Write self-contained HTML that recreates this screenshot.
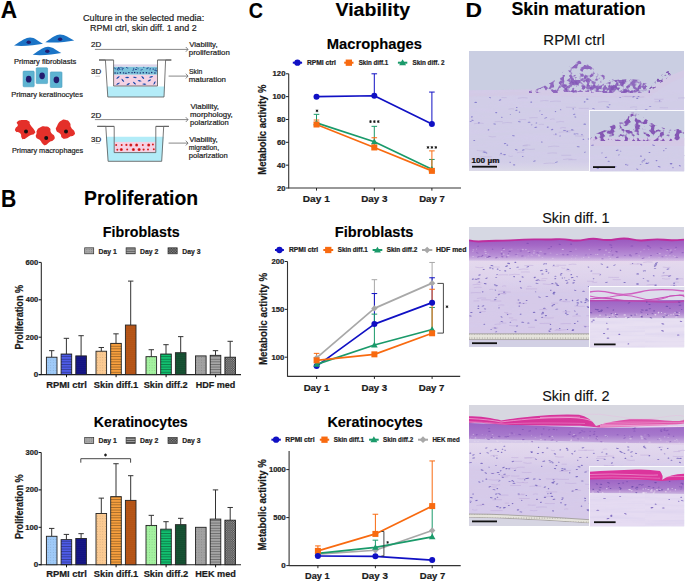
<!DOCTYPE html>
<html><head><meta charset="utf-8"><style>
html,body{margin:0;padding:0;background:#fff;}
svg{display:block;font-family:"Liberation Sans",sans-serif;}
</style></head><body>
<svg width="685" height="582" viewBox="0 0 685 582">
<defs>
<pattern id="pt1" width="2.6" height="2.6" patternUnits="userSpaceOnUse"><circle cx="1.3" cy="1.3" r="0.45" fill="#000" fill-opacity="0.18"/></pattern>
<pattern id="pt2" width="3" height="2.6" patternUnits="userSpaceOnUse"><rect x="0" y="0" width="3" height="0.9" fill="#000" fill-opacity="0.35"/></pattern>
<pattern id="pt3" width="2" height="2" patternUnits="userSpaceOnUse"><rect x="0" y="0" width="2" height="2" fill="#000" fill-opacity="0.22"/><circle cx="1" cy="1" r="0.6" fill="#fff" fill-opacity="0.22"/></pattern><pattern id="pt3g" width="1.8" height="1.8" patternUnits="userSpaceOnUse"><rect x="0" y="0" width="0.9" height="0.9" fill="#000" fill-opacity="0.5"/><rect x="0.9" y="0.9" width="0.9" height="0.9" fill="#000" fill-opacity="0.5"/><rect x="0.9" y="0" width="0.9" height="0.9" fill="#fff" fill-opacity="0.2"/></pattern>
<pattern id="pd1g" width="2.2" height="2.2" patternUnits="userSpaceOnUse"><rect width="2.2" height="2.2" fill="#a8a8a8"/><circle cx="1.1" cy="1.1" r="0.4" fill="#555"/></pattern>
<pattern id="pd2g" width="3" height="2.2" patternUnits="userSpaceOnUse"><rect width="3" height="2.2" fill="#a0a0a0"/><rect width="3" height="0.8" fill="#444"/></pattern>
<pattern id="pd3g" width="1.6" height="1.6" patternUnits="userSpaceOnUse"><rect width="1.6" height="1.6" fill="#909090"/><rect width="0.8" height="0.8" fill="#333"/><rect x="0.8" y="0.8" width="0.8" height="0.8" fill="#333"/></pattern>
<linearGradient id="gfade1" x1="0" y1="0" x2="0" y2="1"><stop offset="0" stop-color="#d8d4e8" stop-opacity="0"/><stop offset="1" stop-color="#dcdae8" stop-opacity="1"/></linearGradient>
<linearGradient id="gepi" x1="0" y1="0" x2="0" y2="1"><stop offset="0" stop-color="#9a58be"/><stop offset="0.3" stop-color="#a468c6"/><stop offset="0.75" stop-color="#b890d6"/><stop offset="1" stop-color="#d8c4e6"/></linearGradient>
<linearGradient id="gepi2" x1="0" y1="0" x2="0" y2="1"><stop offset="0" stop-color="#9e62c4"/><stop offset="0.65" stop-color="#aa7ccc"/><stop offset="1" stop-color="#ccb6e0"/></linearGradient>
<linearGradient id="gepi3" x1="0" y1="0" x2="0" y2="1"><stop offset="0" stop-color="#9c64c4"/><stop offset="0.55" stop-color="#a678cc"/><stop offset="1" stop-color="#cfbae2"/></linearGradient>
<linearGradient id="gtrans" x1="0" y1="0" x2="0" y2="1"><stop offset="0" stop-color="#dcc4e4" stop-opacity="0"/><stop offset="1" stop-color="#dcc8e8" stop-opacity="0.6"/></linearGradient>
<filter id="fstreak" x="0" y="0" width="1" height="1"><feTurbulence type="fractalNoise" baseFrequency="0.015 0.3" numOctaves="2" seed="4"/><feColorMatrix type="matrix" values="0 0 0 0 0.66  0 0 0 0 0.60  0 0 0 0 0.84  0 0 0 -1.3 0.8"/></filter>
<pattern id="streak" width="215" height="130" patternUnits="userSpaceOnUse"><rect width="215" height="130" filter="url(#fstreak)"/></pattern>
<pattern id="memb" width="2.6" height="4" patternUnits="userSpaceOnUse"><rect width="2.6" height="4" fill="#e6e4dc"/><circle cx="1.3" cy="2" r="0.6" fill="#9a968e"/></pattern>
<filter id="blotch" x="0" y="0" width="1" height="1"><feTurbulence type="fractalNoise" baseFrequency="0.2" numOctaves="2" seed="5" result="n"/><feColorMatrix in="n" type="matrix" values="0 0 0 0 0  0 0 0 0 0  0 0 0 0 0  7 0 0 0 -3.5" result="m"/><feComposite in="SourceGraphic" in2="m" operator="in" result="c"/><feGaussianBlur in="c" stdDeviation="0.35"/></filter>
<filter id="blotch2" x="0" y="0" width="1" height="1"><feTurbulence type="fractalNoise" baseFrequency="0.3" numOctaves="2" seed="8" result="n"/><feColorMatrix in="n" type="matrix" values="0 0 0 0 0  0 0 0 0 0  0 0 0 0 0  7 0 0 0 -3.5" result="m"/><feComposite in="SourceGraphic" in2="m" operator="in" result="c"/><feGaussianBlur in="c" stdDeviation="0.35"/></filter>
<filter id="blotch3" x="0" y="0" width="1" height="1"><feTurbulence type="fractalNoise" baseFrequency="0.2" numOctaves="2" seed="11" result="n"/><feColorMatrix in="n" type="matrix" values="0 0 0 0 0  0 0 0 0 0  0 0 0 0 0  7 0 0 0 -3.4" result="m"/><feComposite in="SourceGraphic" in2="m" operator="in" result="c"/><feGaussianBlur in="c" stdDeviation="0.35"/></filter>
<filter id="blotchd" x="0" y="0" width="1" height="1"><feTurbulence type="fractalNoise" baseFrequency="0.22" numOctaves="2" seed="17" result="n"/><feColorMatrix in="n" type="matrix" values="0 0 0 0 0  0 0 0 0 0  0 0 0 0 0  7 0 0 0 -3.2" result="m"/><feComposite in="SourceGraphic" in2="m" operator="in" result="c"/><feGaussianBlur in="c" stdDeviation="0.35"/></filter>
<linearGradient id="gpale" x1="0" y1="0" x2="0" y2="1"><stop offset="0" stop-color="#f2e8f2" stop-opacity="0.5"/><stop offset="0.5" stop-color="#f2e8f2" stop-opacity="0.3"/><stop offset="1" stop-color="#f2e8f2" stop-opacity="0"/></linearGradient>
<linearGradient id="gmag" x1="0" y1="0" x2="1" y2="0"><stop offset="0" stop-color="#d6329a"/><stop offset="0.55" stop-color="#d8389c"/><stop offset="0.65" stop-color="#de4aa6"/><stop offset="1" stop-color="#e058aa"/></linearGradient>
<clipPath id="cl1"><rect x="469" y="51" width="215" height="120"/></clipPath>
<clipPath id="cli1"><rect x="589.5" y="110.5" width="95" height="61"/></clipPath>
<clipPath id="cl2"><rect x="469" y="227" width="215" height="120"/></clipPath>
<clipPath id="cli2"><rect x="589.5" y="286.5" width="95" height="61"/></clipPath>
<clipPath id="cl3"><rect x="469" y="405" width="215" height="121"/></clipPath>
<clipPath id="cli3"><rect x="589.5" y="466.5" width="95" height="60"/></clipPath>
</defs>
<rect width="685" height="582" fill="#fff"/>
<text x="0.64" y="18.00" font-size="24.13" font-weight="bold" fill="#000" stroke="#000" stroke-width="0.13" textLength="16.36" lengthAdjust="spacingAndGlyphs" >A</text>
<text x="82.93" y="20.90" font-size="9.30" font-weight="normal" fill="#222" stroke="#222" stroke-width="0.20" textLength="121.30" lengthAdjust="spacingAndGlyphs" >Culture in the selected media:</text>
<text x="90.07" y="30.80" font-size="9.30" font-weight="normal" fill="#222" stroke="#222" stroke-width="0.20" textLength="106.58" lengthAdjust="spacingAndGlyphs" >RPMI ctrl, skin diff. 1 and 2</text>
<path d="M14,45.6 C22.0,40.4 26,37.6 30,37.6 C35,37.6 38,41.3 43,43.8 C35,45.0 24,46.800000000000004 14,45.6 Z" fill="#1b74c6" stroke="none" stroke-width="1" />
<path d="M45.3,42.2 C52.65,37.13 56,34.4 60,34.4 C65,34.4 69.2,38.0 74.2,40.5 C66.2,41.7 55.3,43.400000000000006 45.3,42.2 Z" fill="#1b74c6" stroke="none" stroke-width="1" />
<path d="M32.7,54.8 C40.35,49.535000000000004 44,46.7 48,46.7 C53,46.7 56.3,50.5 61.3,53.0 C53.3,54.2 42.7,56.0 32.7,54.8 Z" fill="#1b74c6" stroke="none" stroke-width="1" />
<ellipse cx="28.70" cy="42.20" rx="2.20" ry="1.70" fill="#221c6e" />
<ellipse cx="60.10" cy="39.20" rx="2.20" ry="1.70" fill="#221c6e" />
<ellipse cx="47.30" cy="51.30" rx="2.20" ry="1.70" fill="#221c6e" />
<text x="13.98" y="64.00" font-size="7.27" font-weight="normal" fill="#222" stroke="#222" stroke-width="0.20" textLength="62.29" lengthAdjust="spacingAndGlyphs" >Primary fibroblasts</text>
<rect x="23.10" y="71.10" width="11.10" height="15.70" fill="#5eb4d2" rx="0.8" stroke="#4a9ec0" stroke-width="0.6"/>
<ellipse cx="28.70" cy="79.20" rx="2.80" ry="3.40" fill="#221c6e" />
<rect x="36.20" y="67.80" width="11.40" height="15.80" fill="#5eb4d2" rx="0.8" stroke="#4a9ec0" stroke-width="0.6"/>
<ellipse cx="42.10" cy="75.80" rx="2.80" ry="3.40" fill="#221c6e" />
<rect x="50.30" y="71.90" width="11.70" height="15.60" fill="#5eb4d2" rx="0.8" stroke="#4a9ec0" stroke-width="0.6"/>
<ellipse cx="56.40" cy="79.80" rx="2.80" ry="3.40" fill="#221c6e" />
<text x="11.19" y="96.50" font-size="7.27" font-weight="normal" fill="#222" stroke="#222" stroke-width="0.20" textLength="71.78" lengthAdjust="spacingAndGlyphs" >Primary keratinocytes</text>
<path d="M17.30,121.80 C19.04,120.12 20.12,120.15 23.60,120.00 C27.08,119.85 26.89,119.89 28.90,121.30 C30.91,122.71 28.59,121.94 30.30,124.70 C32.01,127.46 33.43,127.77 34.60,130.50 C35.77,133.23 35.49,132.36 34.20,133.80 C32.91,135.24 32.61,134.13 30.30,135.30 C27.99,136.47 28.51,136.56 26.50,137.70 C24.49,138.84 25.07,139.10 23.60,139.10 C22.13,139.10 22.62,139.44 21.60,137.70 C20.58,135.96 21.91,135.19 20.20,133.30 C18.49,131.41 17.34,132.84 15.90,131.40 C14.46,129.96 14.83,130.24 15.40,128.50 C15.97,126.76 17.23,127.61 17.80,125.60 C18.37,123.59 15.56,123.48 17.30,121.80 Z" fill="#e4302a" stroke="none" stroke-width="1" />
<path d="M37.00,130.50 C37.99,128.79 37.56,128.83 39.90,127.60 C42.24,126.37 41.89,126.28 44.80,126.40 C47.71,126.52 47.74,126.20 49.60,128.00 C51.46,129.80 49.56,129.94 51.00,132.40 C52.44,134.86 53.68,133.89 54.40,136.20 C55.12,138.51 54.84,138.36 53.40,140.10 C51.96,141.84 51.91,140.56 49.60,142.00 C47.29,143.44 47.74,144.33 45.70,144.90 C43.66,145.47 44.54,145.34 42.80,143.90 C41.06,142.46 41.91,142.11 39.90,140.10 C37.89,138.09 37.09,139.24 36.10,137.20 C35.11,135.16 36.33,135.31 36.60,133.30 C36.87,131.29 36.01,132.21 37.00,130.50 Z" fill="#e4302a" stroke="none" stroke-width="1" />
<path d="M57.30,125.60 C58.74,122.69 58.49,122.48 61.10,120.80 C63.71,119.12 63.39,119.43 66.00,120.00 C68.61,120.57 68.24,120.42 69.80,122.70 C71.36,124.98 69.76,124.84 71.20,127.60 C72.64,130.36 73.85,129.59 74.60,131.90 C75.35,134.21 75.14,133.86 73.70,135.30 C72.26,136.74 72.11,135.71 69.80,136.70 C67.49,137.69 68.31,138.30 66.00,138.60 C63.69,138.90 63.84,139.14 62.10,137.70 C60.36,136.26 61.94,135.96 60.20,133.80 C58.46,131.64 57.17,132.96 56.30,130.50 C55.43,128.04 55.86,128.51 57.30,125.60 Z" fill="#e4302a" stroke="none" stroke-width="1" />
<circle cx="26.00" cy="131.40" r="2.00" fill="#111" />
<circle cx="46.20" cy="138.00" r="2.00" fill="#111" />
<circle cx="66.00" cy="131.40" r="2.00" fill="#111" />
<text x="12.00" y="152.90" font-size="7.27" font-weight="normal" fill="#222" stroke="#222" stroke-width="0.20" textLength="71.26" lengthAdjust="spacingAndGlyphs" >Primary macrophages</text>
<text x="91.00" y="47.30" font-size="6.98" font-weight="normal" fill="#222" stroke="#222" stroke-width="0.20" textLength="10.18" lengthAdjust="spacingAndGlyphs" >2D</text>
<line x1="94.90" y1="49.40" x2="188.00" y2="49.40" stroke="#555" stroke-width="0.7" />
<path d="M185.8,47.0 L188,49.4 L185.8,51.8" fill="none" stroke="#555" stroke-width="0.7" />
<text x="91.10" y="74.00" font-size="6.98" font-weight="normal" fill="#222" stroke="#222" stroke-width="0.20" textLength="10.08" lengthAdjust="spacingAndGlyphs" >3D</text>
<line x1="95.30" y1="76.20" x2="100.00" y2="76.20" stroke="#aaa" stroke-width="0.6" />
<path d="M105.4,60 L107.8,97 L164,97 L165.6,60 Z" fill="none" stroke="none" stroke-width="1" />
<path d="M106.9,86.5 L107.8,97 L164,97 L164.7,86.5 Z" fill="#b4ecf8" stroke="none" stroke-width="1" />
<rect x="113.60" y="74.60" width="43.80" height="11.40" fill="#f4d2e4" />
<rect x="113.60" y="66.60" width="43.80" height="8.00" fill="#7cc2da" />
<rect x="113.60" y="64.40" width="43.80" height="2.20" fill="#ddd4ea" />
<ellipse cx="133.53" cy="69.22" rx="0.65" ry="0.50" fill="#2a4e96" />
<ellipse cx="153.58" cy="68.88" rx="0.65" ry="0.50" fill="#2a4e96" />
<ellipse cx="135.88" cy="69.31" rx="0.65" ry="0.50" fill="#2a4e96" />
<ellipse cx="122.15" cy="69.04" rx="0.65" ry="0.50" fill="#2a4e96" />
<ellipse cx="141.07" cy="70.05" rx="0.65" ry="0.50" fill="#2a4e96" />
<ellipse cx="118.30" cy="68.29" rx="0.65" ry="0.50" fill="#2a4e96" />
<ellipse cx="118.15" cy="70.11" rx="0.65" ry="0.50" fill="#2a4e96" />
<ellipse cx="143.77" cy="67.35" rx="0.65" ry="0.50" fill="#2a4e96" />
<ellipse cx="156.04" cy="70.67" rx="0.65" ry="0.50" fill="#2a4e96" />
<ellipse cx="142.09" cy="69.42" rx="0.65" ry="0.50" fill="#2a4e96" />
<ellipse cx="120.99" cy="67.25" rx="0.65" ry="0.50" fill="#2a4e96" />
<ellipse cx="136.76" cy="67.41" rx="0.65" ry="0.50" fill="#2a4e96" />
<ellipse cx="122.38" cy="68.07" rx="0.65" ry="0.50" fill="#2a4e96" />
<ellipse cx="115.58" cy="68.87" rx="0.65" ry="0.50" fill="#2a4e96" />
<ellipse cx="133.02" cy="70.23" rx="0.65" ry="0.50" fill="#2a4e96" />
<ellipse cx="136.36" cy="69.51" rx="0.65" ry="0.50" fill="#2a4e96" />
<ellipse cx="135.54" cy="69.58" rx="0.65" ry="0.50" fill="#2a4e96" />
<ellipse cx="133.74" cy="68.20" rx="0.65" ry="0.50" fill="#2a4e96" />
<ellipse cx="156.70" cy="70.78" rx="0.65" ry="0.50" fill="#2a4e96" />
<ellipse cx="150.01" cy="69.75" rx="0.65" ry="0.50" fill="#2a4e96" />
<ellipse cx="127.70" cy="68.03" rx="0.65" ry="0.50" fill="#2a4e96" />
<ellipse cx="126.58" cy="67.45" rx="0.65" ry="0.50" fill="#2a4e96" />
<ellipse cx="146.87" cy="68.64" rx="0.65" ry="0.50" fill="#2a4e96" />
<ellipse cx="150.28" cy="68.59" rx="0.65" ry="0.50" fill="#2a4e96" />
<ellipse cx="155.02" cy="70.25" rx="0.65" ry="0.50" fill="#2a4e96" />
<ellipse cx="114.32" cy="67.95" rx="0.65" ry="0.50" fill="#2a4e96" />
<ellipse cx="152.99" cy="68.89" rx="0.65" ry="0.50" fill="#2a4e96" />
<ellipse cx="155.97" cy="68.63" rx="0.65" ry="0.50" fill="#2a4e96" />
<ellipse cx="117.40" cy="69.47" rx="0.65" ry="0.50" fill="#2a4e96" />
<ellipse cx="147.39" cy="68.17" rx="0.65" ry="0.50" fill="#2a4e96" />
<ellipse cx="118.00" cy="68.40" rx="0.65" ry="0.50" fill="#2a4e96" />
<ellipse cx="155.27" cy="69.93" rx="0.65" ry="0.50" fill="#2a4e96" />
<ellipse cx="119.31" cy="68.09" rx="0.65" ry="0.50" fill="#2a4e96" />
<ellipse cx="118.59" cy="67.42" rx="0.65" ry="0.50" fill="#2a4e96" />
<ellipse cx="148.17" cy="67.84" rx="0.65" ry="0.50" fill="#2a4e96" />
<ellipse cx="138.07" cy="68.81" rx="0.65" ry="0.50" fill="#2a4e96" />
<ellipse cx="122.40" cy="69.83" rx="0.65" ry="0.50" fill="#2a4e96" />
<ellipse cx="119.87" cy="69.52" rx="0.65" ry="0.50" fill="#2a4e96" />
<ellipse cx="119.25" cy="68.71" rx="0.65" ry="0.50" fill="#2a4e96" />
<ellipse cx="123.35" cy="68.17" rx="0.65" ry="0.50" fill="#2a4e96" />
<ellipse cx="115.08" cy="73.04" rx="0.75" ry="0.70" fill="#16246a" />
<ellipse cx="117.53" cy="73.11" rx="0.75" ry="0.70" fill="#16246a" />
<ellipse cx="120.33" cy="72.72" rx="0.75" ry="0.70" fill="#16246a" />
<ellipse cx="123.56" cy="72.91" rx="0.75" ry="0.70" fill="#16246a" />
<ellipse cx="125.96" cy="73.19" rx="0.75" ry="0.70" fill="#16246a" />
<ellipse cx="128.88" cy="72.61" rx="0.75" ry="0.70" fill="#16246a" />
<ellipse cx="132.06" cy="72.66" rx="0.75" ry="0.70" fill="#16246a" />
<ellipse cx="134.63" cy="72.46" rx="0.75" ry="0.70" fill="#16246a" />
<ellipse cx="137.35" cy="72.87" rx="0.75" ry="0.70" fill="#16246a" />
<ellipse cx="140.30" cy="72.88" rx="0.75" ry="0.70" fill="#16246a" />
<ellipse cx="143.22" cy="72.76" rx="0.75" ry="0.70" fill="#16246a" />
<ellipse cx="146.43" cy="72.79" rx="0.75" ry="0.70" fill="#16246a" />
<ellipse cx="149.04" cy="73.09" rx="0.75" ry="0.70" fill="#16246a" />
<ellipse cx="151.66" cy="72.52" rx="0.75" ry="0.70" fill="#16246a" />
<ellipse cx="154.95" cy="73.05" rx="0.75" ry="0.70" fill="#16246a" />
<ellipse cx="118.00" cy="77.50" rx="2.00" ry="0.65" fill="#2a62c0" transform="rotate(-40 118 77.5)"/>
<ellipse cx="118.00" cy="77.50" rx="0.70" ry="0.40" fill="#1a2a80" transform="rotate(-40 118 77.5)"/>
<ellipse cx="127.20" cy="77.50" rx="2.00" ry="0.65" fill="#2a62c0" transform="rotate(0 127.2 77.5)"/>
<ellipse cx="127.20" cy="77.50" rx="0.70" ry="0.40" fill="#1a2a80" transform="rotate(0 127.2 77.5)"/>
<ellipse cx="134.80" cy="77.40" rx="2.00" ry="0.65" fill="#2a62c0" transform="rotate(10 134.8 77.4)"/>
<ellipse cx="134.80" cy="77.40" rx="0.70" ry="0.40" fill="#1a2a80" transform="rotate(10 134.8 77.4)"/>
<ellipse cx="142.80" cy="77.50" rx="2.00" ry="0.65" fill="#2a62c0" transform="rotate(50 142.8 77.5)"/>
<ellipse cx="142.80" cy="77.50" rx="0.70" ry="0.40" fill="#1a2a80" transform="rotate(50 142.8 77.5)"/>
<ellipse cx="151.20" cy="76.90" rx="2.00" ry="0.65" fill="#2a62c0" transform="rotate(-15 151.2 76.9)"/>
<ellipse cx="151.20" cy="76.90" rx="0.70" ry="0.40" fill="#1a2a80" transform="rotate(-15 151.2 76.9)"/>
<ellipse cx="122.80" cy="80.40" rx="2.00" ry="0.65" fill="#2a62c0" transform="rotate(50 122.8 80.4)"/>
<ellipse cx="122.80" cy="80.40" rx="0.70" ry="0.40" fill="#1a2a80" transform="rotate(50 122.8 80.4)"/>
<ellipse cx="139.60" cy="80.80" rx="2.00" ry="0.65" fill="#2a62c0" transform="rotate(10 139.6 80.8)"/>
<ellipse cx="139.60" cy="80.80" rx="0.70" ry="0.40" fill="#1a2a80" transform="rotate(10 139.6 80.8)"/>
<ellipse cx="149.40" cy="80.40" rx="2.00" ry="0.65" fill="#2a62c0" transform="rotate(-30 149.4 80.4)"/>
<ellipse cx="149.40" cy="80.40" rx="0.70" ry="0.40" fill="#1a2a80" transform="rotate(-30 149.4 80.4)"/>
<ellipse cx="118.00" cy="83.70" rx="2.00" ry="0.65" fill="#2a62c0" transform="rotate(-30 118 83.7)"/>
<ellipse cx="118.00" cy="83.70" rx="0.70" ry="0.40" fill="#1a2a80" transform="rotate(-30 118 83.7)"/>
<ellipse cx="128.20" cy="84.10" rx="2.00" ry="0.65" fill="#2a62c0" transform="rotate(-30 128.2 84.1)"/>
<ellipse cx="128.20" cy="84.10" rx="0.70" ry="0.40" fill="#1a2a80" transform="rotate(-30 128.2 84.1)"/>
<ellipse cx="134.50" cy="83.20" rx="2.00" ry="0.65" fill="#2a62c0" transform="rotate(40 134.5 83.2)"/>
<ellipse cx="134.50" cy="83.20" rx="0.70" ry="0.40" fill="#1a2a80" transform="rotate(40 134.5 83.2)"/>
<ellipse cx="144.30" cy="84.10" rx="2.00" ry="0.65" fill="#2a62c0" transform="rotate(5 144.3 84.1)"/>
<ellipse cx="144.30" cy="84.10" rx="0.70" ry="0.40" fill="#1a2a80" transform="rotate(5 144.3 84.1)"/>
<ellipse cx="154.50" cy="83.00" rx="2.00" ry="0.65" fill="#2a62c0" transform="rotate(-60 154.5 83)"/>
<ellipse cx="154.50" cy="83.00" rx="0.70" ry="0.40" fill="#1a2a80" transform="rotate(-60 154.5 83)"/>
<path d="M99,60 L105.4,60 L107.8,97 L164,97 L165.6,60 L171.3,60" fill="none" stroke="#555" stroke-width="0.8" />
<path d="M113.6,60 L113.6,86 L157.5,86 L157.5,60" fill="none" stroke="#555" stroke-width="0.8" />
<line x1="99.00" y1="60.00" x2="113.60" y2="60.00" stroke="#666" stroke-width="1.2" />
<line x1="157.50" y1="60.00" x2="171.30" y2="60.00" stroke="#666" stroke-width="1.2" />
<line x1="168.60" y1="76.10" x2="188.00" y2="76.10" stroke="#555" stroke-width="0.7" />
<path d="M185.8,73.69999999999999 L188,76.1 L185.8,78.5" fill="none" stroke="#555" stroke-width="0.7" />
<text x="189.27" y="47.20" font-size="7.27" font-weight="normal" fill="#222" stroke="#222" stroke-width="0.20" textLength="28.32" lengthAdjust="spacingAndGlyphs" >Viability,</text>
<text x="188.79" y="54.80" font-size="7.27" font-weight="normal" fill="#222" stroke="#222" stroke-width="0.20" textLength="41.02" lengthAdjust="spacingAndGlyphs" >proliferation</text>
<text x="188.99" y="73.70" font-size="7.27" font-weight="normal" fill="#222" stroke="#222" stroke-width="0.20" textLength="13.25" lengthAdjust="spacingAndGlyphs" >Skin</text>
<text x="188.78" y="81.80" font-size="7.27" font-weight="normal" fill="#222" stroke="#222" stroke-width="0.20" textLength="37.13" lengthAdjust="spacingAndGlyphs" >maturation</text>
<text x="91.00" y="117.80" font-size="6.98" font-weight="normal" fill="#222" stroke="#222" stroke-width="0.20" textLength="10.18" lengthAdjust="spacingAndGlyphs" >2D</text>
<line x1="94.90" y1="119.60" x2="188.00" y2="119.60" stroke="#555" stroke-width="0.7" />
<path d="M185.8,117.19999999999999 L188,119.6 L185.8,122.0" fill="none" stroke="#555" stroke-width="0.7" />
<text x="91.10" y="141.50" font-size="6.98" font-weight="normal" fill="#222" stroke="#222" stroke-width="0.20" textLength="10.08" lengthAdjust="spacingAndGlyphs" >3D</text>
<line x1="95.30" y1="143.50" x2="100.00" y2="143.50" stroke="#aaa" stroke-width="0.6" />
<path d="M105.8,136.8 L108.1,161.3 L161.7,161.3 L163.7,136.8 Z" fill="#b2ecf8" stroke="none" stroke-width="1" />
<rect x="114.20" y="141.90" width="41.50" height="10.70" fill="#f4d2e4" />
<circle cx="116.20" cy="144.90" r="1.00" fill="#e42a2a" />
<circle cx="116.20" cy="144.90" r="0.40" fill="#a00a10" />
<circle cx="121.70" cy="144.90" r="1.00" fill="#e42a2a" />
<circle cx="121.70" cy="144.90" r="0.40" fill="#a00a10" />
<circle cx="126.40" cy="144.90" r="1.12" fill="#e42a2a" />
<circle cx="126.40" cy="144.90" r="0.45" fill="#a00a10" />
<circle cx="130.80" cy="144.90" r="1.50" fill="#e42a2a" />
<circle cx="130.80" cy="144.90" r="0.60" fill="#a00a10" />
<circle cx="136.60" cy="144.90" r="1.50" fill="#e42a2a" />
<circle cx="136.60" cy="144.90" r="0.60" fill="#a00a10" />
<circle cx="142.80" cy="144.90" r="1.00" fill="#e42a2a" />
<circle cx="142.80" cy="144.90" r="0.40" fill="#a00a10" />
<circle cx="148.70" cy="144.90" r="1.50" fill="#e42a2a" />
<circle cx="148.70" cy="144.90" r="0.60" fill="#a00a10" />
<circle cx="152.90" cy="144.50" r="1.00" fill="#e42a2a" />
<circle cx="152.90" cy="144.50" r="0.40" fill="#a00a10" />
<circle cx="117.30" cy="149.80" r="1.00" fill="#e42a2a" />
<circle cx="117.30" cy="149.80" r="0.40" fill="#a00a10" />
<circle cx="121.30" cy="149.60" r="1.50" fill="#e42a2a" />
<circle cx="121.30" cy="149.60" r="0.60" fill="#a00a10" />
<circle cx="127.20" cy="149.60" r="1.00" fill="#e42a2a" />
<circle cx="127.20" cy="149.60" r="0.40" fill="#a00a10" />
<circle cx="133.40" cy="149.60" r="1.50" fill="#e42a2a" />
<circle cx="133.40" cy="149.60" r="0.60" fill="#a00a10" />
<circle cx="139.10" cy="149.60" r="1.50" fill="#e42a2a" />
<circle cx="139.10" cy="149.60" r="0.60" fill="#a00a10" />
<circle cx="143.60" cy="149.60" r="1.12" fill="#e42a2a" />
<circle cx="143.60" cy="149.60" r="0.45" fill="#a00a10" />
<circle cx="148.00" cy="149.60" r="1.00" fill="#e42a2a" />
<circle cx="148.00" cy="149.60" r="0.40" fill="#a00a10" />
<circle cx="153.80" cy="149.30" r="1.00" fill="#e42a2a" />
<circle cx="153.80" cy="149.30" r="0.40" fill="#a00a10" />
<path d="M97.3,126.4 L105.8,126.4 L108.1,161.3 L161.7,161.3 L163.7,126.4 L168.9,126.4" fill="none" stroke="#555" stroke-width="0.8" />
<path d="M114.2,126.4 L114.2,152.6 L155.8,152.6 L155.8,126.4" fill="none" stroke="#555" stroke-width="0.8" />
<line x1="97.30" y1="126.40" x2="114.20" y2="126.40" stroke="#666" stroke-width="1.2" />
<line x1="155.80" y1="126.40" x2="168.90" y2="126.40" stroke="#666" stroke-width="1.2" />
<line x1="168.60" y1="143.10" x2="188.00" y2="143.10" stroke="#555" stroke-width="0.7" />
<path d="M185.8,140.7 L188,143.1 L185.8,145.5" fill="none" stroke="#555" stroke-width="0.7" />
<text x="190.57" y="108.90" font-size="7.27" font-weight="normal" fill="#222" stroke="#222" stroke-width="0.20" textLength="28.32" lengthAdjust="spacingAndGlyphs" >Viability,</text>
<text x="190.09" y="117.10" font-size="7.27" font-weight="normal" fill="#222" stroke="#222" stroke-width="0.20" textLength="42.61" lengthAdjust="spacingAndGlyphs" >morphology,</text>
<text x="190.11" y="125.00" font-size="7.27" font-weight="normal" fill="#222" stroke="#222" stroke-width="0.20" textLength="38.68" lengthAdjust="spacingAndGlyphs" >polarization</text>
<text x="189.27" y="142.30" font-size="7.27" font-weight="normal" fill="#222" stroke="#222" stroke-width="0.20" textLength="28.42" lengthAdjust="spacingAndGlyphs" >Viability,</text>
<text x="188.84" y="150.30" font-size="7.27" font-weight="normal" fill="#222" stroke="#222" stroke-width="0.20" textLength="30.28" lengthAdjust="spacingAndGlyphs" >migration,</text>
<text x="188.81" y="157.80" font-size="7.27" font-weight="normal" fill="#222" stroke="#222" stroke-width="0.20" textLength="39.09" lengthAdjust="spacingAndGlyphs" >polarization</text>
<text x="0.89" y="206.50" font-size="23.84" font-weight="bold" fill="#000" stroke="#000" stroke-width="0.13" textLength="15.28" lengthAdjust="spacingAndGlyphs" >B</text>
<text x="84.00" y="204.60" font-size="19.62" font-weight="bold" fill="#000" stroke="#000" stroke-width="0.13" textLength="114.20" lengthAdjust="spacingAndGlyphs" >Proliferation</text>
<text x="102.75" y="236.80" font-size="14.53" font-weight="bold" fill="#000" stroke="#000" stroke-width="0.13" textLength="76.94" lengthAdjust="spacingAndGlyphs" >Fibroblasts</text>
<rect x="84.70" y="247.80" width="9.00" height="6.00" fill="url(#pd1g)" stroke="#333" stroke-width="0.7"/>
<text x="98.54" y="253.60" font-size="7.85" font-weight="bold" fill="#222" stroke="#222" stroke-width="0.22" textLength="18.25" lengthAdjust="spacingAndGlyphs" >Day 1</text>
<rect x="126.10" y="247.80" width="9.10" height="6.00" fill="url(#pd2g)" stroke="#333" stroke-width="0.7"/>
<text x="140.04" y="253.60" font-size="7.85" font-weight="bold" fill="#222" stroke="#222" stroke-width="0.22" textLength="18.23" lengthAdjust="spacingAndGlyphs" >Day 2</text>
<rect x="168.00" y="247.80" width="9.20" height="6.00" fill="url(#pd3g)" stroke="#333" stroke-width="0.7"/>
<text x="182.24" y="253.60" font-size="7.85" font-weight="bold" fill="#222" stroke="#222" stroke-width="0.22" textLength="18.20" lengthAdjust="spacingAndGlyphs" >Day 3</text>
<line x1="41.30" y1="262.40" x2="41.30" y2="375.10" stroke="#222" stroke-width="1.05" />
<line x1="38.70" y1="374.60" x2="241.00" y2="374.60" stroke="#222" stroke-width="1.15" />
<line x1="38.70" y1="374.60" x2="41.30" y2="374.60" stroke="#111" stroke-width="1.0" />
<text x="33.78" y="377.10" font-size="7.27" font-weight="bold" fill="#222" stroke="#222" stroke-width="0.22" textLength="4.44" lengthAdjust="spacingAndGlyphs" >0</text>
<line x1="38.70" y1="337.20" x2="41.30" y2="337.20" stroke="#111" stroke-width="1.0" />
<text x="25.64" y="339.70" font-size="7.27" font-weight="bold" fill="#222" stroke="#222" stroke-width="0.22" textLength="12.57" lengthAdjust="spacingAndGlyphs" >200</text>
<line x1="38.70" y1="299.80" x2="41.30" y2="299.80" stroke="#111" stroke-width="1.0" />
<text x="25.79" y="302.30" font-size="7.27" font-weight="bold" fill="#222" stroke="#222" stroke-width="0.22" textLength="12.42" lengthAdjust="spacingAndGlyphs" >400</text>
<line x1="38.70" y1="262.40" x2="41.30" y2="262.40" stroke="#111" stroke-width="1.0" />
<text x="25.62" y="264.90" font-size="7.27" font-weight="bold" fill="#222" stroke="#222" stroke-width="0.22" textLength="12.59" lengthAdjust="spacingAndGlyphs" >600</text>
<line x1="66.50" y1="374.60" x2="66.50" y2="377.20" stroke="#111" stroke-width="1.0" />
<line x1="51.70" y1="350.66" x2="51.70" y2="357.21" stroke="#333" stroke-width="1.0" />
<line x1="49.00" y1="350.66" x2="54.40" y2="350.66" stroke="#333" stroke-width="1.0" />
<rect x="46.40" y="357.21" width="10.60" height="17.39" fill="#9fcaf8" stroke="#222" stroke-width="0.9"/>
<rect x="46.40" y="357.21" width="10.60" height="17.39" fill="url(#pt1)" />
<line x1="66.40" y1="338.32" x2="66.40" y2="354.03" stroke="#333" stroke-width="1.0" />
<line x1="63.70" y1="338.32" x2="69.10" y2="338.32" stroke="#333" stroke-width="1.0" />
<rect x="61.10" y="354.03" width="10.60" height="20.57" fill="#4e5ce8" stroke="#222" stroke-width="0.9"/>
<rect x="61.10" y="354.03" width="10.60" height="20.57" fill="url(#pt2)" />
<line x1="81.10" y1="335.70" x2="81.10" y2="355.90" stroke="#333" stroke-width="1.0" />
<line x1="78.40" y1="335.70" x2="83.80" y2="335.70" stroke="#333" stroke-width="1.0" />
<rect x="75.80" y="355.90" width="10.60" height="18.70" fill="#0c0ca0" stroke="#222" stroke-width="0.9"/>
<rect x="75.80" y="355.90" width="10.60" height="18.70" fill="url(#pt3)" />
<line x1="116.10" y1="374.60" x2="116.10" y2="377.20" stroke="#111" stroke-width="1.0" />
<line x1="101.30" y1="347.49" x2="101.30" y2="351.23" stroke="#333" stroke-width="1.0" />
<line x1="98.60" y1="347.49" x2="104.00" y2="347.49" stroke="#333" stroke-width="1.0" />
<rect x="96.00" y="351.23" width="10.60" height="23.38" fill="#fbca92" stroke="#222" stroke-width="0.9"/>
<rect x="96.00" y="351.23" width="10.60" height="23.38" fill="url(#pt1)" />
<line x1="116.00" y1="333.83" x2="116.00" y2="343.37" stroke="#333" stroke-width="1.0" />
<line x1="113.30" y1="333.83" x2="118.70" y2="333.83" stroke="#333" stroke-width="1.0" />
<rect x="110.70" y="343.37" width="10.60" height="31.23" fill="#f8a03e" stroke="#222" stroke-width="0.9"/>
<rect x="110.70" y="343.37" width="10.60" height="31.23" fill="url(#pt2)" />
<line x1="130.70" y1="281.10" x2="130.70" y2="325.05" stroke="#333" stroke-width="1.0" />
<line x1="128.00" y1="281.10" x2="133.40" y2="281.10" stroke="#333" stroke-width="1.0" />
<rect x="125.40" y="325.05" width="10.60" height="49.56" fill="#e2600e" stroke="#222" stroke-width="0.9"/>
<rect x="125.40" y="325.05" width="10.60" height="49.56" fill="url(#pt3)" />
<line x1="166.10" y1="374.60" x2="166.10" y2="377.20" stroke="#111" stroke-width="1.0" />
<line x1="151.30" y1="349.73" x2="151.30" y2="356.65" stroke="#333" stroke-width="1.0" />
<line x1="148.60" y1="349.73" x2="154.00" y2="349.73" stroke="#333" stroke-width="1.0" />
<rect x="146.00" y="356.65" width="10.60" height="17.95" fill="#a4f2a0" stroke="#222" stroke-width="0.9"/>
<rect x="146.00" y="356.65" width="10.60" height="17.95" fill="url(#pt1)" />
<line x1="166.00" y1="344.68" x2="166.00" y2="354.03" stroke="#333" stroke-width="1.0" />
<line x1="163.30" y1="344.68" x2="168.70" y2="344.68" stroke="#333" stroke-width="1.0" />
<rect x="160.70" y="354.03" width="10.60" height="20.57" fill="#12c070" stroke="#222" stroke-width="0.9"/>
<rect x="160.70" y="354.03" width="10.60" height="20.57" fill="url(#pt2)" />
<line x1="180.70" y1="336.64" x2="180.70" y2="352.72" stroke="#333" stroke-width="1.0" />
<line x1="178.00" y1="336.64" x2="183.40" y2="336.64" stroke="#333" stroke-width="1.0" />
<rect x="175.40" y="352.72" width="10.60" height="21.88" fill="#0c5a32" stroke="#222" stroke-width="0.9"/>
<rect x="175.40" y="352.72" width="10.60" height="21.88" fill="url(#pt3)" />
<line x1="215.60" y1="374.60" x2="215.60" y2="377.20" stroke="#111" stroke-width="1.0" />
<rect x="195.50" y="355.90" width="10.60" height="18.70" fill="#a2a2a2" stroke="#222" stroke-width="0.9"/>
<rect x="195.50" y="355.90" width="10.60" height="18.70" fill="url(#pt1)" />
<line x1="215.50" y1="350.66" x2="215.50" y2="355.34" stroke="#333" stroke-width="1.0" />
<line x1="212.80" y1="350.66" x2="218.20" y2="350.66" stroke="#333" stroke-width="1.0" />
<rect x="210.20" y="355.34" width="10.60" height="19.26" fill="#a6a6a6" stroke="#222" stroke-width="0.9"/>
<rect x="210.20" y="355.34" width="10.60" height="19.26" fill="url(#pt2)" />
<line x1="230.20" y1="341.31" x2="230.20" y2="357.21" stroke="#333" stroke-width="1.0" />
<line x1="227.50" y1="341.31" x2="232.90" y2="341.31" stroke="#333" stroke-width="1.0" />
<rect x="224.90" y="357.21" width="10.60" height="17.39" fill="#8c8c8c" stroke="#222" stroke-width="0.9"/>
<rect x="224.90" y="357.21" width="10.60" height="17.39" fill="url(#pt3g)" />
<text x="46.17" y="387.80" font-size="9.45" font-weight="bold" fill="#1a1a1a" stroke="#1a1a1a" stroke-width="0.22" textLength="40.69" lengthAdjust="spacingAndGlyphs" >RPMI ctrl</text>
<text x="93.83" y="387.80" font-size="9.45" font-weight="bold" fill="#1a1a1a" stroke="#1a1a1a" stroke-width="0.22" textLength="44.43" lengthAdjust="spacingAndGlyphs" >Skin diff.1</text>
<text x="143.63" y="387.80" font-size="9.45" font-weight="bold" fill="#1a1a1a" stroke="#1a1a1a" stroke-width="0.22" textLength="44.03" lengthAdjust="spacingAndGlyphs" >Skin diff.2</text>
<text x="195.80" y="387.80" font-size="9.45" font-weight="bold" fill="#1a1a1a" stroke="#1a1a1a" stroke-width="0.22" textLength="39.60" lengthAdjust="spacingAndGlyphs" >HDF med</text>
<text transform="translate(23.00,349.41) rotate(-90)" x="0" y="0" font-size="10.17" font-weight="bold" fill="#1a1a1a" stroke="#1a1a1a" stroke-width="0.22" textLength="64.65" lengthAdjust="spacingAndGlyphs">Proliferation %</text>
<text x="93.85" y="427.10" font-size="13.95" font-weight="bold" fill="#000" stroke="#000" stroke-width="0.13" textLength="93.93" lengthAdjust="spacingAndGlyphs" >Keratinocytes</text>
<rect x="84.70" y="437.50" width="9.00" height="6.10" fill="url(#pd1g)" stroke="#333" stroke-width="0.7"/>
<text x="98.54" y="443.20" font-size="7.85" font-weight="bold" fill="#222" stroke="#222" stroke-width="0.22" textLength="18.25" lengthAdjust="spacingAndGlyphs" >Day 1</text>
<rect x="126.10" y="437.50" width="9.10" height="6.10" fill="url(#pd2g)" stroke="#333" stroke-width="0.7"/>
<text x="140.04" y="443.20" font-size="7.85" font-weight="bold" fill="#222" stroke="#222" stroke-width="0.22" textLength="18.23" lengthAdjust="spacingAndGlyphs" >Day 2</text>
<rect x="168.00" y="437.50" width="9.20" height="6.10" fill="url(#pd3g)" stroke="#333" stroke-width="0.7"/>
<text x="182.24" y="443.20" font-size="7.85" font-weight="bold" fill="#222" stroke="#222" stroke-width="0.22" textLength="18.20" lengthAdjust="spacingAndGlyphs" >Day 3</text>
<line x1="41.20" y1="452.50" x2="41.20" y2="565.20" stroke="#222" stroke-width="1.05" />
<line x1="38.60" y1="564.70" x2="241.00" y2="564.70" stroke="#222" stroke-width="1.15" />
<line x1="38.60" y1="564.70" x2="41.20" y2="564.70" stroke="#111" stroke-width="1.0" />
<text x="33.68" y="567.20" font-size="7.27" font-weight="bold" fill="#222" stroke="#222" stroke-width="0.22" textLength="4.44" lengthAdjust="spacingAndGlyphs" >0</text>
<line x1="38.60" y1="527.30" x2="41.20" y2="527.30" stroke="#111" stroke-width="1.0" />
<text x="25.32" y="529.80" font-size="7.27" font-weight="bold" fill="#222" stroke="#222" stroke-width="0.22" textLength="12.80" lengthAdjust="spacingAndGlyphs" >100</text>
<line x1="38.60" y1="489.90" x2="41.20" y2="489.90" stroke="#111" stroke-width="1.0" />
<text x="25.54" y="492.40" font-size="7.27" font-weight="bold" fill="#222" stroke="#222" stroke-width="0.22" textLength="12.57" lengthAdjust="spacingAndGlyphs" >200</text>
<line x1="38.60" y1="452.50" x2="41.20" y2="452.50" stroke="#111" stroke-width="1.0" />
<text x="25.63" y="455.00" font-size="7.27" font-weight="bold" fill="#222" stroke="#222" stroke-width="0.22" textLength="12.48" lengthAdjust="spacingAndGlyphs" >300</text>
<line x1="66.50" y1="564.70" x2="66.50" y2="567.30" stroke="#111" stroke-width="1.0" />
<line x1="51.70" y1="528.42" x2="51.70" y2="536.28" stroke="#333" stroke-width="1.0" />
<line x1="49.00" y1="528.42" x2="54.40" y2="528.42" stroke="#333" stroke-width="1.0" />
<rect x="46.40" y="536.28" width="10.60" height="28.42" fill="#9fcaf8" stroke="#222" stroke-width="0.9"/>
<rect x="46.40" y="536.28" width="10.60" height="28.42" fill="url(#pt1)" />
<line x1="66.40" y1="534.41" x2="66.40" y2="539.64" stroke="#333" stroke-width="1.0" />
<line x1="63.70" y1="534.41" x2="69.10" y2="534.41" stroke="#333" stroke-width="1.0" />
<rect x="61.10" y="539.64" width="10.60" height="25.06" fill="#4e5ce8" stroke="#222" stroke-width="0.9"/>
<rect x="61.10" y="539.64" width="10.60" height="25.06" fill="url(#pt2)" />
<line x1="81.10" y1="533.66" x2="81.10" y2="538.52" stroke="#333" stroke-width="1.0" />
<line x1="78.40" y1="533.66" x2="83.80" y2="533.66" stroke="#333" stroke-width="1.0" />
<rect x="75.80" y="538.52" width="10.60" height="26.18" fill="#0c0ca0" stroke="#222" stroke-width="0.9"/>
<rect x="75.80" y="538.52" width="10.60" height="26.18" fill="url(#pt3)" />
<line x1="116.10" y1="564.70" x2="116.10" y2="567.30" stroke="#111" stroke-width="1.0" />
<line x1="101.30" y1="498.13" x2="101.30" y2="513.46" stroke="#333" stroke-width="1.0" />
<line x1="98.60" y1="498.13" x2="104.00" y2="498.13" stroke="#333" stroke-width="1.0" />
<rect x="96.00" y="513.46" width="10.60" height="51.24" fill="#fbca92" stroke="#222" stroke-width="0.9"/>
<rect x="96.00" y="513.46" width="10.60" height="51.24" fill="url(#pt1)" />
<line x1="116.00" y1="463.72" x2="116.00" y2="496.63" stroke="#333" stroke-width="1.0" />
<line x1="113.30" y1="463.72" x2="118.70" y2="463.72" stroke="#333" stroke-width="1.0" />
<rect x="110.70" y="496.63" width="10.60" height="68.07" fill="#f8a03e" stroke="#222" stroke-width="0.9"/>
<rect x="110.70" y="496.63" width="10.60" height="68.07" fill="url(#pt2)" />
<line x1="130.70" y1="475.69" x2="130.70" y2="500.37" stroke="#333" stroke-width="1.0" />
<line x1="128.00" y1="475.69" x2="133.40" y2="475.69" stroke="#333" stroke-width="1.0" />
<rect x="125.40" y="500.37" width="10.60" height="64.33" fill="#e2600e" stroke="#222" stroke-width="0.9"/>
<rect x="125.40" y="500.37" width="10.60" height="64.33" fill="url(#pt3)" />
<line x1="166.10" y1="564.70" x2="166.10" y2="567.30" stroke="#111" stroke-width="1.0" />
<line x1="151.30" y1="515.33" x2="151.30" y2="525.43" stroke="#333" stroke-width="1.0" />
<line x1="148.60" y1="515.33" x2="154.00" y2="515.33" stroke="#333" stroke-width="1.0" />
<rect x="146.00" y="525.43" width="10.60" height="39.27" fill="#a4f2a0" stroke="#222" stroke-width="0.9"/>
<rect x="146.00" y="525.43" width="10.60" height="39.27" fill="url(#pt1)" />
<line x1="166.00" y1="521.69" x2="166.00" y2="529.17" stroke="#333" stroke-width="1.0" />
<line x1="163.30" y1="521.69" x2="168.70" y2="521.69" stroke="#333" stroke-width="1.0" />
<rect x="160.70" y="529.17" width="10.60" height="35.53" fill="#12c070" stroke="#222" stroke-width="0.9"/>
<rect x="160.70" y="529.17" width="10.60" height="35.53" fill="url(#pt2)" />
<line x1="180.70" y1="518.32" x2="180.70" y2="524.68" stroke="#333" stroke-width="1.0" />
<line x1="178.00" y1="518.32" x2="183.40" y2="518.32" stroke="#333" stroke-width="1.0" />
<rect x="175.40" y="524.68" width="10.60" height="40.02" fill="#0c5a32" stroke="#222" stroke-width="0.9"/>
<rect x="175.40" y="524.68" width="10.60" height="40.02" fill="url(#pt3)" />
<line x1="215.60" y1="564.70" x2="215.60" y2="567.30" stroke="#111" stroke-width="1.0" />
<rect x="195.50" y="527.30" width="10.60" height="37.40" fill="#a2a2a2" stroke="#222" stroke-width="0.9"/>
<rect x="195.50" y="527.30" width="10.60" height="37.40" fill="url(#pt1)" />
<line x1="215.50" y1="489.90" x2="215.50" y2="519.07" stroke="#333" stroke-width="1.0" />
<line x1="212.80" y1="489.90" x2="218.20" y2="489.90" stroke="#333" stroke-width="1.0" />
<rect x="210.20" y="519.07" width="10.60" height="45.63" fill="#a6a6a6" stroke="#222" stroke-width="0.9"/>
<rect x="210.20" y="519.07" width="10.60" height="45.63" fill="url(#pt2)" />
<line x1="230.20" y1="507.48" x2="230.20" y2="520.19" stroke="#333" stroke-width="1.0" />
<line x1="227.50" y1="507.48" x2="232.90" y2="507.48" stroke="#333" stroke-width="1.0" />
<rect x="224.90" y="520.19" width="10.60" height="44.51" fill="#8c8c8c" stroke="#222" stroke-width="0.9"/>
<rect x="224.90" y="520.19" width="10.60" height="44.51" fill="url(#pt3g)" />
<text x="46.17" y="577.30" font-size="9.45" font-weight="bold" fill="#1a1a1a" stroke="#1a1a1a" stroke-width="0.22" textLength="40.69" lengthAdjust="spacingAndGlyphs" >RPMI ctrl</text>
<text x="93.83" y="577.30" font-size="9.45" font-weight="bold" fill="#1a1a1a" stroke="#1a1a1a" stroke-width="0.22" textLength="44.43" lengthAdjust="spacingAndGlyphs" >Skin diff.1</text>
<text x="143.63" y="577.30" font-size="9.45" font-weight="bold" fill="#1a1a1a" stroke="#1a1a1a" stroke-width="0.22" textLength="44.54" lengthAdjust="spacingAndGlyphs" >Skin diff.2</text>
<text x="195.19" y="577.30" font-size="9.45" font-weight="bold" fill="#1a1a1a" stroke="#1a1a1a" stroke-width="0.22" textLength="40.72" lengthAdjust="spacingAndGlyphs" >HEK med</text>
<text transform="translate(23.00,539.11) rotate(-90)" x="0" y="0" font-size="10.17" font-weight="bold" fill="#1a1a1a" stroke="#1a1a1a" stroke-width="0.22" textLength="64.86" lengthAdjust="spacingAndGlyphs">Proliferation %</text>
<path d="M80.8,462.7 L80.8,458.7 L130.6,458.7 L130.6,462.7" fill="none" stroke="#333" stroke-width="0.9" />
<path d="M105.50,453.50 L105.50,456.50 M106.80,454.25 L104.20,455.75 M106.80,455.75 L104.20,454.25 " fill="none" stroke="#1a1a1a" stroke-width="0.85" />
<circle cx="105.50" cy="455.00" r="0.75" fill="#1a1a1a" />
<text x="248.69" y="17.90" font-size="22.38" font-weight="bold" fill="#000" stroke="#000" stroke-width="0.13" textLength="14.25" lengthAdjust="spacingAndGlyphs" >C</text>
<text x="335.47" y="16.10" font-size="18.90" font-weight="bold" fill="#000" stroke="#000" stroke-width="0.13" textLength="74.64" lengthAdjust="spacingAndGlyphs" >Viability</text>
<text x="326.81" y="49.20" font-size="14.53" font-weight="bold" fill="#000" stroke="#000" stroke-width="0.13" textLength="95.09" lengthAdjust="spacingAndGlyphs" >Macrophages</text>
<line x1="292.80" y1="62.70" x2="302.10" y2="62.70" stroke="#1010c4" stroke-width="2.0" />
<circle cx="297.45" cy="62.70" r="3.15" fill="#1010c4" />
<text x="307.05" y="64.80" font-size="6.69" font-weight="bold" fill="#222" stroke="#222" stroke-width="0.22" textLength="28.92" lengthAdjust="spacingAndGlyphs" >RPMI ctrl</text>
<line x1="344.20" y1="62.70" x2="353.50" y2="62.70" stroke="#f86a10" stroke-width="2.0" />
<rect x="345.70" y="59.55" width="6.30" height="6.30" fill="#f86a10" />
<text x="358.72" y="64.80" font-size="6.69" font-weight="bold" fill="#222" stroke="#222" stroke-width="0.22" textLength="29.55" lengthAdjust="spacingAndGlyphs" >Skin diff.1</text>
<line x1="397.90" y1="62.70" x2="407.30" y2="62.70" stroke="#1a9a6a" stroke-width="2.0" />
<path d="M402.60,59.34 L406.06,65.22 L399.14,65.22 Z" fill="#1a9a6a" stroke="none" stroke-width="1" />
<text x="412.42" y="64.80" font-size="6.69" font-weight="bold" fill="#222" stroke="#222" stroke-width="0.22" textLength="32.04" lengthAdjust="spacingAndGlyphs" >Skin diff. 2</text>
<line x1="288.70" y1="73.80" x2="288.70" y2="188.50" stroke="#333" stroke-width="1.1" />
<line x1="288.70" y1="188.00" x2="461.00" y2="188.00" stroke="#333" stroke-width="1.15" />
<line x1="285.90" y1="188.00" x2="288.70" y2="188.00" stroke="#222" stroke-width="1.0" />
<text x="276.94" y="190.50" font-size="7.27" font-weight="bold" fill="#222" stroke="#222" stroke-width="0.22" textLength="8.48" lengthAdjust="spacingAndGlyphs" >20</text>
<line x1="285.90" y1="165.16" x2="288.70" y2="165.16" stroke="#222" stroke-width="1.0" />
<text x="277.09" y="167.66" font-size="7.27" font-weight="bold" fill="#222" stroke="#222" stroke-width="0.22" textLength="8.32" lengthAdjust="spacingAndGlyphs" >40</text>
<line x1="285.90" y1="142.32" x2="288.70" y2="142.32" stroke="#222" stroke-width="1.0" />
<text x="276.92" y="144.82" font-size="7.27" font-weight="bold" fill="#222" stroke="#222" stroke-width="0.22" textLength="8.49" lengthAdjust="spacingAndGlyphs" >60</text>
<line x1="285.90" y1="119.48" x2="288.70" y2="119.48" stroke="#222" stroke-width="1.0" />
<text x="276.96" y="121.98" font-size="7.27" font-weight="bold" fill="#222" stroke="#222" stroke-width="0.22" textLength="8.45" lengthAdjust="spacingAndGlyphs" >80</text>
<line x1="285.90" y1="96.64" x2="288.70" y2="96.64" stroke="#222" stroke-width="1.0" />
<text x="272.62" y="99.14" font-size="7.27" font-weight="bold" fill="#222" stroke="#222" stroke-width="0.22" textLength="12.80" lengthAdjust="spacingAndGlyphs" >100</text>
<line x1="285.90" y1="73.80" x2="288.70" y2="73.80" stroke="#222" stroke-width="1.0" />
<text x="272.62" y="76.30" font-size="7.27" font-weight="bold" fill="#222" stroke="#222" stroke-width="0.22" textLength="12.80" lengthAdjust="spacingAndGlyphs" >120</text>
<line x1="316.50" y1="188.00" x2="316.50" y2="190.60" stroke="#222" stroke-width="1.0" />
<line x1="374.30" y1="188.00" x2="374.30" y2="190.60" stroke="#222" stroke-width="1.0" />
<line x1="431.90" y1="188.00" x2="431.90" y2="190.60" stroke="#222" stroke-width="1.0" />
<text x="302.82" y="202.00" font-size="9.88" font-weight="bold" fill="#1a1a1a" stroke="#1a1a1a" stroke-width="0.22" textLength="26.96" lengthAdjust="spacingAndGlyphs" >Day 1</text>
<text x="361.24" y="202.00" font-size="9.88" font-weight="bold" fill="#1a1a1a" stroke="#1a1a1a" stroke-width="0.22" textLength="26.21" lengthAdjust="spacingAndGlyphs" >Day 3</text>
<text x="419.16" y="202.00" font-size="9.88" font-weight="bold" fill="#1a1a1a" stroke="#1a1a1a" stroke-width="0.22" textLength="25.56" lengthAdjust="spacingAndGlyphs" >Day 7</text>
<line x1="374.30" y1="73.80" x2="374.30" y2="95.73" stroke="#1010c4" stroke-width="1.0" />
<line x1="371.50" y1="73.80" x2="377.10" y2="73.80" stroke="#1010c4" stroke-width="1.0" />
<line x1="431.90" y1="92.07" x2="431.90" y2="124.05" stroke="#1010c4" stroke-width="1.0" />
<line x1="429.10" y1="92.07" x2="434.70" y2="92.07" stroke="#1010c4" stroke-width="1.0" />
<line x1="316.50" y1="114.34" x2="316.50" y2="122.91" stroke="#1a9a6a" stroke-width="1.0" />
<line x1="313.70" y1="114.34" x2="319.30" y2="114.34" stroke="#1a9a6a" stroke-width="1.0" />
<line x1="374.30" y1="126.33" x2="374.30" y2="141.75" stroke="#1a9a6a" stroke-width="1.0" />
<line x1="371.50" y1="126.33" x2="377.10" y2="126.33" stroke="#1a9a6a" stroke-width="1.0" />
<line x1="431.90" y1="159.45" x2="431.90" y2="169.16" stroke="#1a9a6a" stroke-width="1.0" />
<line x1="429.10" y1="159.45" x2="434.70" y2="159.45" stroke="#1a9a6a" stroke-width="1.0" />
<line x1="316.50" y1="120.05" x2="316.50" y2="124.50" stroke="#f86a10" stroke-width="1.0" />
<line x1="313.70" y1="120.05" x2="319.30" y2="120.05" stroke="#f86a10" stroke-width="1.0" />
<line x1="374.30" y1="137.75" x2="374.30" y2="147.46" stroke="#f86a10" stroke-width="1.0" />
<line x1="371.50" y1="137.75" x2="377.10" y2="137.75" stroke="#f86a10" stroke-width="1.0" />
<line x1="431.90" y1="150.88" x2="431.90" y2="170.87" stroke="#f86a10" stroke-width="1.0" />
<line x1="429.10" y1="150.88" x2="434.70" y2="150.88" stroke="#f86a10" stroke-width="1.0" />
<polyline points="316.50,96.64 374.30,95.73 431.90,124.05" fill="none" stroke="#1010c4" stroke-width="1.7" stroke-linejoin="round"/>
<circle cx="316.50" cy="96.64" r="3.00" fill="#1010c4" />
<circle cx="374.30" cy="95.73" r="3.00" fill="#1010c4" />
<circle cx="431.90" cy="124.05" r="3.00" fill="#1010c4" />
<polyline points="316.50,122.91 374.30,141.75 431.90,169.16" fill="none" stroke="#1a9a6a" stroke-width="1.7" stroke-linejoin="round"/>
<path d="M316.50,119.71 L319.80,125.31 L313.20,125.31 Z" fill="#1a9a6a" stroke="none" stroke-width="1" />
<path d="M374.30,138.55 L377.60,144.15 L371.00,144.15 Z" fill="#1a9a6a" stroke="none" stroke-width="1" />
<path d="M431.90,165.96 L435.20,171.56 L428.60,171.56 Z" fill="#1a9a6a" stroke="none" stroke-width="1" />
<polyline points="316.50,124.50 374.30,147.46 431.90,170.87" fill="none" stroke="#f86a10" stroke-width="1.7" stroke-linejoin="round"/>
<rect x="313.50" y="121.50" width="6.00" height="6.00" fill="#f86a10" />
<rect x="371.30" y="144.46" width="6.00" height="6.00" fill="#f86a10" />
<rect x="428.90" y="167.87" width="6.00" height="6.00" fill="#f86a10" />
<text transform="translate(266.10,174.74) rotate(-90)" x="0" y="0" font-size="10.47" font-weight="bold" fill="#1a1a1a" stroke="#1a1a1a" stroke-width="0.22" textLength="90.29" lengthAdjust="spacingAndGlyphs">Metabolic activity %</text>
<path d="M317.00,109.40 L317.00,112.20 M318.21,110.10 L315.79,111.50 M318.21,111.50 L315.79,110.10 " fill="none" stroke="#1a1a1a" stroke-width="0.85" />
<circle cx="317.00" cy="110.80" r="0.75" fill="#1a1a1a" />
<path d="M370.50,120.20 L370.50,123.00 M371.71,120.90 L369.29,122.30 M371.71,122.30 L369.29,120.90 " fill="none" stroke="#1a1a1a" stroke-width="0.85" />
<circle cx="370.50" cy="121.60" r="0.75" fill="#1a1a1a" />
<path d="M374.40,120.20 L374.40,123.00 M375.61,120.90 L373.19,122.30 M375.61,122.30 L373.19,120.90 " fill="none" stroke="#1a1a1a" stroke-width="0.85" />
<circle cx="374.40" cy="121.60" r="0.75" fill="#1a1a1a" />
<path d="M378.30,120.20 L378.30,123.00 M379.51,120.90 L377.09,122.30 M379.51,122.30 L377.09,120.90 " fill="none" stroke="#1a1a1a" stroke-width="0.85" />
<circle cx="378.30" cy="121.60" r="0.75" fill="#1a1a1a" />
<path d="M428.00,146.00 L428.00,148.80 M429.21,146.70 L426.79,148.10 M429.21,148.10 L426.79,146.70 " fill="none" stroke="#1a1a1a" stroke-width="0.85" />
<circle cx="428.00" cy="147.40" r="0.75" fill="#1a1a1a" />
<path d="M431.90,146.00 L431.90,148.80 M433.11,146.70 L430.69,148.10 M433.11,148.10 L430.69,146.70 " fill="none" stroke="#1a1a1a" stroke-width="0.85" />
<circle cx="431.90" cy="147.40" r="0.75" fill="#1a1a1a" />
<path d="M435.80,146.00 L435.80,148.80 M437.01,146.70 L434.59,148.10 M437.01,148.10 L434.59,146.70 " fill="none" stroke="#1a1a1a" stroke-width="0.85" />
<circle cx="435.80" cy="147.40" r="0.75" fill="#1a1a1a" />
<text x="334.72" y="237.20" font-size="14.53" font-weight="bold" fill="#000" stroke="#000" stroke-width="0.13" textLength="78.78" lengthAdjust="spacingAndGlyphs" >Fibroblasts</text>
<line x1="275.00" y1="250.00" x2="283.90" y2="250.00" stroke="#1010c4" stroke-width="2.0" />
<circle cx="279.45" cy="250.00" r="3.15" fill="#1010c4" />
<text x="288.95" y="252.10" font-size="6.40" font-weight="bold" fill="#222" stroke="#222" stroke-width="0.22" textLength="29.23" lengthAdjust="spacingAndGlyphs" >RPMI ctrl</text>
<line x1="323.30" y1="250.00" x2="333.20" y2="250.00" stroke="#f86a10" stroke-width="2.0" />
<rect x="325.10" y="246.85" width="6.30" height="6.30" fill="#f86a10" />
<text x="337.82" y="252.10" font-size="6.40" font-weight="bold" fill="#222" stroke="#222" stroke-width="0.22" textLength="29.96" lengthAdjust="spacingAndGlyphs" >Skin diff.1</text>
<line x1="372.60" y1="250.00" x2="382.30" y2="250.00" stroke="#1a9a6a" stroke-width="2.0" />
<path d="M377.45,246.64 L380.92,252.52 L373.99,252.52 Z" fill="#1a9a6a" stroke="none" stroke-width="1" />
<text x="386.82" y="252.10" font-size="6.40" font-weight="bold" fill="#222" stroke="#222" stroke-width="0.22" textLength="30.44" lengthAdjust="spacingAndGlyphs" >Skin diff.2</text>
<line x1="422.00" y1="250.00" x2="432.30" y2="250.00" stroke="#a8a8a8" stroke-width="2.0" />
<path d="M427.15,246.64 L430.51,250.00 L427.15,253.36 L423.79,250.00 Z" fill="#a8a8a8" stroke="none" stroke-width="1" />
<text x="435.93" y="252.10" font-size="6.40" font-weight="bold" fill="#222" stroke="#222" stroke-width="0.22" textLength="30.52" lengthAdjust="spacingAndGlyphs" >HDF med</text>
<line x1="287.50" y1="261.50" x2="287.50" y2="376.80" stroke="#333" stroke-width="1.1" />
<line x1="287.50" y1="376.30" x2="460.20" y2="376.30" stroke="#333" stroke-width="1.15" />
<line x1="284.70" y1="357.20" x2="287.50" y2="357.20" stroke="#222" stroke-width="1.0" />
<text x="271.42" y="359.70" font-size="7.27" font-weight="bold" fill="#222" stroke="#222" stroke-width="0.22" textLength="12.80" lengthAdjust="spacingAndGlyphs" >100</text>
<line x1="284.70" y1="309.35" x2="287.50" y2="309.35" stroke="#222" stroke-width="1.0" />
<text x="271.42" y="311.85" font-size="7.27" font-weight="bold" fill="#222" stroke="#222" stroke-width="0.22" textLength="12.80" lengthAdjust="spacingAndGlyphs" >150</text>
<line x1="284.70" y1="261.50" x2="287.50" y2="261.50" stroke="#222" stroke-width="1.0" />
<text x="271.64" y="264.00" font-size="7.27" font-weight="bold" fill="#222" stroke="#222" stroke-width="0.22" textLength="12.57" lengthAdjust="spacingAndGlyphs" >200</text>
<line x1="316.60" y1="376.30" x2="316.60" y2="378.90" stroke="#222" stroke-width="1.0" />
<line x1="374.40" y1="376.30" x2="374.40" y2="378.90" stroke="#222" stroke-width="1.0" />
<line x1="432.10" y1="376.30" x2="432.10" y2="378.90" stroke="#222" stroke-width="1.0" />
<text x="303.66" y="390.80" font-size="9.88" font-weight="bold" fill="#1a1a1a" stroke="#1a1a1a" stroke-width="0.22" textLength="25.71" lengthAdjust="spacingAndGlyphs" >Day 1</text>
<text x="361.45" y="390.80" font-size="9.88" font-weight="bold" fill="#1a1a1a" stroke="#1a1a1a" stroke-width="0.22" textLength="25.80" lengthAdjust="spacingAndGlyphs" >Day 3</text>
<text x="418.65" y="390.80" font-size="9.88" font-weight="bold" fill="#1a1a1a" stroke="#1a1a1a" stroke-width="0.22" textLength="25.87" lengthAdjust="spacingAndGlyphs" >Day 7</text>
<line x1="374.40" y1="279.68" x2="374.40" y2="308.39" stroke="#a8a8a8" stroke-width="1.0" />
<line x1="371.60" y1="279.68" x2="377.20" y2="279.68" stroke="#a8a8a8" stroke-width="1.0" />
<line x1="432.10" y1="262.46" x2="432.10" y2="283.13" stroke="#a8a8a8" stroke-width="1.0" />
<line x1="429.30" y1="262.46" x2="434.90" y2="262.46" stroke="#a8a8a8" stroke-width="1.0" />
<line x1="374.40" y1="293.56" x2="374.40" y2="324.09" stroke="#1010c4" stroke-width="1.0" />
<line x1="371.60" y1="293.56" x2="377.20" y2="293.56" stroke="#1010c4" stroke-width="1.0" />
<line x1="432.10" y1="277.77" x2="432.10" y2="302.65" stroke="#1010c4" stroke-width="1.0" />
<line x1="429.30" y1="277.77" x2="434.90" y2="277.77" stroke="#1010c4" stroke-width="1.0" />
<line x1="374.40" y1="314.13" x2="374.40" y2="345.05" stroke="#1a9a6a" stroke-width="1.0" />
<line x1="371.60" y1="314.13" x2="377.20" y2="314.13" stroke="#1a9a6a" stroke-width="1.0" />
<line x1="432.10" y1="307.44" x2="432.10" y2="329.45" stroke="#1a9a6a" stroke-width="1.0" />
<line x1="429.30" y1="307.44" x2="434.90" y2="307.44" stroke="#1a9a6a" stroke-width="1.0" />
<line x1="316.60" y1="353.37" x2="316.60" y2="360.36" stroke="#f86a10" stroke-width="1.0" />
<line x1="313.80" y1="353.37" x2="319.40" y2="353.37" stroke="#f86a10" stroke-width="1.0" />
<line x1="432.10" y1="289.25" x2="432.10" y2="333.27" stroke="#f86a10" stroke-width="1.0" />
<line x1="429.30" y1="289.25" x2="434.90" y2="289.25" stroke="#f86a10" stroke-width="1.0" />
<polyline points="316.60,357.87 374.40,308.39 432.10,283.13" fill="none" stroke="#a8a8a8" stroke-width="1.7" stroke-linejoin="round"/>
<path d="M316.60,354.67 L319.80,357.87 L316.60,361.07 L313.40,357.87 Z" fill="#a8a8a8" stroke="none" stroke-width="1" />
<path d="M374.40,305.19 L377.60,308.39 L374.40,311.59 L371.20,308.39 Z" fill="#a8a8a8" stroke="none" stroke-width="1" />
<path d="M432.10,279.93 L435.30,283.13 L432.10,286.33 L428.90,283.13 Z" fill="#a8a8a8" stroke="none" stroke-width="1" />
<polyline points="316.60,366.10 374.40,324.09 432.10,302.65" fill="none" stroke="#1010c4" stroke-width="1.7" stroke-linejoin="round"/>
<circle cx="316.60" cy="366.10" r="3.00" fill="#1010c4" />
<circle cx="374.40" cy="324.09" r="3.00" fill="#1010c4" />
<circle cx="432.10" cy="302.65" r="3.00" fill="#1010c4" />
<polyline points="316.60,364.38 374.40,345.05 432.10,329.45" fill="none" stroke="#1a9a6a" stroke-width="1.7" stroke-linejoin="round"/>
<path d="M316.60,361.18 L319.90,366.78 L313.30,366.78 Z" fill="#1a9a6a" stroke="none" stroke-width="1" />
<path d="M374.40,341.85 L377.70,347.45 L371.10,347.45 Z" fill="#1a9a6a" stroke="none" stroke-width="1" />
<path d="M432.10,326.25 L435.40,331.85 L428.80,331.85 Z" fill="#1a9a6a" stroke="none" stroke-width="1" />
<polyline points="316.60,360.36 374.40,354.33 432.10,333.27" fill="none" stroke="#f86a10" stroke-width="1.7" stroke-linejoin="round"/>
<rect x="313.60" y="357.36" width="6.00" height="6.00" fill="#f86a10" />
<rect x="371.40" y="351.33" width="6.00" height="6.00" fill="#f86a10" />
<rect x="429.10" y="330.27" width="6.00" height="6.00" fill="#f86a10" />
<text transform="translate(266.70,365.05) rotate(-90)" x="0" y="0" font-size="10.47" font-weight="bold" fill="#1a1a1a" stroke="#1a1a1a" stroke-width="0.22" textLength="92.31" lengthAdjust="spacingAndGlyphs">Metabolic activity %</text>
<path d="M437.4,283.4 L443.4,283.4 L443.4,333.1 L437.4,333.1" fill="none" stroke="#333" stroke-width="0.9" />
<path d="M447.00,305.30 L447.00,308.10 M448.21,306.00 L445.79,307.40 M448.21,307.40 L445.79,306.00 " fill="none" stroke="#1a1a1a" stroke-width="0.85" />
<circle cx="447.00" cy="306.70" r="0.75" fill="#1a1a1a" />
<text x="327.43" y="427.20" font-size="14.53" font-weight="bold" fill="#000" stroke="#000" stroke-width="0.13" textLength="95.46" lengthAdjust="spacingAndGlyphs" >Keratinocytes</text>
<line x1="271.40" y1="439.70" x2="280.80" y2="439.70" stroke="#1010c4" stroke-width="2.0" />
<circle cx="276.10" cy="439.70" r="3.15" fill="#1010c4" />
<text x="285.25" y="441.80" font-size="6.69" font-weight="bold" fill="#222" stroke="#222" stroke-width="0.22" textLength="29.33" lengthAdjust="spacingAndGlyphs" >RPMI ctrl</text>
<line x1="319.80" y1="439.70" x2="329.20" y2="439.70" stroke="#f86a10" stroke-width="2.0" />
<rect x="321.35" y="436.55" width="6.30" height="6.30" fill="#f86a10" />
<text x="333.82" y="441.80" font-size="6.69" font-weight="bold" fill="#222" stroke="#222" stroke-width="0.22" textLength="30.26" lengthAdjust="spacingAndGlyphs" >Skin diff.1</text>
<line x1="369.10" y1="439.70" x2="378.70" y2="439.70" stroke="#1a9a6a" stroke-width="2.0" />
<path d="M373.90,436.34 L377.36,442.22 L370.44,442.22 Z" fill="#1a9a6a" stroke="none" stroke-width="1" />
<text x="383.12" y="441.80" font-size="6.69" font-weight="bold" fill="#222" stroke="#222" stroke-width="0.22" textLength="30.03" lengthAdjust="spacingAndGlyphs" >Skin diff.2</text>
<line x1="418.00" y1="439.70" x2="428.00" y2="439.70" stroke="#a8a8a8" stroke-width="2.0" />
<path d="M423.00,436.34 L426.36,439.70 L423.00,443.06 L419.64,439.70 Z" fill="#a8a8a8" stroke="none" stroke-width="1" />
<text x="432.39" y="441.80" font-size="6.69" font-weight="bold" fill="#222" stroke="#222" stroke-width="0.22" textLength="27.32" lengthAdjust="spacingAndGlyphs" >HEK med</text>
<line x1="289.10" y1="451.00" x2="289.10" y2="566.10" stroke="#333" stroke-width="1.1" />
<line x1="289.10" y1="565.60" x2="460.70" y2="565.60" stroke="#333" stroke-width="1.15" />
<line x1="286.30" y1="565.60" x2="289.10" y2="565.60" stroke="#222" stroke-width="1.0" />
<text x="281.38" y="568.10" font-size="7.27" font-weight="bold" fill="#222" stroke="#222" stroke-width="0.22" textLength="4.44" lengthAdjust="spacingAndGlyphs" >0</text>
<line x1="286.30" y1="517.60" x2="289.10" y2="517.60" stroke="#222" stroke-width="1.0" />
<text x="273.27" y="520.10" font-size="7.27" font-weight="bold" fill="#222" stroke="#222" stroke-width="0.22" textLength="12.54" lengthAdjust="spacingAndGlyphs" >500</text>
<line x1="286.30" y1="469.60" x2="289.10" y2="469.60" stroke="#222" stroke-width="1.0" />
<text x="268.92" y="472.10" font-size="7.27" font-weight="bold" fill="#222" stroke="#222" stroke-width="0.22" textLength="16.89" lengthAdjust="spacingAndGlyphs" >1000</text>
<line x1="317.90" y1="565.60" x2="317.90" y2="568.20" stroke="#222" stroke-width="1.0" />
<line x1="375.40" y1="565.60" x2="375.40" y2="568.20" stroke="#222" stroke-width="1.0" />
<line x1="432.20" y1="565.60" x2="432.20" y2="568.20" stroke="#222" stroke-width="1.0" />
<text x="305.08" y="578.50" font-size="9.88" font-weight="bold" fill="#1a1a1a" stroke="#1a1a1a" stroke-width="0.22" textLength="24.57" lengthAdjust="spacingAndGlyphs" >Day 1</text>
<text x="361.74" y="578.50" font-size="9.88" font-weight="bold" fill="#1a1a1a" stroke="#1a1a1a" stroke-width="0.22" textLength="26.21" lengthAdjust="spacingAndGlyphs" >Day 3</text>
<text x="419.86" y="578.50" font-size="9.88" font-weight="bold" fill="#1a1a1a" stroke="#1a1a1a" stroke-width="0.22" textLength="25.46" lengthAdjust="spacingAndGlyphs" >Day 7</text>
<line x1="375.40" y1="540.16" x2="375.40" y2="547.36" stroke="#1a9a6a" stroke-width="1.0" />
<line x1="372.60" y1="540.16" x2="378.20" y2="540.16" stroke="#1a9a6a" stroke-width="1.0" />
<line x1="432.20" y1="506.08" x2="432.20" y2="536.80" stroke="#1a9a6a" stroke-width="1.0" />
<line x1="429.40" y1="506.08" x2="435.00" y2="506.08" stroke="#1a9a6a" stroke-width="1.0" />
<line x1="317.90" y1="545.92" x2="317.90" y2="550.91" stroke="#f86a10" stroke-width="1.0" />
<line x1="315.10" y1="545.92" x2="320.70" y2="545.92" stroke="#f86a10" stroke-width="1.0" />
<line x1="375.40" y1="514.24" x2="375.40" y2="533.92" stroke="#f86a10" stroke-width="1.0" />
<line x1="372.60" y1="514.24" x2="378.20" y2="514.24" stroke="#f86a10" stroke-width="1.0" />
<line x1="432.20" y1="460.96" x2="432.20" y2="506.08" stroke="#f86a10" stroke-width="1.0" />
<line x1="429.40" y1="460.96" x2="435.00" y2="460.96" stroke="#f86a10" stroke-width="1.0" />
<polyline points="317.90,554.08 375.40,550.24 432.20,530.56" fill="none" stroke="#a8a8a8" stroke-width="1.7" stroke-linejoin="round"/>
<path d="M317.90,550.88 L321.10,554.08 L317.90,557.28 L314.70,554.08 Z" fill="#a8a8a8" stroke="none" stroke-width="1" />
<path d="M375.40,547.04 L378.60,550.24 L375.40,553.44 L372.20,550.24 Z" fill="#a8a8a8" stroke="none" stroke-width="1" />
<path d="M432.20,527.36 L435.40,530.56 L432.20,533.76 L429.00,530.56 Z" fill="#a8a8a8" stroke="none" stroke-width="1" />
<polyline points="317.90,553.31 375.40,547.36 432.20,536.80" fill="none" stroke="#1a9a6a" stroke-width="1.7" stroke-linejoin="round"/>
<path d="M317.90,550.11 L321.20,555.71 L314.60,555.71 Z" fill="#1a9a6a" stroke="none" stroke-width="1" />
<path d="M375.40,544.16 L378.70,549.76 L372.10,549.76 Z" fill="#1a9a6a" stroke="none" stroke-width="1" />
<path d="M432.20,533.60 L435.50,539.20 L428.90,539.20 Z" fill="#1a9a6a" stroke="none" stroke-width="1" />
<polyline points="317.90,550.91 375.40,533.92 432.20,506.08" fill="none" stroke="#f86a10" stroke-width="1.7" stroke-linejoin="round"/>
<rect x="314.90" y="547.91" width="6.00" height="6.00" fill="#f86a10" />
<rect x="372.40" y="530.92" width="6.00" height="6.00" fill="#f86a10" />
<rect x="429.20" y="503.08" width="6.00" height="6.00" fill="#f86a10" />
<polyline points="317.90,556.00 375.40,556.29 432.20,560.03" fill="none" stroke="#1010c4" stroke-width="1.7" stroke-linejoin="round"/>
<circle cx="317.90" cy="556.00" r="3.00" fill="#1010c4" />
<circle cx="375.40" cy="556.29" r="3.00" fill="#1010c4" />
<circle cx="432.20" cy="560.03" r="3.00" fill="#1010c4" />
<text transform="translate(266.30,550.44) rotate(-90)" x="0" y="0" font-size="10.47" font-weight="bold" fill="#1a1a1a" stroke="#1a1a1a" stroke-width="0.22" textLength="91.19" lengthAdjust="spacingAndGlyphs">Metabolic activity %</text>
<path d="M381.5,531.5 L383.9,531.5 L383.9,555.9 L381.5,555.9" fill="none" stroke="#333" stroke-width="0.9" />
<path d="M387.60,541.20 L387.60,543.60 M388.64,541.80 L386.56,543.00 M388.64,543.00 L386.56,541.80 " fill="none" stroke="#1a1a1a" stroke-width="0.85" />
<circle cx="387.60" cy="542.40" r="0.75" fill="#1a1a1a" />
<text x="465.47" y="17.20" font-size="20.35" font-weight="bold" fill="#000" stroke="#000" stroke-width="0.13" textLength="16.49" lengthAdjust="spacingAndGlyphs" >D</text>
<text x="511.49" y="15.30" font-size="18.17" font-weight="bold" fill="#000" stroke="#000" stroke-width="0.13" textLength="134.11" lengthAdjust="spacingAndGlyphs" >Skin maturation</text>
<text x="543.38" y="45.20" font-size="14.10" font-weight="normal" fill="#111" stroke="#111" stroke-width="0.12" textLength="61.32" lengthAdjust="spacingAndGlyphs" >RPMI ctrl</text>
<text x="542.14" y="223.10" font-size="14.53" font-weight="normal" fill="#111" stroke="#111" stroke-width="0.12" textLength="67.36" lengthAdjust="spacingAndGlyphs" >Skin diff. 1</text>
<text x="542.14" y="401.10" font-size="14.53" font-weight="normal" fill="#111" stroke="#111" stroke-width="0.12" textLength="67.38" lengthAdjust="spacingAndGlyphs" >Skin diff. 2</text>
<g clip-path="url(#cl1)">
<rect x="469.00" y="51.00" width="215.00" height="120.00" fill="#cacee2" />
<path d="M469,90.5 L500,90 L529,89.5 L560,90 L600,91 L646,92.5 L651,88.5 L656,84 L664,79 L672,75 L684,70 L684,171 L469,171 Z" fill="#d1cde7" stroke="none" stroke-width="1" />
<path d="M469,90.5 L500,90 L529,89.5 L560,90 L600,91 L646,92.5 L651,88.5 L656,84 L664,79 L672,75 L684,70 L684,77 L672,82 L660,89 L648,98 L600,97 L560,96 L529,95.5 L500,96 L469,96.5 Z" fill="#d4c8e4" stroke="none" stroke-width="1" opacity="0.6"/>
<rect x="469.00" y="90.00" width="215.00" height="81.00" fill="url(#streak)" />
<rect x="469.00" y="160.00" width="215.00" height="11.00" fill="url(#gfade1)" />
</g>
<path d="M529,91 L540,88 L552,82 L563,72 L572,64 L579,60.5 L586,63 L594,69 L604,75 L618,79 L632,80 L642,82 L650,89 L650,93 L529,93 Z" fill="#8456b8" stroke="none" stroke-width="1" filter="url(#blotch)" opacity="0.85"/>
<path d="M600,92 L604,84 L615,80 L630,79 L640,80 L646,83 L650,90 L650,93 Z" fill="#8052b4" stroke="none" stroke-width="1" filter="url(#blotchd)" opacity="0.8"/>
<path d="M556,92 L560,84 L570,78 L585,76 L595,80 L600,92 Z" fill="#8254b6" stroke="none" stroke-width="1" filter="url(#blotchd)" opacity="0.75"/>
<path d="M649,89 L654,82 L661,75 L668,71 L673,73 L666,79 L657,86 L652,91 Z" fill="#7a4cae" stroke="none" stroke-width="1" filter="url(#blotch2)" opacity="0.9"/>
<g><ellipse cx="505.1" cy="143.6" rx="1.27" ry="0.52" fill="#6258c0" opacity="0.65" transform="rotate(-11 505.1 143.6)"/><ellipse cx="638.8" cy="151.7" rx="1.16" ry="0.53" fill="#6258c0" opacity="0.65" transform="rotate(-11 638.8 151.7)"/><ellipse cx="470.7" cy="121.6" rx="1.23" ry="0.42" fill="#6258c0" opacity="0.65" transform="rotate(12 470.7 121.6)"/><ellipse cx="519.5" cy="112.1" rx="0.74" ry="0.65" fill="#6258c0" opacity="0.65" transform="rotate(10 519.5 112.1)"/><ellipse cx="656.4" cy="138.5" rx="0.73" ry="0.48" fill="#6258c0" opacity="0.65" transform="rotate(-0 656.4 138.5)"/><ellipse cx="494.7" cy="161.7" rx="1.03" ry="0.44" fill="#6258c0" opacity="0.65" transform="rotate(13 494.7 161.7)"/><ellipse cx="496.6" cy="160.0" rx="1.11" ry="0.54" fill="#6258c0" opacity="0.65" transform="rotate(-6 496.6 160.0)"/><ellipse cx="573.2" cy="108.9" rx="0.73" ry="0.62" fill="#6258c0" opacity="0.65" transform="rotate(-11 573.2 108.9)"/><ellipse cx="636.2" cy="110.4" rx="1.57" ry="0.62" fill="#6258c0" opacity="0.65" transform="rotate(10 636.2 110.4)"/><ellipse cx="632.5" cy="136.1" rx="1.36" ry="0.43" fill="#6258c0" opacity="0.65" transform="rotate(-1 632.5 136.1)"/><ellipse cx="646.2" cy="109.9" rx="1.53" ry="0.62" fill="#6258c0" opacity="0.65" transform="rotate(-4 646.2 109.9)"/><ellipse cx="547.8" cy="127.1" rx="1.05" ry="0.65" fill="#6258c0" opacity="0.65" transform="rotate(-5 547.8 127.1)"/><ellipse cx="475.7" cy="102.4" rx="1.35" ry="0.65" fill="#6258c0" opacity="0.65" transform="rotate(-0 475.7 102.4)"/><ellipse cx="574.7" cy="134.0" rx="1.37" ry="0.46" fill="#6258c0" opacity="0.65" transform="rotate(4 574.7 134.0)"/><ellipse cx="588.5" cy="139.0" rx="0.86" ry="0.44" fill="#6258c0" opacity="0.65" transform="rotate(-6 588.5 139.0)"/><ellipse cx="667.5" cy="119.9" rx="1.24" ry="0.48" fill="#6258c0" opacity="0.65" transform="rotate(-16 667.5 119.9)"/><ellipse cx="484.0" cy="152.1" rx="1.40" ry="0.49" fill="#6258c0" opacity="0.65" transform="rotate(7 484.0 152.1)"/><ellipse cx="614.0" cy="158.0" rx="1.56" ry="0.50" fill="#6258c0" opacity="0.65" transform="rotate(20 614.0 158.0)"/><ellipse cx="674.8" cy="136.7" rx="1.49" ry="0.52" fill="#6258c0" opacity="0.65" transform="rotate(-5 674.8 136.7)"/><ellipse cx="522.7" cy="156.5" rx="0.85" ry="0.42" fill="#6258c0" opacity="0.65" transform="rotate(12 522.7 156.5)"/><ellipse cx="634.8" cy="129.3" rx="1.45" ry="0.41" fill="#6258c0" opacity="0.65" transform="rotate(-10 634.8 129.3)"/><ellipse cx="531.7" cy="124.9" rx="0.85" ry="0.42" fill="#6258c0" opacity="0.65" transform="rotate(-6 531.7 124.9)"/><ellipse cx="661.5" cy="163.9" rx="1.37" ry="0.52" fill="#6258c0" opacity="0.65" transform="rotate(-10 661.5 163.9)"/><ellipse cx="674.2" cy="132.3" rx="1.36" ry="0.41" fill="#6258c0" opacity="0.65" transform="rotate(-12 674.2 132.3)"/><ellipse cx="648.6" cy="150.9" rx="1.49" ry="0.55" fill="#6258c0" opacity="0.65" transform="rotate(-3 648.6 150.9)"/><ellipse cx="593.8" cy="154.6" rx="0.98" ry="0.53" fill="#6258c0" opacity="0.65" transform="rotate(-9 593.8 154.6)"/><ellipse cx="633.6" cy="96.7" rx="1.32" ry="0.64" fill="#6258c0" opacity="0.65" transform="rotate(-19 633.6 96.7)"/><ellipse cx="596.5" cy="140.4" rx="1.47" ry="0.55" fill="#6258c0" opacity="0.65" transform="rotate(-10 596.5 140.4)"/><ellipse cx="556.4" cy="162.2" rx="1.52" ry="0.43" fill="#6258c0" opacity="0.65" transform="rotate(-16 556.4 162.2)"/><ellipse cx="490.0" cy="97.7" rx="1.10" ry="0.44" fill="#6258c0" opacity="0.65" transform="rotate(15 490.0 97.7)"/><ellipse cx="609.6" cy="104.7" rx="1.18" ry="0.48" fill="#6258c0" opacity="0.65" transform="rotate(-0 609.6 104.7)"/><ellipse cx="516.8" cy="107.5" rx="0.87" ry="0.49" fill="#6258c0" opacity="0.65" transform="rotate(8 516.8 107.5)"/><ellipse cx="587.2" cy="99.2" rx="1.34" ry="0.62" fill="#6258c0" opacity="0.65" transform="rotate(11 587.2 99.2)"/><ellipse cx="638.4" cy="96.5" rx="1.12" ry="0.42" fill="#6258c0" opacity="0.65" transform="rotate(11 638.4 96.5)"/><ellipse cx="507.3" cy="145.1" rx="0.93" ry="0.57" fill="#6258c0" opacity="0.65" transform="rotate(-7 507.3 145.1)"/><ellipse cx="478.9" cy="122.8" rx="0.98" ry="0.63" fill="#6258c0" opacity="0.65" transform="rotate(-8 478.9 122.8)"/><ellipse cx="577.2" cy="133.9" rx="1.55" ry="0.42" fill="#6258c0" opacity="0.65" transform="rotate(4 577.2 133.9)"/><ellipse cx="578.2" cy="146.7" rx="1.57" ry="0.48" fill="#6258c0" opacity="0.65" transform="rotate(8 578.2 146.7)"/><ellipse cx="582.0" cy="134.7" rx="0.76" ry="0.60" fill="#6258c0" opacity="0.65" transform="rotate(19 582.0 134.7)"/><ellipse cx="545.7" cy="117.9" rx="1.59" ry="0.43" fill="#6258c0" opacity="0.65" transform="rotate(-17 545.7 117.9)"/><ellipse cx="485.6" cy="152.2" rx="1.38" ry="0.51" fill="#6258c0" opacity="0.65" transform="rotate(5 485.6 152.2)"/><ellipse cx="474.2" cy="140.5" rx="1.10" ry="0.53" fill="#6258c0" opacity="0.65" transform="rotate(-4 474.2 140.5)"/><ellipse cx="555.5" cy="111.6" rx="0.74" ry="0.51" fill="#6258c0" opacity="0.65" transform="rotate(-10 555.5 111.6)"/><ellipse cx="620.0" cy="152.4" rx="1.35" ry="0.51" fill="#6258c0" opacity="0.65" transform="rotate(-11 620.0 152.4)"/><ellipse cx="552.1" cy="129.6" rx="1.27" ry="0.64" fill="#6258c0" opacity="0.65" transform="rotate(-17 552.1 129.6)"/><ellipse cx="572.2" cy="129.9" rx="1.35" ry="0.62" fill="#6258c0" opacity="0.65" transform="rotate(11 572.2 129.9)"/><ellipse cx="603.5" cy="148.3" rx="1.30" ry="0.61" fill="#6258c0" opacity="0.65" transform="rotate(8 603.5 148.3)"/><ellipse cx="615.5" cy="112.9" rx="1.53" ry="0.50" fill="#6258c0" opacity="0.65" transform="rotate(5 615.5 112.9)"/><ellipse cx="645.7" cy="162.5" rx="1.59" ry="0.40" fill="#6258c0" opacity="0.65" transform="rotate(-7 645.7 162.5)"/><ellipse cx="536.4" cy="123.0" rx="0.83" ry="0.54" fill="#6258c0" opacity="0.65" transform="rotate(-17 536.4 123.0)"/><ellipse cx="534.5" cy="161.1" rx="1.37" ry="0.52" fill="#6258c0" opacity="0.65" transform="rotate(-16 534.5 161.1)"/><ellipse cx="673.6" cy="144.6" rx="0.89" ry="0.48" fill="#6258c0" opacity="0.65" transform="rotate(6 673.6 144.6)"/><ellipse cx="615.2" cy="114.0" rx="1.56" ry="0.48" fill="#6258c0" opacity="0.65" transform="rotate(-10 615.2 114.0)"/><ellipse cx="650.1" cy="106.6" rx="1.31" ry="0.45" fill="#6258c0" opacity="0.65" transform="rotate(4 650.1 106.6)"/><ellipse cx="529.1" cy="122.2" rx="1.55" ry="0.52" fill="#6258c0" opacity="0.65" transform="rotate(-3 529.1 122.2)"/><ellipse cx="601.4" cy="115.4" rx="0.86" ry="0.50" fill="#6258c0" opacity="0.65" transform="rotate(-9 601.4 115.4)"/><ellipse cx="510.1" cy="162.3" rx="0.73" ry="0.60" fill="#6258c0" opacity="0.65" transform="rotate(17 510.1 162.3)"/><ellipse cx="620.1" cy="97.3" rx="1.15" ry="0.41" fill="#6258c0" opacity="0.65" transform="rotate(4 620.1 97.3)"/><ellipse cx="619.2" cy="112.6" rx="0.71" ry="0.54" fill="#6258c0" opacity="0.65" transform="rotate(-16 619.2 112.6)"/><ellipse cx="535.8" cy="127.3" rx="1.51" ry="0.49" fill="#6258c0" opacity="0.65" transform="rotate(-15 535.8 127.3)"/><ellipse cx="638.6" cy="152.7" rx="1.18" ry="0.41" fill="#6258c0" opacity="0.65" transform="rotate(-12 638.6 152.7)"/><ellipse cx="555.8" cy="134.1" rx="0.90" ry="0.60" fill="#6258c0" opacity="0.65" transform="rotate(14 555.8 134.1)"/><ellipse cx="667.1" cy="157.0" rx="0.72" ry="0.55" fill="#6258c0" opacity="0.65" transform="rotate(-17 667.1 157.0)"/><ellipse cx="661.6" cy="147.5" rx="1.38" ry="0.45" fill="#6258c0" opacity="0.65" transform="rotate(-18 661.6 147.5)"/><ellipse cx="643.6" cy="137.8" rx="1.26" ry="0.52" fill="#6258c0" opacity="0.65" transform="rotate(12 643.6 137.8)"/><ellipse cx="542.0" cy="114.6" rx="1.02" ry="0.47" fill="#6258c0" opacity="0.65" transform="rotate(5 542.0 114.6)"/><ellipse cx="659.6" cy="100.9" rx="0.76" ry="0.53" fill="#6258c0" opacity="0.65" transform="rotate(7 659.6 100.9)"/><ellipse cx="510.4" cy="114.6" rx="0.75" ry="0.41" fill="#6258c0" opacity="0.65" transform="rotate(-0 510.4 114.6)"/><ellipse cx="615.0" cy="141.1" rx="0.84" ry="0.43" fill="#6258c0" opacity="0.65" transform="rotate(17 615.0 141.1)"/><ellipse cx="584.7" cy="124.2" rx="1.32" ry="0.58" fill="#6258c0" opacity="0.65" transform="rotate(1 584.7 124.2)"/><ellipse cx="486.7" cy="153.1" rx="0.89" ry="0.41" fill="#6258c0" opacity="0.65" transform="rotate(-6 486.7 153.1)"/><ellipse cx="583.4" cy="139.3" rx="0.86" ry="0.58" fill="#6258c0" opacity="0.65" transform="rotate(-0 583.4 139.3)"/><ellipse cx="504.5" cy="154.7" rx="1.43" ry="0.63" fill="#6258c0" opacity="0.65" transform="rotate(7 504.5 154.7)"/><ellipse cx="516.3" cy="149.7" rx="1.51" ry="0.53" fill="#6258c0" opacity="0.65" transform="rotate(16 516.3 149.7)"/><ellipse cx="676.6" cy="122.9" rx="1.55" ry="0.63" fill="#6258c0" opacity="0.65" transform="rotate(12 676.6 122.9)"/><ellipse cx="472.4" cy="120.3" rx="1.25" ry="0.55" fill="#6258c0" opacity="0.65" transform="rotate(10 472.4 120.3)"/><ellipse cx="607.8" cy="107.1" rx="1.54" ry="0.53" fill="#6258c0" opacity="0.65" transform="rotate(15 607.8 107.1)"/><ellipse cx="514.1" cy="164.9" rx="1.20" ry="0.59" fill="#6258c0" opacity="0.65" transform="rotate(10 514.1 164.9)"/><ellipse cx="658.0" cy="121.0" rx="0.77" ry="0.50" fill="#6258c0" opacity="0.65" transform="rotate(-13 658.0 121.0)"/><ellipse cx="585.0" cy="152.2" rx="1.03" ry="0.43" fill="#6258c0" opacity="0.65" transform="rotate(-19 585.0 152.2)"/><ellipse cx="560.1" cy="136.0" rx="0.72" ry="0.57" fill="#6258c0" opacity="0.65" transform="rotate(-12 560.1 136.0)"/><ellipse cx="492.8" cy="160.0" rx="1.17" ry="0.62" fill="#6258c0" opacity="0.65" transform="rotate(1 492.8 160.0)"/><ellipse cx="496.2" cy="112.6" rx="1.08" ry="0.56" fill="#6258c0" opacity="0.65" transform="rotate(11 496.2 112.6)"/><ellipse cx="630.0" cy="140.9" rx="0.93" ry="0.51" fill="#6258c0" opacity="0.65" transform="rotate(-5 630.0 140.9)"/><ellipse cx="574.3" cy="114.3" rx="1.18" ry="0.51" fill="#6258c0" opacity="0.65" transform="rotate(-19 574.3 114.3)"/><ellipse cx="645.3" cy="136.5" rx="1.42" ry="0.58" fill="#6258c0" opacity="0.65" transform="rotate(9 645.3 136.5)"/><ellipse cx="681.6" cy="122.0" rx="1.05" ry="0.40" fill="#6258c0" opacity="0.65" transform="rotate(7 681.6 122.0)"/><ellipse cx="593.9" cy="135.8" rx="1.60" ry="0.45" fill="#6258c0" opacity="0.65" transform="rotate(-11 593.9 135.8)"/><ellipse cx="626.4" cy="152.1" rx="1.13" ry="0.41" fill="#6258c0" opacity="0.65" transform="rotate(-5 626.4 152.1)"/><ellipse cx="646.0" cy="130.5" rx="1.12" ry="0.50" fill="#6258c0" opacity="0.65" transform="rotate(5 646.0 130.5)"/><ellipse cx="597.5" cy="143.8" rx="1.48" ry="0.59" fill="#6258c0" opacity="0.65" transform="rotate(-5 597.5 143.8)"/><ellipse cx="523.3" cy="150.0" rx="1.41" ry="0.63" fill="#6258c0" opacity="0.65" transform="rotate(-12 523.3 150.0)"/><ellipse cx="650.6" cy="157.5" rx="0.77" ry="0.48" fill="#6258c0" opacity="0.65" transform="rotate(5 650.6 157.5)"/><ellipse cx="501.1" cy="153.4" rx="0.94" ry="0.57" fill="#6258c0" opacity="0.65" transform="rotate(-8 501.1 153.4)"/><ellipse cx="516.5" cy="110.3" rx="1.15" ry="0.58" fill="#6258c0" opacity="0.65" transform="rotate(-11 516.5 110.3)"/><ellipse cx="616.2" cy="119.1" rx="1.28" ry="0.49" fill="#6258c0" opacity="0.65" transform="rotate(-12 616.2 119.1)"/><ellipse cx="500.0" cy="100.0" rx="1.33" ry="0.50" fill="#6258c0" opacity="0.65" transform="rotate(-15 500.0 100.0)"/><ellipse cx="657.6" cy="141.2" rx="0.72" ry="0.58" fill="#6258c0" opacity="0.65" transform="rotate(4 657.6 141.2)"/><ellipse cx="564.5" cy="130.5" rx="1.57" ry="0.49" fill="#6258c0" opacity="0.65" transform="rotate(5 564.5 130.5)"/><ellipse cx="605.4" cy="121.2" rx="1.01" ry="0.59" fill="#6258c0" opacity="0.65" transform="rotate(5 605.4 121.2)"/><ellipse cx="567.3" cy="131.5" rx="0.90" ry="0.60" fill="#6258c0" opacity="0.65" transform="rotate(-19 567.3 131.5)"/><ellipse cx="607.0" cy="127.4" rx="0.90" ry="0.55" fill="#6258c0" opacity="0.65" transform="rotate(3 607.0 127.4)"/><ellipse cx="488.5" cy="129.8" rx="0.85" ry="0.60" fill="#6258c0" opacity="0.65" transform="rotate(-7 488.5 129.8)"/><ellipse cx="539.9" cy="110.9" rx="0.74" ry="0.45" fill="#6258c0" opacity="0.65" transform="rotate(-14 539.9 110.9)"/><ellipse cx="602.9" cy="154.5" rx="0.90" ry="0.43" fill="#6258c0" opacity="0.65" transform="rotate(1 602.9 154.5)"/><ellipse cx="494.6" cy="124.0" rx="1.38" ry="0.45" fill="#6258c0" opacity="0.65" transform="rotate(8 494.6 124.0)"/><ellipse cx="584.7" cy="101.9" rx="0.92" ry="0.55" fill="#6258c0" opacity="0.65" transform="rotate(-16 584.7 101.9)"/><ellipse cx="513.4" cy="135.8" rx="1.44" ry="0.53" fill="#6258c0" opacity="0.65" transform="rotate(7 513.4 135.8)"/><ellipse cx="471.9" cy="116.9" rx="0.99" ry="0.63" fill="#6258c0" opacity="0.65" transform="rotate(-6 471.9 116.9)"/><ellipse cx="637.2" cy="98.4" rx="1.15" ry="0.62" fill="#6258c0" opacity="0.65" transform="rotate(11 637.2 98.4)"/><ellipse cx="593.5" cy="108.6" rx="1.53" ry="0.42" fill="#6258c0" opacity="0.65" transform="rotate(19 593.5 108.6)"/><ellipse cx="635.3" cy="145.7" rx="1.18" ry="0.44" fill="#6258c0" opacity="0.65" transform="rotate(-6 635.3 145.7)"/><ellipse cx="611.4" cy="141.3" rx="1.05" ry="0.60" fill="#6258c0" opacity="0.65" transform="rotate(-18 611.4 141.3)"/><ellipse cx="531.2" cy="102.2" rx="0.99" ry="0.60" fill="#6258c0" opacity="0.65" transform="rotate(10 531.2 102.2)"/><ellipse cx="501.8" cy="117.3" rx="0.80" ry="0.57" fill="#6258c0" opacity="0.65" transform="rotate(-2 501.8 117.3)"/><ellipse cx="519.3" cy="121.8" rx="1.48" ry="0.51" fill="#6258c0" opacity="0.65" transform="rotate(8 519.3 121.8)"/><ellipse cx="603.7" cy="128.7" rx="1.20" ry="0.49" fill="#6258c0" opacity="0.65" transform="rotate(-12 603.7 128.7)"/><ellipse cx="575.3" cy="117.0" rx="1.00" ry="0.45" fill="#6258c0" opacity="0.65" transform="rotate(17 575.3 117.0)"/><ellipse cx="560.6" cy="109.8" rx="0.73" ry="0.45" fill="#6258c0" opacity="0.65" transform="rotate(15 560.6 109.8)"/><ellipse cx="541.8" cy="142.0" rx="0.91" ry="0.56" fill="#6258c0" opacity="0.65" transform="rotate(-2 541.8 142.0)"/></g>
<g><path d="M488.6,136.3 q3.6,1.0 7.2,0.3" fill="none" stroke="#b0a0d4" stroke-width="0.6" opacity="0.6"/><path d="M600.9,132.1 q5.8,-0.5 11.5,-0.2" fill="none" stroke="#b0a0d4" stroke-width="0.6" opacity="0.6"/><path d="M650.8,125.1 q4.7,1.1 9.4,0.3" fill="none" stroke="#b0a0d4" stroke-width="0.6" opacity="0.6"/><path d="M641.8,137.7 q5.2,-1.1 10.4,-0.3" fill="none" stroke="#b0a0d4" stroke-width="0.6" opacity="0.6"/><path d="M561.3,155.3 q5.0,-0.1 10.0,-0.0" fill="none" stroke="#b0a0d4" stroke-width="0.6" opacity="0.6"/><path d="M518.8,120.0 q3.7,-0.9 7.4,-0.3" fill="none" stroke="#b0a0d4" stroke-width="0.6" opacity="0.6"/><path d="M669.6,140.7 q4.1,-0.8 8.2,-0.2" fill="none" stroke="#b0a0d4" stroke-width="0.6" opacity="0.6"/><path d="M538.7,124.5 q2.6,-0.4 5.2,-0.1" fill="none" stroke="#b0a0d4" stroke-width="0.6" opacity="0.6"/><path d="M548.0,146.8 q5.6,-1.2 11.3,-0.4" fill="none" stroke="#b0a0d4" stroke-width="0.6" opacity="0.6"/><path d="M499.1,155.0 q2.0,-0.6 4.1,-0.2" fill="none" stroke="#b0a0d4" stroke-width="0.6" opacity="0.6"/><path d="M590.0,132.7 q2.9,0.6 5.7,0.2" fill="none" stroke="#b0a0d4" stroke-width="0.6" opacity="0.6"/><path d="M621.8,96.4 q4.8,-0.3 9.7,-0.1" fill="none" stroke="#b0a0d4" stroke-width="0.6" opacity="0.6"/><path d="M574.9,135.8 q4.6,0.7 9.2,0.2" fill="none" stroke="#b0a0d4" stroke-width="0.6" opacity="0.6"/><path d="M508.5,109.2 q2.8,-0.8 5.6,-0.2" fill="none" stroke="#b0a0d4" stroke-width="0.6" opacity="0.6"/><path d="M638.1,155.3 q3.5,0.4 6.9,0.1" fill="none" stroke="#b0a0d4" stroke-width="0.6" opacity="0.6"/><path d="M638.6,155.5 q5.1,0.2 10.2,0.1" fill="none" stroke="#b0a0d4" stroke-width="0.6" opacity="0.6"/><path d="M640.2,118.4 q4.4,-0.5 8.8,-0.2" fill="none" stroke="#b0a0d4" stroke-width="0.6" opacity="0.6"/><path d="M556.2,122.2 q4.0,-1.2 8.0,-0.4" fill="none" stroke="#b0a0d4" stroke-width="0.6" opacity="0.6"/><path d="M563.1,130.3 q5.6,0.5 11.3,0.2" fill="none" stroke="#b0a0d4" stroke-width="0.6" opacity="0.6"/><path d="M502.1,123.1 q5.0,-1.0 10.0,-0.3" fill="none" stroke="#b0a0d4" stroke-width="0.6" opacity="0.6"/><path d="M654.1,99.2 q4.7,0.2 9.4,0.0" fill="none" stroke="#b0a0d4" stroke-width="0.6" opacity="0.6"/><path d="M674.1,121.5 q3.2,-0.8 6.5,-0.2" fill="none" stroke="#b0a0d4" stroke-width="0.6" opacity="0.6"/><path d="M529.1,117.9 q4.3,-0.5 8.6,-0.2" fill="none" stroke="#b0a0d4" stroke-width="0.6" opacity="0.6"/><path d="M508.3,155.8 q2.3,1.1 4.5,0.3" fill="none" stroke="#b0a0d4" stroke-width="0.6" opacity="0.6"/><path d="M525.0,148.8 q4.9,1.1 9.9,0.3" fill="none" stroke="#b0a0d4" stroke-width="0.6" opacity="0.6"/><path d="M634.1,96.6 q5.0,1.1 10.1,0.3" fill="none" stroke="#b0a0d4" stroke-width="0.6" opacity="0.6"/><path d="M637.9,131.8 q2.2,-1.1 4.4,-0.3" fill="none" stroke="#b0a0d4" stroke-width="0.6" opacity="0.6"/><path d="M522.4,145.8 q2.6,0.1 5.2,0.0" fill="none" stroke="#b0a0d4" stroke-width="0.6" opacity="0.6"/><path d="M630.1,135.1 q4.9,0.7 9.8,0.2" fill="none" stroke="#b0a0d4" stroke-width="0.6" opacity="0.6"/><path d="M624.2,96.5 q4.6,0.2 9.3,0.1" fill="none" stroke="#b0a0d4" stroke-width="0.6" opacity="0.6"/><path d="M644.8,113.8 q2.6,-1.1 5.1,-0.3" fill="none" stroke="#b0a0d4" stroke-width="0.6" opacity="0.6"/><path d="M565.9,107.2 q5.1,0.2 10.2,0.1" fill="none" stroke="#b0a0d4" stroke-width="0.6" opacity="0.6"/><path d="M550.1,119.5 q2.4,-0.9 4.7,-0.3" fill="none" stroke="#b0a0d4" stroke-width="0.6" opacity="0.6"/><path d="M659.7,107.7 q4.1,0.2 8.3,0.1" fill="none" stroke="#b0a0d4" stroke-width="0.6" opacity="0.6"/><path d="M630.0,107.4 q3.6,-0.9 7.2,-0.3" fill="none" stroke="#b0a0d4" stroke-width="0.6" opacity="0.6"/><path d="M494.6,121.8 q4.1,-0.4 8.2,-0.1" fill="none" stroke="#b0a0d4" stroke-width="0.6" opacity="0.6"/><path d="M553.0,134.5 q2.1,0.8 4.2,0.3" fill="none" stroke="#b0a0d4" stroke-width="0.6" opacity="0.6"/><path d="M473.9,123.8 q4.9,-1.2 9.7,-0.4" fill="none" stroke="#b0a0d4" stroke-width="0.6" opacity="0.6"/><path d="M501.5,97.5 q2.6,0.2 5.1,0.1" fill="none" stroke="#b0a0d4" stroke-width="0.6" opacity="0.6"/><path d="M628.5,162.7 q4.1,0.9 8.3,0.3" fill="none" stroke="#b0a0d4" stroke-width="0.6" opacity="0.6"/><path d="M558.7,132.4 q5.8,-1.1 11.7,-0.3" fill="none" stroke="#b0a0d4" stroke-width="0.6" opacity="0.6"/><path d="M664.0,116.8 q3.8,1.0 7.5,0.3" fill="none" stroke="#b0a0d4" stroke-width="0.6" opacity="0.6"/><path d="M563.1,159.5 q4.7,-0.8 9.4,-0.3" fill="none" stroke="#b0a0d4" stroke-width="0.6" opacity="0.6"/><path d="M678.0,98.1 q4.8,-0.4 9.5,-0.1" fill="none" stroke="#b0a0d4" stroke-width="0.6" opacity="0.6"/><path d="M675.2,112.8 q2.7,-0.6 5.5,-0.2" fill="none" stroke="#b0a0d4" stroke-width="0.6" opacity="0.6"/><path d="M621.7,123.5 q4.4,1.0 8.9,0.3" fill="none" stroke="#b0a0d4" stroke-width="0.6" opacity="0.6"/><path d="M622.1,152.9 q3.1,-1.0 6.2,-0.3" fill="none" stroke="#b0a0d4" stroke-width="0.6" opacity="0.6"/><path d="M578.7,108.3 q5.0,0.1 10.1,0.0" fill="none" stroke="#b0a0d4" stroke-width="0.6" opacity="0.6"/><path d="M597.1,110.7 q3.6,0.8 7.2,0.2" fill="none" stroke="#b0a0d4" stroke-width="0.6" opacity="0.6"/><path d="M605.7,118.7 q4.2,0.0 8.4,0.0" fill="none" stroke="#b0a0d4" stroke-width="0.6" opacity="0.6"/><path d="M651.0,140.1 q2.4,-1.0 4.8,-0.3" fill="none" stroke="#b0a0d4" stroke-width="0.6" opacity="0.6"/><path d="M516.9,152.8 q3.5,-1.2 7.0,-0.4" fill="none" stroke="#b0a0d4" stroke-width="0.6" opacity="0.6"/><path d="M607.2,126.7 q2.9,-1.0 5.8,-0.3" fill="none" stroke="#b0a0d4" stroke-width="0.6" opacity="0.6"/><path d="M620.5,132.5 q5.7,-0.7 11.4,-0.2" fill="none" stroke="#b0a0d4" stroke-width="0.6" opacity="0.6"/><path d="M547.4,153.3 q4.9,-0.7 9.8,-0.2" fill="none" stroke="#b0a0d4" stroke-width="0.6" opacity="0.6"/><path d="M523.1,145.6 q3.7,-1.2 7.3,-0.4" fill="none" stroke="#b0a0d4" stroke-width="0.6" opacity="0.6"/><path d="M568.5,159.8 q4.0,-0.2 8.0,-0.1" fill="none" stroke="#b0a0d4" stroke-width="0.6" opacity="0.6"/><path d="M550.0,101.6 q5.5,-0.9 11.0,-0.3" fill="none" stroke="#b0a0d4" stroke-width="0.6" opacity="0.6"/><path d="M559.9,128.2 q3.1,-1.1 6.2,-0.3" fill="none" stroke="#b0a0d4" stroke-width="0.6" opacity="0.6"/><path d="M480.2,156.8 q5.8,0.1 11.5,0.0" fill="none" stroke="#b0a0d4" stroke-width="0.6" opacity="0.6"/><path d="M679.4,156.0 q4.7,-0.7 9.5,-0.2" fill="none" stroke="#b0a0d4" stroke-width="0.6" opacity="0.6"/><path d="M517.8,98.3 q4.9,-1.2 9.9,-0.3" fill="none" stroke="#b0a0d4" stroke-width="0.6" opacity="0.6"/><path d="M666.5,141.9 q5.4,-0.1 10.8,-0.0" fill="none" stroke="#b0a0d4" stroke-width="0.6" opacity="0.6"/><path d="M651.9,127.0 q3.3,0.9 6.5,0.3" fill="none" stroke="#b0a0d4" stroke-width="0.6" opacity="0.6"/><path d="M476.8,150.4 q4.2,0.9 8.4,0.3" fill="none" stroke="#b0a0d4" stroke-width="0.6" opacity="0.6"/><path d="M654.7,101.7 q3.5,-0.0 7.1,-0.0" fill="none" stroke="#b0a0d4" stroke-width="0.6" opacity="0.6"/><path d="M598.0,102.2 q5.5,-1.1 10.9,-0.3" fill="none" stroke="#b0a0d4" stroke-width="0.6" opacity="0.6"/><path d="M476.1,158.4 q4.1,1.0 8.2,0.3" fill="none" stroke="#b0a0d4" stroke-width="0.6" opacity="0.6"/><path d="M543.5,163.6 q5.7,-0.9 11.5,-0.3" fill="none" stroke="#b0a0d4" stroke-width="0.6" opacity="0.6"/><path d="M540.2,101.1 q4.2,-1.0 8.4,-0.3" fill="none" stroke="#b0a0d4" stroke-width="0.6" opacity="0.6"/></g>
<g clip-path="url(#cli1)">
<rect x="589.50" y="110.50" width="95.00" height="61.00" fill="#cacee2" />
<path d="M589.5,138 L610,137.5 L640,138 L684,137.5 L684,171.5 L589.5,171.5 Z" fill="#d1cde7" stroke="none" stroke-width="1" />
<rect x="589.50" y="138.00" width="95.00" height="8.00" fill="#d6c6e4" opacity="0.6"/>
<rect x="589.50" y="138.00" width="95.00" height="34.00" fill="url(#streak)" />
<path d="M590,139 L595,134 L605,130 L615,123 L625,116 L632,112 L640,115 L650,122 L660,127 L672,130 L684,128 L684,141 L590,141 Z" fill="#7e4cb0" stroke="none" stroke-width="1" filter="url(#blotch3)" opacity="0.9"/>
</g>
<g><ellipse cx="643.5" cy="160.8" rx="1.44" ry="0.47" fill="#6a5cc0" opacity="0.7" transform="rotate(6 643.5 160.8)"/><ellipse cx="673.0" cy="167.7" rx="0.87" ry="0.56" fill="#6a5cc0" opacity="0.7" transform="rotate(5 673.0 167.7)"/><ellipse cx="637.3" cy="169.2" rx="1.18" ry="0.51" fill="#6a5cc0" opacity="0.7" transform="rotate(18 637.3 169.2)"/><ellipse cx="649.5" cy="152.5" rx="0.98" ry="0.52" fill="#6a5cc0" opacity="0.7" transform="rotate(-18 649.5 152.5)"/><ellipse cx="646.9" cy="163.4" rx="1.08" ry="0.61" fill="#6a5cc0" opacity="0.7" transform="rotate(17 646.9 163.4)"/><ellipse cx="642.1" cy="162.0" rx="0.81" ry="0.41" fill="#6a5cc0" opacity="0.7" transform="rotate(19 642.1 162.0)"/><ellipse cx="617.2" cy="150.3" rx="1.51" ry="0.59" fill="#6a5cc0" opacity="0.7" transform="rotate(-15 617.2 150.3)"/><ellipse cx="620.6" cy="151.1" rx="0.95" ry="0.40" fill="#6a5cc0" opacity="0.7" transform="rotate(1 620.6 151.1)"/><ellipse cx="619.0" cy="154.9" rx="0.87" ry="0.43" fill="#6a5cc0" opacity="0.7" transform="rotate(-19 619.0 154.9)"/><ellipse cx="671.3" cy="163.7" rx="1.20" ry="0.43" fill="#6a5cc0" opacity="0.7" transform="rotate(-14 671.3 163.7)"/><ellipse cx="602.0" cy="152.9" rx="0.75" ry="0.47" fill="#6a5cc0" opacity="0.7" transform="rotate(-12 602.0 152.9)"/><ellipse cx="608.7" cy="161.3" rx="1.11" ry="0.52" fill="#6a5cc0" opacity="0.7" transform="rotate(-6 608.7 161.3)"/><ellipse cx="640.6" cy="164.6" rx="0.98" ry="0.42" fill="#6a5cc0" opacity="0.7" transform="rotate(-1 640.6 164.6)"/><ellipse cx="625.9" cy="164.5" rx="0.80" ry="0.62" fill="#6a5cc0" opacity="0.7" transform="rotate(-19 625.9 164.5)"/><ellipse cx="640.9" cy="156.1" rx="0.98" ry="0.62" fill="#6a5cc0" opacity="0.7" transform="rotate(8 640.9 156.1)"/><ellipse cx="606.0" cy="157.4" rx="1.25" ry="0.41" fill="#6a5cc0" opacity="0.7" transform="rotate(-17 606.0 157.4)"/><ellipse cx="646.4" cy="163.2" rx="1.12" ry="0.51" fill="#6a5cc0" opacity="0.7" transform="rotate(0 646.4 163.2)"/><ellipse cx="615.0" cy="166.9" rx="1.57" ry="0.52" fill="#6a5cc0" opacity="0.7" transform="rotate(-19 615.0 166.9)"/><ellipse cx="627.5" cy="165.1" rx="0.99" ry="0.43" fill="#6a5cc0" opacity="0.7" transform="rotate(-13 627.5 165.1)"/><ellipse cx="656.5" cy="160.6" rx="0.96" ry="0.56" fill="#6a5cc0" opacity="0.7" transform="rotate(10 656.5 160.6)"/><ellipse cx="679.9" cy="165.8" rx="1.09" ry="0.60" fill="#6a5cc0" opacity="0.7" transform="rotate(17 679.9 165.8)"/><ellipse cx="670.9" cy="163.8" rx="1.23" ry="0.53" fill="#6a5cc0" opacity="0.7" transform="rotate(14 670.9 163.8)"/><ellipse cx="648.5" cy="163.0" rx="0.91" ry="0.42" fill="#6a5cc0" opacity="0.7" transform="rotate(-9 648.5 163.0)"/><ellipse cx="644.7" cy="159.3" rx="0.88" ry="0.45" fill="#6a5cc0" opacity="0.7" transform="rotate(18 644.7 159.3)"/><ellipse cx="597.6" cy="168.2" rx="1.39" ry="0.54" fill="#6a5cc0" opacity="0.7" transform="rotate(20 597.6 168.2)"/><ellipse cx="653.5" cy="145.2" rx="1.55" ry="0.50" fill="#6a5cc0" opacity="0.7" transform="rotate(17 653.5 145.2)"/><ellipse cx="665.9" cy="148.5" rx="0.74" ry="0.41" fill="#6a5cc0" opacity="0.7" transform="rotate(11 665.9 148.5)"/><ellipse cx="663.8" cy="150.7" rx="0.80" ry="0.49" fill="#6a5cc0" opacity="0.7" transform="rotate(12 663.8 150.7)"/><ellipse cx="659.2" cy="166.7" rx="1.57" ry="0.59" fill="#6a5cc0" opacity="0.7" transform="rotate(13 659.2 166.7)"/><ellipse cx="592.5" cy="145.2" rx="1.48" ry="0.55" fill="#6a5cc0" opacity="0.7" transform="rotate(-7 592.5 145.2)"/></g>
<rect x="589.00" y="110.00" width="95.50" height="0.90" fill="#fff" />
<rect x="589.00" y="110.00" width="0.90" height="61.00" fill="#fff" />
<text x="471.48" y="162.50" font-size="7.85" font-weight="bold" fill="#111" stroke="#111" stroke-width="0.22" textLength="28.03" lengthAdjust="spacingAndGlyphs" >100 µm</text>
<rect x="472.00" y="165.80" width="25.00" height="1.80" fill="#111" />
<rect x="593.00" y="166.20" width="22.00" height="1.80" fill="#111" />
<g clip-path="url(#cl2)">
<rect x="469.00" y="227.00" width="215.00" height="120.00" fill="#d6d8e3" />
<path d="M469,240.3 Q475,241.8 482,241.3 T496,240.8 T510,240.4 T524,239.6 T540,239.4 T556,239.2 T570,240.0 T585,239.6 T600,239.4 T616,239.2 T632,239.4 T648,240.0 T664,239.8 T684,239.6 L684,347 L469,347 Z" fill="#d6cae9" stroke="none" stroke-width="1" />
<path d="M469,240.3 Q475,241.8 482,241.3 T496,240.8 T510,240.4 T524,239.6 T540,239.4 T556,239.2 T570,240.0 T585,239.6 T600,239.4 T616,239.2 T632,239.4 T648,240.0 T664,239.8 T684,239.6 L684,261 Q600,262 469,260 Z" fill="url(#gepi)" stroke="none" stroke-width="1" />
<rect x="469.00" y="258.00" width="215.00" height="6.00" fill="url(#gtrans)" />
<path d="M469,240.3 Q475,241.8 482,241.3 T496,240.8 T510,240.4 T524,239.6 T540,239.4 T556,239.2 T570,240.0 T585,239.6 T600,239.4 T616,239.2 T632,239.4 T648,240.0 T664,239.8 T684,239.6" fill="none" stroke="#be2e9e" stroke-width="1.9" />
<rect x="469.00" y="262.00" width="215.00" height="72.00" fill="url(#streak)" />
<rect x="469.00" y="261.00" width="215.00" height="32.00" fill="url(#gpale)" />
<rect x="469.00" y="333.30" width="121.00" height="6.80" fill="#a9a6a4" />
<rect x="469.00" y="334.30" width="121.00" height="4.80" fill="url(#memb)" />
<rect x="469.00" y="340.50" width="121.00" height="6.50" fill="#d2d0e4" />
</g>
<g><ellipse cx="557.0" cy="254.4" rx="1.28" ry="0.37" fill="#e8dcf0" opacity="0.45"/><ellipse cx="518.0" cy="249.3" rx="0.60" ry="0.30" fill="#e8dcf0" opacity="0.45"/><ellipse cx="503.4" cy="254.1" rx="1.39" ry="0.58" fill="#e8dcf0" opacity="0.45"/><ellipse cx="550.6" cy="253.1" rx="1.12" ry="0.43" fill="#e8dcf0" opacity="0.45"/><ellipse cx="485.7" cy="257.4" rx="1.06" ry="0.34" fill="#e8dcf0" opacity="0.45"/><ellipse cx="484.9" cy="249.9" rx="1.36" ry="0.34" fill="#e8dcf0" opacity="0.45"/><ellipse cx="603.2" cy="258.7" rx="0.53" ry="0.45" fill="#e8dcf0" opacity="0.45"/><ellipse cx="571.7" cy="258.2" rx="0.67" ry="0.40" fill="#e8dcf0" opacity="0.45"/><ellipse cx="522.8" cy="249.5" rx="1.11" ry="0.63" fill="#e8dcf0" opacity="0.45"/><ellipse cx="562.9" cy="249.4" rx="1.14" ry="0.59" fill="#e8dcf0" opacity="0.45"/><ellipse cx="609.2" cy="252.3" rx="1.25" ry="0.55" fill="#e8dcf0" opacity="0.45"/><ellipse cx="595.7" cy="254.4" rx="0.71" ry="0.48" fill="#e8dcf0" opacity="0.45"/><ellipse cx="639.1" cy="255.8" rx="0.81" ry="0.63" fill="#e8dcf0" opacity="0.45"/><ellipse cx="648.8" cy="249.4" rx="0.64" ry="0.39" fill="#e8dcf0" opacity="0.45"/><ellipse cx="473.1" cy="256.5" rx="1.08" ry="0.52" fill="#e8dcf0" opacity="0.45"/><ellipse cx="681.9" cy="252.6" rx="0.68" ry="0.34" fill="#e8dcf0" opacity="0.45"/><ellipse cx="542.4" cy="257.4" rx="1.05" ry="0.32" fill="#e8dcf0" opacity="0.45"/><ellipse cx="562.3" cy="249.5" rx="1.06" ry="0.35" fill="#e8dcf0" opacity="0.45"/><ellipse cx="508.2" cy="255.4" rx="1.25" ry="0.55" fill="#e8dcf0" opacity="0.45"/><ellipse cx="532.6" cy="255.5" rx="0.74" ry="0.30" fill="#e8dcf0" opacity="0.45"/><ellipse cx="528.3" cy="255.9" rx="1.06" ry="0.38" fill="#e8dcf0" opacity="0.45"/><ellipse cx="649.1" cy="257.3" rx="0.75" ry="0.68" fill="#e8dcf0" opacity="0.45"/><ellipse cx="525.9" cy="249.6" rx="0.96" ry="0.65" fill="#e8dcf0" opacity="0.45"/><ellipse cx="597.7" cy="254.5" rx="0.94" ry="0.41" fill="#e8dcf0" opacity="0.45"/><ellipse cx="533.9" cy="253.0" rx="0.99" ry="0.68" fill="#e8dcf0" opacity="0.45"/><ellipse cx="485.5" cy="251.5" rx="1.35" ry="0.56" fill="#e8dcf0" opacity="0.45"/><ellipse cx="485.8" cy="253.4" rx="1.09" ry="0.66" fill="#e8dcf0" opacity="0.45"/><ellipse cx="487.9" cy="258.0" rx="1.19" ry="0.41" fill="#e8dcf0" opacity="0.45"/><ellipse cx="583.6" cy="257.3" rx="0.72" ry="0.58" fill="#e8dcf0" opacity="0.45"/><ellipse cx="589.3" cy="249.7" rx="0.74" ry="0.46" fill="#e8dcf0" opacity="0.45"/><ellipse cx="499.7" cy="258.4" rx="0.73" ry="0.39" fill="#e8dcf0" opacity="0.45"/><ellipse cx="597.2" cy="254.3" rx="0.79" ry="0.43" fill="#e8dcf0" opacity="0.45"/><ellipse cx="575.8" cy="258.1" rx="0.57" ry="0.66" fill="#e8dcf0" opacity="0.45"/><ellipse cx="669.8" cy="255.8" rx="1.22" ry="0.45" fill="#e8dcf0" opacity="0.45"/><ellipse cx="675.0" cy="256.4" rx="1.12" ry="0.48" fill="#e8dcf0" opacity="0.45"/><ellipse cx="517.0" cy="255.9" rx="1.16" ry="0.30" fill="#e8dcf0" opacity="0.45"/><ellipse cx="536.3" cy="254.4" rx="0.69" ry="0.35" fill="#e8dcf0" opacity="0.45"/><ellipse cx="510.0" cy="249.2" rx="0.61" ry="0.46" fill="#e8dcf0" opacity="0.45"/><ellipse cx="576.8" cy="255.4" rx="0.78" ry="0.35" fill="#e8dcf0" opacity="0.45"/><ellipse cx="666.0" cy="255.3" rx="1.11" ry="0.58" fill="#e8dcf0" opacity="0.45"/><ellipse cx="538.5" cy="254.9" rx="0.79" ry="0.56" fill="#e8dcf0" opacity="0.45"/><ellipse cx="644.2" cy="249.2" rx="1.22" ry="0.35" fill="#e8dcf0" opacity="0.45"/><ellipse cx="473.4" cy="249.8" rx="1.01" ry="0.64" fill="#e8dcf0" opacity="0.45"/><ellipse cx="667.1" cy="250.6" rx="0.89" ry="0.68" fill="#e8dcf0" opacity="0.45"/><ellipse cx="659.0" cy="257.3" rx="0.72" ry="0.41" fill="#e8dcf0" opacity="0.45"/><ellipse cx="501.7" cy="251.6" rx="0.86" ry="0.62" fill="#e8dcf0" opacity="0.45"/><ellipse cx="610.6" cy="250.7" rx="0.66" ry="0.48" fill="#e8dcf0" opacity="0.45"/><ellipse cx="659.7" cy="253.7" rx="1.21" ry="0.58" fill="#e8dcf0" opacity="0.45"/><ellipse cx="657.0" cy="254.0" rx="0.84" ry="0.48" fill="#e8dcf0" opacity="0.45"/><ellipse cx="640.8" cy="251.8" rx="0.67" ry="0.63" fill="#e8dcf0" opacity="0.45"/><ellipse cx="572.3" cy="255.4" rx="0.66" ry="0.32" fill="#e8dcf0" opacity="0.45"/><ellipse cx="517.9" cy="253.3" rx="0.53" ry="0.41" fill="#e8dcf0" opacity="0.45"/><ellipse cx="670.9" cy="253.4" rx="0.50" ry="0.62" fill="#e8dcf0" opacity="0.45"/><ellipse cx="534.3" cy="250.7" rx="1.07" ry="0.57" fill="#e8dcf0" opacity="0.45"/><ellipse cx="539.1" cy="256.1" rx="1.29" ry="0.44" fill="#e8dcf0" opacity="0.45"/><ellipse cx="575.9" cy="249.1" rx="1.03" ry="0.42" fill="#e8dcf0" opacity="0.45"/><ellipse cx="609.0" cy="256.6" rx="0.81" ry="0.57" fill="#e8dcf0" opacity="0.45"/><ellipse cx="670.8" cy="250.7" rx="1.22" ry="0.49" fill="#e8dcf0" opacity="0.45"/><ellipse cx="671.0" cy="249.7" rx="0.84" ry="0.36" fill="#e8dcf0" opacity="0.45"/><ellipse cx="525.2" cy="257.9" rx="0.98" ry="0.44" fill="#e8dcf0" opacity="0.45"/><ellipse cx="675.1" cy="249.5" rx="0.52" ry="0.61" fill="#e8dcf0" opacity="0.45"/><ellipse cx="588.8" cy="257.3" rx="0.95" ry="0.68" fill="#e8dcf0" opacity="0.45"/><ellipse cx="540.7" cy="251.3" rx="1.30" ry="0.51" fill="#e8dcf0" opacity="0.45"/><ellipse cx="476.4" cy="249.1" rx="0.51" ry="0.59" fill="#e8dcf0" opacity="0.45"/><ellipse cx="606.0" cy="250.1" rx="1.22" ry="0.61" fill="#e8dcf0" opacity="0.45"/><ellipse cx="604.4" cy="254.8" rx="0.89" ry="0.58" fill="#e8dcf0" opacity="0.45"/><ellipse cx="552.8" cy="258.3" rx="1.03" ry="0.57" fill="#e8dcf0" opacity="0.45"/><ellipse cx="667.2" cy="258.8" rx="0.98" ry="0.35" fill="#e8dcf0" opacity="0.45"/><ellipse cx="581.8" cy="258.2" rx="0.69" ry="0.40" fill="#e8dcf0" opacity="0.45"/><ellipse cx="528.6" cy="251.3" rx="1.23" ry="0.51" fill="#e8dcf0" opacity="0.45"/><ellipse cx="488.2" cy="254.1" rx="1.13" ry="0.31" fill="#e8dcf0" opacity="0.45"/><ellipse cx="511.8" cy="249.1" rx="1.13" ry="0.46" fill="#e8dcf0" opacity="0.45"/><ellipse cx="472.9" cy="251.5" rx="0.67" ry="0.53" fill="#e8dcf0" opacity="0.45"/><ellipse cx="560.9" cy="253.2" rx="0.80" ry="0.32" fill="#e8dcf0" opacity="0.45"/><ellipse cx="539.5" cy="255.3" rx="0.98" ry="0.54" fill="#e8dcf0" opacity="0.45"/><ellipse cx="503.9" cy="249.4" rx="1.19" ry="0.59" fill="#e8dcf0" opacity="0.45"/><ellipse cx="610.2" cy="258.6" rx="0.78" ry="0.59" fill="#e8dcf0" opacity="0.45"/><ellipse cx="531.4" cy="255.0" rx="1.32" ry="0.48" fill="#e8dcf0" opacity="0.45"/><ellipse cx="601.0" cy="258.9" rx="0.94" ry="0.40" fill="#e8dcf0" opacity="0.45"/><ellipse cx="673.3" cy="255.7" rx="0.79" ry="0.41" fill="#e8dcf0" opacity="0.45"/></g>
<g><ellipse cx="551.2" cy="246.7" rx="0.85" ry="0.63" fill="#6a3aa8" opacity="0.45" transform="rotate(3 551.2 246.7)"/><ellipse cx="617.0" cy="251.8" rx="1.05" ry="0.58" fill="#6a3aa8" opacity="0.45" transform="rotate(3 617.0 251.8)"/><ellipse cx="636.4" cy="253.6" rx="1.46" ry="0.51" fill="#6a3aa8" opacity="0.45" transform="rotate(-14 636.4 253.6)"/><ellipse cx="501.9" cy="254.6" rx="0.85" ry="0.56" fill="#6a3aa8" opacity="0.45" transform="rotate(5 501.9 254.6)"/><ellipse cx="482.7" cy="255.5" rx="0.73" ry="0.62" fill="#6a3aa8" opacity="0.45" transform="rotate(14 482.7 255.5)"/><ellipse cx="516.0" cy="254.6" rx="1.36" ry="0.43" fill="#6a3aa8" opacity="0.45" transform="rotate(7 516.0 254.6)"/><ellipse cx="496.4" cy="257.6" rx="1.32" ry="0.65" fill="#6a3aa8" opacity="0.45" transform="rotate(-18 496.4 257.6)"/><ellipse cx="537.7" cy="252.9" rx="1.25" ry="0.45" fill="#6a3aa8" opacity="0.45" transform="rotate(16 537.7 252.9)"/><ellipse cx="650.3" cy="247.8" rx="0.83" ry="0.57" fill="#6a3aa8" opacity="0.45" transform="rotate(-4 650.3 247.8)"/><ellipse cx="611.3" cy="250.9" rx="1.06" ry="0.41" fill="#6a3aa8" opacity="0.45" transform="rotate(-15 611.3 250.9)"/><ellipse cx="567.6" cy="254.7" rx="1.08" ry="0.59" fill="#6a3aa8" opacity="0.45" transform="rotate(2 567.6 254.7)"/><ellipse cx="657.5" cy="253.5" rx="0.99" ry="0.43" fill="#6a3aa8" opacity="0.45" transform="rotate(-17 657.5 253.5)"/><ellipse cx="478.4" cy="256.8" rx="1.49" ry="0.59" fill="#6a3aa8" opacity="0.45" transform="rotate(-16 478.4 256.8)"/><ellipse cx="610.7" cy="245.0" rx="1.50" ry="0.56" fill="#6a3aa8" opacity="0.45" transform="rotate(10 610.7 245.0)"/><ellipse cx="599.7" cy="249.7" rx="1.46" ry="0.64" fill="#6a3aa8" opacity="0.45" transform="rotate(-10 599.7 249.7)"/><ellipse cx="563.2" cy="254.7" rx="1.31" ry="0.50" fill="#6a3aa8" opacity="0.45" transform="rotate(-2 563.2 254.7)"/><ellipse cx="676.1" cy="247.4" rx="0.89" ry="0.57" fill="#6a3aa8" opacity="0.45" transform="rotate(-9 676.1 247.4)"/><ellipse cx="661.2" cy="248.2" rx="1.53" ry="0.49" fill="#6a3aa8" opacity="0.45" transform="rotate(15 661.2 248.2)"/><ellipse cx="630.0" cy="254.7" rx="0.89" ry="0.44" fill="#6a3aa8" opacity="0.45" transform="rotate(-19 630.0 254.7)"/><ellipse cx="508.5" cy="253.7" rx="0.76" ry="0.46" fill="#6a3aa8" opacity="0.45" transform="rotate(3 508.5 253.7)"/><ellipse cx="503.0" cy="248.3" rx="0.91" ry="0.57" fill="#6a3aa8" opacity="0.45" transform="rotate(-15 503.0 248.3)"/><ellipse cx="682.5" cy="252.6" rx="1.34" ry="0.54" fill="#6a3aa8" opacity="0.45" transform="rotate(-0 682.5 252.6)"/><ellipse cx="676.8" cy="257.3" rx="1.44" ry="0.41" fill="#6a3aa8" opacity="0.45" transform="rotate(4 676.8 257.3)"/><ellipse cx="670.6" cy="253.2" rx="1.16" ry="0.56" fill="#6a3aa8" opacity="0.45" transform="rotate(-13 670.6 253.2)"/><ellipse cx="625.0" cy="255.5" rx="0.76" ry="0.53" fill="#6a3aa8" opacity="0.45" transform="rotate(4 625.0 255.5)"/><ellipse cx="545.0" cy="253.9" rx="1.53" ry="0.63" fill="#6a3aa8" opacity="0.45" transform="rotate(-8 545.0 253.9)"/><ellipse cx="502.3" cy="256.7" rx="1.25" ry="0.61" fill="#6a3aa8" opacity="0.45" transform="rotate(15 502.3 256.7)"/><ellipse cx="529.5" cy="252.4" rx="0.97" ry="0.60" fill="#6a3aa8" opacity="0.45" transform="rotate(8 529.5 252.4)"/><ellipse cx="520.9" cy="251.0" rx="1.23" ry="0.46" fill="#6a3aa8" opacity="0.45" transform="rotate(-13 520.9 251.0)"/><ellipse cx="571.0" cy="244.2" rx="1.15" ry="0.63" fill="#6a3aa8" opacity="0.45" transform="rotate(13 571.0 244.2)"/><ellipse cx="481.6" cy="256.2" rx="1.34" ry="0.58" fill="#6a3aa8" opacity="0.45" transform="rotate(-19 481.6 256.2)"/><ellipse cx="631.9" cy="246.1" rx="1.42" ry="0.48" fill="#6a3aa8" opacity="0.45" transform="rotate(-5 631.9 246.1)"/><ellipse cx="506.7" cy="256.9" rx="0.90" ry="0.62" fill="#6a3aa8" opacity="0.45" transform="rotate(1 506.7 256.9)"/><ellipse cx="501.6" cy="253.5" rx="1.18" ry="0.41" fill="#6a3aa8" opacity="0.45" transform="rotate(13 501.6 253.5)"/><ellipse cx="527.7" cy="243.4" rx="1.39" ry="0.58" fill="#6a3aa8" opacity="0.45" transform="rotate(-5 527.7 243.4)"/><ellipse cx="509.7" cy="251.4" rx="1.23" ry="0.57" fill="#6a3aa8" opacity="0.45" transform="rotate(-0 509.7 251.4)"/><ellipse cx="590.9" cy="254.5" rx="0.87" ry="0.45" fill="#6a3aa8" opacity="0.45" transform="rotate(-1 590.9 254.5)"/><ellipse cx="630.6" cy="255.8" rx="1.47" ry="0.51" fill="#6a3aa8" opacity="0.45" transform="rotate(9 630.6 255.8)"/><ellipse cx="492.6" cy="249.2" rx="0.76" ry="0.61" fill="#6a3aa8" opacity="0.45" transform="rotate(20 492.6 249.2)"/><ellipse cx="612.6" cy="255.0" rx="1.04" ry="0.60" fill="#6a3aa8" opacity="0.45" transform="rotate(-17 612.6 255.0)"/><ellipse cx="548.9" cy="248.6" rx="1.48" ry="0.44" fill="#6a3aa8" opacity="0.45" transform="rotate(-14 548.9 248.6)"/><ellipse cx="489.0" cy="256.5" rx="0.98" ry="0.63" fill="#6a3aa8" opacity="0.45" transform="rotate(-7 489.0 256.5)"/><ellipse cx="648.2" cy="246.1" rx="1.51" ry="0.64" fill="#6a3aa8" opacity="0.45" transform="rotate(15 648.2 246.1)"/><ellipse cx="617.4" cy="257.3" rx="1.52" ry="0.64" fill="#6a3aa8" opacity="0.45" transform="rotate(-9 617.4 257.3)"/><ellipse cx="651.0" cy="255.5" rx="1.01" ry="0.44" fill="#6a3aa8" opacity="0.45" transform="rotate(16 651.0 255.5)"/><ellipse cx="570.6" cy="251.5" rx="1.50" ry="0.52" fill="#6a3aa8" opacity="0.45" transform="rotate(-10 570.6 251.5)"/><ellipse cx="616.1" cy="251.5" rx="0.95" ry="0.57" fill="#6a3aa8" opacity="0.45" transform="rotate(16 616.1 251.5)"/><ellipse cx="522.4" cy="256.0" rx="1.38" ry="0.53" fill="#6a3aa8" opacity="0.45" transform="rotate(-12 522.4 256.0)"/><ellipse cx="611.6" cy="247.5" rx="0.93" ry="0.61" fill="#6a3aa8" opacity="0.45" transform="rotate(-9 611.6 247.5)"/><ellipse cx="489.7" cy="256.5" rx="1.60" ry="0.48" fill="#6a3aa8" opacity="0.45" transform="rotate(-4 489.7 256.5)"/><ellipse cx="586.0" cy="255.0" rx="0.71" ry="0.56" fill="#6a3aa8" opacity="0.45" transform="rotate(-11 586.0 255.0)"/><ellipse cx="667.9" cy="249.6" rx="1.55" ry="0.51" fill="#6a3aa8" opacity="0.45" transform="rotate(6 667.9 249.6)"/><ellipse cx="478.1" cy="246.2" rx="0.97" ry="0.49" fill="#6a3aa8" opacity="0.45" transform="rotate(-13 478.1 246.2)"/><ellipse cx="559.7" cy="244.4" rx="1.21" ry="0.64" fill="#6a3aa8" opacity="0.45" transform="rotate(14 559.7 244.4)"/><ellipse cx="602.5" cy="258.7" rx="1.36" ry="0.56" fill="#6a3aa8" opacity="0.45" transform="rotate(-2 602.5 258.7)"/><ellipse cx="487.5" cy="257.3" rx="1.51" ry="0.60" fill="#6a3aa8" opacity="0.45" transform="rotate(8 487.5 257.3)"/><ellipse cx="643.1" cy="258.3" rx="1.57" ry="0.59" fill="#6a3aa8" opacity="0.45" transform="rotate(-19 643.1 258.3)"/><ellipse cx="671.8" cy="252.1" rx="1.11" ry="0.51" fill="#6a3aa8" opacity="0.45" transform="rotate(-9 671.8 252.1)"/><ellipse cx="477.3" cy="252.9" rx="1.26" ry="0.42" fill="#6a3aa8" opacity="0.45" transform="rotate(17 477.3 252.9)"/><ellipse cx="662.4" cy="256.8" rx="1.18" ry="0.50" fill="#6a3aa8" opacity="0.45" transform="rotate(-1 662.4 256.8)"/></g>
<g><ellipse cx="546.1" cy="263.8" rx="0.95" ry="0.46" fill="#5a48b0" opacity="0.7" transform="rotate(9 546.1 263.8)"/><ellipse cx="550.5" cy="324.5" rx="0.78" ry="0.51" fill="#5a48b0" opacity="0.7" transform="rotate(-19 550.5 324.5)"/><ellipse cx="496.0" cy="297.4" rx="0.72" ry="0.45" fill="#5a48b0" opacity="0.7" transform="rotate(6 496.0 297.4)"/><ellipse cx="534.8" cy="277.4" rx="1.23" ry="0.60" fill="#5a48b0" opacity="0.7" transform="rotate(-20 534.8 277.4)"/><ellipse cx="565.9" cy="310.9" rx="1.01" ry="0.44" fill="#5a48b0" opacity="0.7" transform="rotate(18 565.9 310.9)"/><ellipse cx="510.1" cy="268.5" rx="0.79" ry="0.61" fill="#5a48b0" opacity="0.7" transform="rotate(4 510.1 268.5)"/><ellipse cx="566.0" cy="313.1" rx="1.18" ry="0.64" fill="#5a48b0" opacity="0.7" transform="rotate(-5 566.0 313.1)"/><ellipse cx="535.7" cy="320.1" rx="1.26" ry="0.62" fill="#5a48b0" opacity="0.7" transform="rotate(3 535.7 320.1)"/><ellipse cx="553.8" cy="265.2" rx="0.91" ry="0.47" fill="#5a48b0" opacity="0.7" transform="rotate(-17 553.8 265.2)"/><ellipse cx="497.7" cy="269.1" rx="0.95" ry="0.56" fill="#5a48b0" opacity="0.7" transform="rotate(-5 497.7 269.1)"/><ellipse cx="514.1" cy="276.7" rx="0.94" ry="0.63" fill="#5a48b0" opacity="0.7" transform="rotate(6 514.1 276.7)"/><ellipse cx="542.5" cy="274.0" rx="1.36" ry="0.44" fill="#5a48b0" opacity="0.7" transform="rotate(-5 542.5 274.0)"/><ellipse cx="587.8" cy="306.8" rx="1.20" ry="0.57" fill="#5a48b0" opacity="0.7" transform="rotate(14 587.8 306.8)"/><ellipse cx="562.3" cy="278.0" rx="0.73" ry="0.48" fill="#5a48b0" opacity="0.7" transform="rotate(-9 562.3 278.0)"/><ellipse cx="495.1" cy="328.0" rx="1.49" ry="0.48" fill="#5a48b0" opacity="0.7" transform="rotate(6 495.1 328.0)"/><ellipse cx="517.1" cy="326.0" rx="1.11" ry="0.47" fill="#5a48b0" opacity="0.7" transform="rotate(-10 517.1 326.0)"/><ellipse cx="536.8" cy="280.4" rx="1.23" ry="0.62" fill="#5a48b0" opacity="0.7" transform="rotate(-4 536.8 280.4)"/><ellipse cx="496.1" cy="331.8" rx="1.16" ry="0.42" fill="#5a48b0" opacity="0.7" transform="rotate(-18 496.1 331.8)"/><ellipse cx="483.0" cy="305.9" rx="1.41" ry="0.51" fill="#5a48b0" opacity="0.7" transform="rotate(-17 483.0 305.9)"/><ellipse cx="515.4" cy="331.7" rx="1.18" ry="0.64" fill="#5a48b0" opacity="0.7" transform="rotate(14 515.4 331.7)"/><ellipse cx="471.4" cy="312.5" rx="1.31" ry="0.53" fill="#5a48b0" opacity="0.7" transform="rotate(-9 471.4 312.5)"/><ellipse cx="546.3" cy="269.8" rx="1.09" ry="0.51" fill="#5a48b0" opacity="0.7" transform="rotate(18 546.3 269.8)"/><ellipse cx="574.2" cy="280.4" rx="1.15" ry="0.44" fill="#5a48b0" opacity="0.7" transform="rotate(17 574.2 280.4)"/><ellipse cx="573.6" cy="282.9" rx="1.28" ry="0.55" fill="#5a48b0" opacity="0.7" transform="rotate(-14 573.6 282.9)"/><ellipse cx="560.7" cy="299.8" rx="1.40" ry="0.53" fill="#5a48b0" opacity="0.7" transform="rotate(-20 560.7 299.8)"/><ellipse cx="508.6" cy="263.4" rx="1.54" ry="0.62" fill="#5a48b0" opacity="0.7" transform="rotate(13 508.6 263.4)"/><ellipse cx="506.6" cy="266.1" rx="1.49" ry="0.64" fill="#5a48b0" opacity="0.7" transform="rotate(-17 506.6 266.1)"/><ellipse cx="527.8" cy="266.8" rx="1.38" ry="0.59" fill="#5a48b0" opacity="0.7" transform="rotate(-15 527.8 266.8)"/><ellipse cx="526.6" cy="300.5" rx="0.94" ry="0.62" fill="#5a48b0" opacity="0.7" transform="rotate(-3 526.6 300.5)"/><ellipse cx="495.2" cy="299.8" rx="1.36" ry="0.45" fill="#5a48b0" opacity="0.7" transform="rotate(-8 495.2 299.8)"/><ellipse cx="588.4" cy="307.5" rx="1.09" ry="0.53" fill="#5a48b0" opacity="0.7" transform="rotate(-15 588.4 307.5)"/><ellipse cx="496.7" cy="285.7" rx="1.23" ry="0.46" fill="#5a48b0" opacity="0.7" transform="rotate(-11 496.7 285.7)"/><ellipse cx="478.4" cy="306.2" rx="0.91" ry="0.63" fill="#5a48b0" opacity="0.7" transform="rotate(14 478.4 306.2)"/><ellipse cx="478.4" cy="278.7" rx="1.30" ry="0.45" fill="#5a48b0" opacity="0.7" transform="rotate(-15 478.4 278.7)"/><ellipse cx="581.3" cy="302.0" rx="1.13" ry="0.60" fill="#5a48b0" opacity="0.7" transform="rotate(12 581.3 302.0)"/><ellipse cx="492.7" cy="268.8" rx="1.09" ry="0.51" fill="#5a48b0" opacity="0.7" transform="rotate(-1 492.7 268.8)"/><ellipse cx="556.8" cy="309.1" rx="1.59" ry="0.42" fill="#5a48b0" opacity="0.7" transform="rotate(-4 556.8 309.1)"/><ellipse cx="510.4" cy="322.3" rx="0.92" ry="0.45" fill="#5a48b0" opacity="0.7" transform="rotate(-2 510.4 322.3)"/><ellipse cx="520.2" cy="281.5" rx="0.92" ry="0.63" fill="#5a48b0" opacity="0.7" transform="rotate(-2 520.2 281.5)"/><ellipse cx="572.5" cy="300.5" rx="0.75" ry="0.65" fill="#5a48b0" opacity="0.7" transform="rotate(13 572.5 300.5)"/><ellipse cx="585.3" cy="326.8" rx="1.46" ry="0.44" fill="#5a48b0" opacity="0.7" transform="rotate(-1 585.3 326.8)"/><ellipse cx="495.4" cy="290.1" rx="0.75" ry="0.49" fill="#5a48b0" opacity="0.7" transform="rotate(19 495.4 290.1)"/><ellipse cx="501.6" cy="316.9" rx="1.11" ry="0.51" fill="#5a48b0" opacity="0.7" transform="rotate(18 501.6 316.9)"/><ellipse cx="588.5" cy="300.9" rx="1.35" ry="0.44" fill="#5a48b0" opacity="0.7" transform="rotate(-8 588.5 300.9)"/><ellipse cx="585.3" cy="302.5" rx="1.19" ry="0.59" fill="#5a48b0" opacity="0.7" transform="rotate(-18 585.3 302.5)"/><ellipse cx="539.5" cy="297.2" rx="1.47" ry="0.44" fill="#5a48b0" opacity="0.7" transform="rotate(18 539.5 297.2)"/><ellipse cx="479.5" cy="275.0" rx="1.24" ry="0.57" fill="#5a48b0" opacity="0.7" transform="rotate(-11 479.5 275.0)"/><ellipse cx="484.3" cy="324.3" rx="0.92" ry="0.55" fill="#5a48b0" opacity="0.7" transform="rotate(5 484.3 324.3)"/><ellipse cx="519.9" cy="302.9" rx="1.17" ry="0.63" fill="#5a48b0" opacity="0.7" transform="rotate(-12 519.9 302.9)"/><ellipse cx="555.2" cy="278.7" rx="1.06" ry="0.57" fill="#5a48b0" opacity="0.7" transform="rotate(-8 555.2 278.7)"/><ellipse cx="507.6" cy="314.6" rx="0.77" ry="0.51" fill="#5a48b0" opacity="0.7" transform="rotate(20 507.6 314.6)"/><ellipse cx="588.5" cy="267.1" rx="0.89" ry="0.47" fill="#5a48b0" opacity="0.7" transform="rotate(17 588.5 267.1)"/><ellipse cx="574.8" cy="323.5" rx="1.03" ry="0.44" fill="#5a48b0" opacity="0.7" transform="rotate(13 574.8 323.5)"/><ellipse cx="553.7" cy="304.8" rx="1.59" ry="0.56" fill="#5a48b0" opacity="0.7" transform="rotate(-20 553.7 304.8)"/><ellipse cx="567.2" cy="283.0" rx="1.30" ry="0.63" fill="#5a48b0" opacity="0.7" transform="rotate(-15 567.2 283.0)"/><ellipse cx="483.7" cy="269.5" rx="1.20" ry="0.47" fill="#5a48b0" opacity="0.7" transform="rotate(4 483.7 269.5)"/><ellipse cx="555.4" cy="276.3" rx="1.27" ry="0.47" fill="#5a48b0" opacity="0.7" transform="rotate(-0 555.4 276.3)"/><ellipse cx="577.7" cy="321.2" rx="0.78" ry="0.51" fill="#5a48b0" opacity="0.7" transform="rotate(-9 577.7 321.2)"/><ellipse cx="470.4" cy="316.0" rx="1.27" ry="0.47" fill="#5a48b0" opacity="0.7" transform="rotate(10 470.4 316.0)"/><ellipse cx="535.6" cy="291.9" rx="0.71" ry="0.42" fill="#5a48b0" opacity="0.7" transform="rotate(15 535.6 291.9)"/><ellipse cx="577.6" cy="300.2" rx="1.45" ry="0.55" fill="#5a48b0" opacity="0.7" transform="rotate(-14 577.6 300.2)"/><ellipse cx="485.2" cy="283.6" rx="1.51" ry="0.60" fill="#5a48b0" opacity="0.7" transform="rotate(14 485.2 283.6)"/><ellipse cx="577.0" cy="276.7" rx="0.92" ry="0.43" fill="#5a48b0" opacity="0.7" transform="rotate(11 577.0 276.7)"/><ellipse cx="575.2" cy="290.4" rx="1.26" ry="0.44" fill="#5a48b0" opacity="0.7" transform="rotate(17 575.2 290.4)"/><ellipse cx="572.9" cy="330.3" rx="1.43" ry="0.62" fill="#5a48b0" opacity="0.7" transform="rotate(-19 572.9 330.3)"/><ellipse cx="557.7" cy="285.3" rx="1.54" ry="0.60" fill="#5a48b0" opacity="0.7" transform="rotate(15 557.7 285.3)"/><ellipse cx="566.5" cy="280.7" rx="1.41" ry="0.43" fill="#5a48b0" opacity="0.7" transform="rotate(15 566.5 280.7)"/><ellipse cx="572.2" cy="277.6" rx="1.43" ry="0.52" fill="#5a48b0" opacity="0.7" transform="rotate(-8 572.2 277.6)"/><ellipse cx="564.6" cy="277.9" rx="0.72" ry="0.45" fill="#5a48b0" opacity="0.7" transform="rotate(-7 564.6 277.9)"/><ellipse cx="572.9" cy="329.7" rx="0.95" ry="0.56" fill="#5a48b0" opacity="0.7" transform="rotate(-4 572.9 329.7)"/><ellipse cx="586.8" cy="299.5" rx="1.55" ry="0.43" fill="#5a48b0" opacity="0.7" transform="rotate(19 586.8 299.5)"/><ellipse cx="491.2" cy="329.4" rx="0.94" ry="0.43" fill="#5a48b0" opacity="0.7" transform="rotate(-3 491.2 329.4)"/><ellipse cx="556.7" cy="284.0" rx="1.25" ry="0.53" fill="#5a48b0" opacity="0.7" transform="rotate(-5 556.7 284.0)"/><ellipse cx="538.6" cy="279.8" rx="1.34" ry="0.40" fill="#5a48b0" opacity="0.7" transform="rotate(17 538.6 279.8)"/><ellipse cx="534.1" cy="312.4" rx="1.37" ry="0.57" fill="#5a48b0" opacity="0.7" transform="rotate(-5 534.1 312.4)"/><ellipse cx="478.3" cy="308.5" rx="1.00" ry="0.48" fill="#5a48b0" opacity="0.7" transform="rotate(14 478.3 308.5)"/><ellipse cx="555.7" cy="283.0" rx="0.98" ry="0.50" fill="#5a48b0" opacity="0.7" transform="rotate(-4 555.7 283.0)"/><ellipse cx="505.2" cy="270.9" rx="1.08" ry="0.64" fill="#5a48b0" opacity="0.7" transform="rotate(7 505.2 270.9)"/><ellipse cx="577.4" cy="305.1" rx="0.97" ry="0.54" fill="#5a48b0" opacity="0.7" transform="rotate(-20 577.4 305.1)"/><ellipse cx="504.1" cy="292.1" rx="1.22" ry="0.56" fill="#5a48b0" opacity="0.7" transform="rotate(-1 504.1 292.1)"/><ellipse cx="522.6" cy="277.0" rx="1.13" ry="0.63" fill="#5a48b0" opacity="0.7" transform="rotate(12 522.6 277.0)"/><ellipse cx="490.2" cy="267.9" rx="1.16" ry="0.56" fill="#5a48b0" opacity="0.7" transform="rotate(-7 490.2 267.9)"/><ellipse cx="567.4" cy="314.6" rx="1.31" ry="0.46" fill="#5a48b0" opacity="0.7" transform="rotate(-12 567.4 314.6)"/><ellipse cx="472.9" cy="279.1" rx="1.13" ry="0.61" fill="#5a48b0" opacity="0.7" transform="rotate(-17 472.9 279.1)"/><ellipse cx="519.3" cy="306.1" rx="0.87" ry="0.57" fill="#5a48b0" opacity="0.7" transform="rotate(-0 519.3 306.1)"/><ellipse cx="499.0" cy="307.9" rx="0.70" ry="0.59" fill="#5a48b0" opacity="0.7" transform="rotate(11 499.0 307.9)"/><ellipse cx="482.7" cy="291.8" rx="0.86" ry="0.64" fill="#5a48b0" opacity="0.7" transform="rotate(1 482.7 291.8)"/><ellipse cx="476.0" cy="279.4" rx="1.46" ry="0.51" fill="#5a48b0" opacity="0.7" transform="rotate(12 476.0 279.4)"/><ellipse cx="549.4" cy="331.2" rx="1.24" ry="0.64" fill="#5a48b0" opacity="0.7" transform="rotate(16 549.4 331.2)"/><ellipse cx="542.9" cy="312.3" rx="1.15" ry="0.61" fill="#5a48b0" opacity="0.7" transform="rotate(2 542.9 312.3)"/><ellipse cx="576.8" cy="314.1" rx="1.13" ry="0.46" fill="#5a48b0" opacity="0.7" transform="rotate(-10 576.8 314.1)"/><ellipse cx="545.9" cy="315.6" rx="1.17" ry="0.56" fill="#5a48b0" opacity="0.7" transform="rotate(-9 545.9 315.6)"/><ellipse cx="479.2" cy="282.0" rx="0.94" ry="0.48" fill="#5a48b0" opacity="0.7" transform="rotate(2 479.2 282.0)"/><ellipse cx="486.5" cy="278.2" rx="1.32" ry="0.58" fill="#5a48b0" opacity="0.7" transform="rotate(-17 486.5 278.2)"/><ellipse cx="518.5" cy="300.0" rx="1.07" ry="0.45" fill="#5a48b0" opacity="0.7" transform="rotate(-3 518.5 300.0)"/><ellipse cx="577.7" cy="302.9" rx="1.33" ry="0.61" fill="#5a48b0" opacity="0.7" transform="rotate(11 577.7 302.9)"/><ellipse cx="515.3" cy="262.4" rx="1.02" ry="0.59" fill="#5a48b0" opacity="0.7" transform="rotate(14 515.3 262.4)"/><ellipse cx="583.5" cy="291.3" rx="1.37" ry="0.54" fill="#5a48b0" opacity="0.7" transform="rotate(4 583.5 291.3)"/><ellipse cx="496.2" cy="277.4" rx="1.09" ry="0.41" fill="#5a48b0" opacity="0.7" transform="rotate(-7 496.2 277.4)"/><ellipse cx="550.8" cy="290.3" rx="0.85" ry="0.52" fill="#5a48b0" opacity="0.7" transform="rotate(-15 550.8 290.3)"/><ellipse cx="544.0" cy="263.9" rx="1.05" ry="0.54" fill="#5a48b0" opacity="0.7" transform="rotate(-19 544.0 263.9)"/><ellipse cx="546.5" cy="271.5" rx="1.12" ry="0.41" fill="#5a48b0" opacity="0.7" transform="rotate(-5 546.5 271.5)"/><ellipse cx="495.2" cy="284.9" rx="1.39" ry="0.49" fill="#5a48b0" opacity="0.7" transform="rotate(10 495.2 284.9)"/><ellipse cx="569.0" cy="279.7" rx="0.77" ry="0.40" fill="#5a48b0" opacity="0.7" transform="rotate(2 569.0 279.7)"/><ellipse cx="589.0" cy="286.5" rx="1.29" ry="0.60" fill="#5a48b0" opacity="0.7" transform="rotate(6 589.0 286.5)"/><ellipse cx="559.8" cy="328.5" rx="0.88" ry="0.41" fill="#5a48b0" opacity="0.7" transform="rotate(-14 559.8 328.5)"/><ellipse cx="485.0" cy="308.9" rx="1.21" ry="0.45" fill="#5a48b0" opacity="0.7" transform="rotate(8 485.0 308.9)"/><ellipse cx="561.3" cy="273.7" rx="1.25" ry="0.59" fill="#5a48b0" opacity="0.7" transform="rotate(-15 561.3 273.7)"/><ellipse cx="567.5" cy="329.5" rx="0.80" ry="0.41" fill="#5a48b0" opacity="0.7" transform="rotate(-8 567.5 329.5)"/><ellipse cx="550.6" cy="329.1" rx="1.06" ry="0.58" fill="#5a48b0" opacity="0.7" transform="rotate(-17 550.6 329.1)"/><ellipse cx="552.2" cy="305.9" rx="0.79" ry="0.59" fill="#5a48b0" opacity="0.7" transform="rotate(14 552.2 305.9)"/><ellipse cx="541.4" cy="270.5" rx="1.59" ry="0.60" fill="#5a48b0" opacity="0.7" transform="rotate(-6 541.4 270.5)"/><ellipse cx="521.0" cy="287.9" rx="1.16" ry="0.49" fill="#5a48b0" opacity="0.7" transform="rotate(14 521.0 287.9)"/><ellipse cx="567.9" cy="269.4" rx="1.56" ry="0.56" fill="#5a48b0" opacity="0.7" transform="rotate(13 567.9 269.4)"/><ellipse cx="554.2" cy="292.5" rx="1.36" ry="0.64" fill="#5a48b0" opacity="0.7" transform="rotate(-9 554.2 292.5)"/><ellipse cx="566.2" cy="299.7" rx="1.14" ry="0.51" fill="#5a48b0" opacity="0.7" transform="rotate(9 566.2 299.7)"/><ellipse cx="501.9" cy="321.6" rx="1.45" ry="0.42" fill="#5a48b0" opacity="0.7" transform="rotate(15 501.9 321.6)"/><ellipse cx="499.0" cy="294.5" rx="1.25" ry="0.49" fill="#5a48b0" opacity="0.7" transform="rotate(-19 499.0 294.5)"/><ellipse cx="571.3" cy="274.7" rx="0.89" ry="0.60" fill="#5a48b0" opacity="0.7" transform="rotate(-6 571.3 274.7)"/><ellipse cx="574.8" cy="311.1" rx="0.95" ry="0.40" fill="#5a48b0" opacity="0.7" transform="rotate(18 574.8 311.1)"/><ellipse cx="480.2" cy="312.4" rx="1.14" ry="0.59" fill="#5a48b0" opacity="0.7" transform="rotate(8 480.2 312.4)"/><ellipse cx="546.9" cy="296.4" rx="1.41" ry="0.42" fill="#5a48b0" opacity="0.7" transform="rotate(-11 546.9 296.4)"/><ellipse cx="552.3" cy="283.4" rx="1.22" ry="0.52" fill="#5a48b0" opacity="0.7" transform="rotate(1 552.3 283.4)"/><ellipse cx="520.6" cy="314.2" rx="1.00" ry="0.58" fill="#5a48b0" opacity="0.7" transform="rotate(-9 520.6 314.2)"/><ellipse cx="499.9" cy="270.4" rx="0.87" ry="0.43" fill="#5a48b0" opacity="0.7" transform="rotate(1 499.9 270.4)"/><ellipse cx="560.7" cy="275.0" rx="0.89" ry="0.52" fill="#5a48b0" opacity="0.7" transform="rotate(9 560.7 275.0)"/><ellipse cx="586.2" cy="298.7" rx="0.95" ry="0.43" fill="#5a48b0" opacity="0.7" transform="rotate(-12 586.2 298.7)"/><ellipse cx="497.1" cy="274.6" rx="0.71" ry="0.53" fill="#5a48b0" opacity="0.7" transform="rotate(-9 497.1 274.6)"/><ellipse cx="585.9" cy="300.7" rx="1.33" ry="0.43" fill="#5a48b0" opacity="0.7" transform="rotate(15 585.9 300.7)"/><ellipse cx="528.4" cy="323.1" rx="1.22" ry="0.52" fill="#5a48b0" opacity="0.7" transform="rotate(-2 528.4 323.1)"/><ellipse cx="491.9" cy="265.6" rx="1.55" ry="0.52" fill="#5a48b0" opacity="0.7" transform="rotate(13 491.9 265.6)"/><ellipse cx="517.7" cy="267.2" rx="1.27" ry="0.41" fill="#5a48b0" opacity="0.7" transform="rotate(-14 517.7 267.2)"/><ellipse cx="537.0" cy="283.3" rx="1.59" ry="0.43" fill="#5a48b0" opacity="0.7" transform="rotate(11 537.0 283.3)"/><ellipse cx="542.2" cy="317.4" rx="0.90" ry="0.53" fill="#5a48b0" opacity="0.7" transform="rotate(-2 542.2 317.4)"/><ellipse cx="522.7" cy="322.2" rx="1.59" ry="0.48" fill="#5a48b0" opacity="0.7" transform="rotate(5 522.7 322.2)"/><ellipse cx="542.5" cy="313.8" rx="1.55" ry="0.45" fill="#5a48b0" opacity="0.7" transform="rotate(-12 542.5 313.8)"/><ellipse cx="548.6" cy="273.0" rx="0.86" ry="0.42" fill="#5a48b0" opacity="0.7" transform="rotate(-20 548.6 273.0)"/><ellipse cx="523.6" cy="303.6" rx="0.96" ry="0.46" fill="#5a48b0" opacity="0.7" transform="rotate(8 523.6 303.6)"/><ellipse cx="553.7" cy="293.8" rx="1.32" ry="0.63" fill="#5a48b0" opacity="0.7" transform="rotate(12 553.7 293.8)"/><ellipse cx="544.4" cy="308.3" rx="1.54" ry="0.51" fill="#5a48b0" opacity="0.7" transform="rotate(2 544.4 308.3)"/></g>
<g><path d="M539.3,309.6 q3.9,-0.0 7.9,-0.0" fill="none" stroke="#b49ad6" stroke-width="0.6" opacity="0.6"/><path d="M511.1,320.4 q3.0,-1.0 6.1,-0.3" fill="none" stroke="#b49ad6" stroke-width="0.6" opacity="0.6"/><path d="M490.4,301.0 q5.5,0.1 10.9,0.0" fill="none" stroke="#b49ad6" stroke-width="0.6" opacity="0.6"/><path d="M474.6,279.5 q2.4,-0.4 4.8,-0.1" fill="none" stroke="#b49ad6" stroke-width="0.6" opacity="0.6"/><path d="M509.2,325.4 q3.9,0.8 7.9,0.2" fill="none" stroke="#b49ad6" stroke-width="0.6" opacity="0.6"/><path d="M565.8,270.4 q2.5,1.1 5.1,0.3" fill="none" stroke="#b49ad6" stroke-width="0.6" opacity="0.6"/><path d="M470.6,292.9 q5.2,-0.6 10.4,-0.2" fill="none" stroke="#b49ad6" stroke-width="0.6" opacity="0.6"/><path d="M560.4,323.8 q5.4,-0.5 10.7,-0.1" fill="none" stroke="#b49ad6" stroke-width="0.6" opacity="0.6"/><path d="M501.9,286.4 q2.1,-1.1 4.2,-0.3" fill="none" stroke="#b49ad6" stroke-width="0.6" opacity="0.6"/><path d="M498.1,275.0 q4.9,-0.4 9.9,-0.1" fill="none" stroke="#b49ad6" stroke-width="0.6" opacity="0.6"/><path d="M476.6,283.2 q2.5,-1.1 5.0,-0.3" fill="none" stroke="#b49ad6" stroke-width="0.6" opacity="0.6"/><path d="M541.4,278.9 q3.1,-0.7 6.1,-0.2" fill="none" stroke="#b49ad6" stroke-width="0.6" opacity="0.6"/><path d="M542.3,317.5 q5.8,1.0 11.5,0.3" fill="none" stroke="#b49ad6" stroke-width="0.6" opacity="0.6"/><path d="M498.0,305.4 q3.1,-0.9 6.3,-0.3" fill="none" stroke="#b49ad6" stroke-width="0.6" opacity="0.6"/><path d="M528.2,327.3 q3.4,0.0 6.8,0.0" fill="none" stroke="#b49ad6" stroke-width="0.6" opacity="0.6"/><path d="M561.4,267.8 q2.0,0.9 4.0,0.3" fill="none" stroke="#b49ad6" stroke-width="0.6" opacity="0.6"/><path d="M574.4,305.9 q5.2,0.9 10.4,0.3" fill="none" stroke="#b49ad6" stroke-width="0.6" opacity="0.6"/><path d="M555.7,329.4 q5.3,1.2 10.6,0.3" fill="none" stroke="#b49ad6" stroke-width="0.6" opacity="0.6"/><path d="M568.6,264.7 q3.9,-1.0 7.8,-0.3" fill="none" stroke="#b49ad6" stroke-width="0.6" opacity="0.6"/><path d="M556.4,265.0 q4.9,0.6 9.9,0.2" fill="none" stroke="#b49ad6" stroke-width="0.6" opacity="0.6"/><path d="M475.3,267.1 q4.1,1.1 8.1,0.3" fill="none" stroke="#b49ad6" stroke-width="0.6" opacity="0.6"/><path d="M586.3,315.8 q5.2,-0.4 10.4,-0.1" fill="none" stroke="#b49ad6" stroke-width="0.6" opacity="0.6"/><path d="M562.7,301.6 q3.8,0.4 7.6,0.1" fill="none" stroke="#b49ad6" stroke-width="0.6" opacity="0.6"/><path d="M472.6,284.8 q3.9,-0.7 7.8,-0.2" fill="none" stroke="#b49ad6" stroke-width="0.6" opacity="0.6"/><path d="M554.5,330.5 q3.0,-0.5 6.0,-0.2" fill="none" stroke="#b49ad6" stroke-width="0.6" opacity="0.6"/><path d="M551.0,303.1 q3.6,-0.0 7.1,-0.0" fill="none" stroke="#b49ad6" stroke-width="0.6" opacity="0.6"/><path d="M504.0,312.3 q2.1,0.7 4.1,0.2" fill="none" stroke="#b49ad6" stroke-width="0.6" opacity="0.6"/><path d="M498.2,291.1 q3.8,0.2 7.5,0.1" fill="none" stroke="#b49ad6" stroke-width="0.6" opacity="0.6"/><path d="M508.7,275.0 q5.6,-1.2 11.1,-0.4" fill="none" stroke="#b49ad6" stroke-width="0.6" opacity="0.6"/><path d="M587.0,281.2 q3.5,0.2 7.0,0.0" fill="none" stroke="#b49ad6" stroke-width="0.6" opacity="0.6"/><path d="M505.8,313.6 q2.9,0.5 5.8,0.2" fill="none" stroke="#b49ad6" stroke-width="0.6" opacity="0.6"/><path d="M497.6,293.9 q4.2,-0.8 8.4,-0.2" fill="none" stroke="#b49ad6" stroke-width="0.6" opacity="0.6"/><path d="M583.6,325.8 q4.1,1.1 8.2,0.3" fill="none" stroke="#b49ad6" stroke-width="0.6" opacity="0.6"/><path d="M489.6,267.2 q5.1,-0.3 10.2,-0.1" fill="none" stroke="#b49ad6" stroke-width="0.6" opacity="0.6"/><path d="M521.0,272.1 q4.4,-0.3 8.8,-0.1" fill="none" stroke="#b49ad6" stroke-width="0.6" opacity="0.6"/><path d="M542.8,283.9 q6.0,1.0 12.0,0.3" fill="none" stroke="#b49ad6" stroke-width="0.6" opacity="0.6"/><path d="M552.0,266.1 q3.4,0.2 6.9,0.1" fill="none" stroke="#b49ad6" stroke-width="0.6" opacity="0.6"/><path d="M503.1,292.3 q3.8,-0.6 7.7,-0.2" fill="none" stroke="#b49ad6" stroke-width="0.6" opacity="0.6"/><path d="M508.9,317.9 q2.2,0.1 4.4,0.0" fill="none" stroke="#b49ad6" stroke-width="0.6" opacity="0.6"/><path d="M491.8,328.1 q3.2,-0.2 6.3,-0.1" fill="none" stroke="#b49ad6" stroke-width="0.6" opacity="0.6"/><path d="M525.9,288.9 q5.6,-0.0 11.2,-0.0" fill="none" stroke="#b49ad6" stroke-width="0.6" opacity="0.6"/><path d="M501.1,293.3 q2.7,1.1 5.3,0.3" fill="none" stroke="#b49ad6" stroke-width="0.6" opacity="0.6"/><path d="M535.7,280.5 q5.1,0.3 10.2,0.1" fill="none" stroke="#b49ad6" stroke-width="0.6" opacity="0.6"/><path d="M572.4,316.2 q4.2,-0.6 8.3,-0.2" fill="none" stroke="#b49ad6" stroke-width="0.6" opacity="0.6"/><path d="M539.7,323.5 q5.7,-0.2 11.4,-0.1" fill="none" stroke="#b49ad6" stroke-width="0.6" opacity="0.6"/><path d="M480.5,311.3 q2.6,0.6 5.2,0.2" fill="none" stroke="#b49ad6" stroke-width="0.6" opacity="0.6"/><path d="M562.6,311.8 q3.8,-0.2 7.6,-0.0" fill="none" stroke="#b49ad6" stroke-width="0.6" opacity="0.6"/><path d="M516.5,303.0 q5.2,0.6 10.4,0.2" fill="none" stroke="#b49ad6" stroke-width="0.6" opacity="0.6"/><path d="M559.2,300.8 q3.5,0.8 6.9,0.2" fill="none" stroke="#b49ad6" stroke-width="0.6" opacity="0.6"/><path d="M527.1,286.7 q2.2,-0.8 4.4,-0.2" fill="none" stroke="#b49ad6" stroke-width="0.6" opacity="0.6"/><path d="M499.0,322.8 q3.8,0.7 7.5,0.2" fill="none" stroke="#b49ad6" stroke-width="0.6" opacity="0.6"/><path d="M494.5,324.5 q3.0,-0.7 6.0,-0.2" fill="none" stroke="#b49ad6" stroke-width="0.6" opacity="0.6"/><path d="M473.8,287.7 q4.0,-0.9 7.9,-0.3" fill="none" stroke="#b49ad6" stroke-width="0.6" opacity="0.6"/><path d="M475.0,279.0 q2.6,-0.4 5.2,-0.1" fill="none" stroke="#b49ad6" stroke-width="0.6" opacity="0.6"/><path d="M476.9,298.5 q4.6,-1.0 9.2,-0.3" fill="none" stroke="#b49ad6" stroke-width="0.6" opacity="0.6"/><path d="M481.2,299.9 q4.8,-0.1 9.7,-0.0" fill="none" stroke="#b49ad6" stroke-width="0.6" opacity="0.6"/><path d="M524.3,265.7 q4.5,-0.6 9.1,-0.2" fill="none" stroke="#b49ad6" stroke-width="0.6" opacity="0.6"/><path d="M518.4,269.6 q5.0,-1.1 10.0,-0.3" fill="none" stroke="#b49ad6" stroke-width="0.6" opacity="0.6"/><path d="M473.5,301.0 q2.9,-0.2 5.8,-0.1" fill="none" stroke="#b49ad6" stroke-width="0.6" opacity="0.6"/><path d="M489.2,289.7 q2.1,-0.8 4.1,-0.2" fill="none" stroke="#b49ad6" stroke-width="0.6" opacity="0.6"/></g>
<g><ellipse cx="593.6" cy="278.7" rx="0.83" ry="0.52" fill="#5a48b0" opacity="0.7" transform="rotate(7 593.6 278.7)"/><ellipse cx="663.7" cy="272.9" rx="1.15" ry="0.40" fill="#5a48b0" opacity="0.7" transform="rotate(-3 663.7 272.9)"/><ellipse cx="624.6" cy="282.5" rx="1.19" ry="0.59" fill="#5a48b0" opacity="0.7" transform="rotate(-3 624.6 282.5)"/><ellipse cx="606.4" cy="282.4" rx="1.44" ry="0.49" fill="#5a48b0" opacity="0.7" transform="rotate(-16 606.4 282.4)"/><ellipse cx="637.7" cy="273.9" rx="1.40" ry="0.55" fill="#5a48b0" opacity="0.7" transform="rotate(0 637.7 273.9)"/><ellipse cx="643.5" cy="271.0" rx="0.74" ry="0.42" fill="#5a48b0" opacity="0.7" transform="rotate(18 643.5 271.0)"/><ellipse cx="668.0" cy="269.1" rx="1.50" ry="0.53" fill="#5a48b0" opacity="0.7" transform="rotate(-16 668.0 269.1)"/><ellipse cx="669.6" cy="276.0" rx="1.54" ry="0.57" fill="#5a48b0" opacity="0.7" transform="rotate(-16 669.6 276.0)"/><ellipse cx="647.9" cy="280.9" rx="1.51" ry="0.48" fill="#5a48b0" opacity="0.7" transform="rotate(1 647.9 280.9)"/><ellipse cx="655.2" cy="266.0" rx="1.46" ry="0.60" fill="#5a48b0" opacity="0.7" transform="rotate(-18 655.2 266.0)"/><ellipse cx="645.0" cy="270.8" rx="0.87" ry="0.55" fill="#5a48b0" opacity="0.7" transform="rotate(19 645.0 270.8)"/><ellipse cx="641.3" cy="264.7" rx="1.15" ry="0.59" fill="#5a48b0" opacity="0.7" transform="rotate(18 641.3 264.7)"/><ellipse cx="656.5" cy="263.0" rx="1.57" ry="0.55" fill="#5a48b0" opacity="0.7" transform="rotate(-17 656.5 263.0)"/><ellipse cx="601.8" cy="264.1" rx="1.30" ry="0.44" fill="#5a48b0" opacity="0.7" transform="rotate(12 601.8 264.1)"/><ellipse cx="600.1" cy="274.8" rx="1.10" ry="0.41" fill="#5a48b0" opacity="0.7" transform="rotate(-20 600.1 274.8)"/><ellipse cx="674.0" cy="285.4" rx="0.81" ry="0.58" fill="#5a48b0" opacity="0.7" transform="rotate(20 674.0 285.4)"/><ellipse cx="674.1" cy="283.2" rx="1.00" ry="0.58" fill="#5a48b0" opacity="0.7" transform="rotate(-0 674.1 283.2)"/><ellipse cx="677.2" cy="278.9" rx="1.46" ry="0.61" fill="#5a48b0" opacity="0.7" transform="rotate(-5 677.2 278.9)"/><ellipse cx="656.2" cy="264.2" rx="0.89" ry="0.63" fill="#5a48b0" opacity="0.7" transform="rotate(-4 656.2 264.2)"/><ellipse cx="653.7" cy="275.8" rx="0.93" ry="0.55" fill="#5a48b0" opacity="0.7" transform="rotate(16 653.7 275.8)"/><ellipse cx="620.4" cy="270.3" rx="0.87" ry="0.44" fill="#5a48b0" opacity="0.7" transform="rotate(13 620.4 270.3)"/><ellipse cx="655.7" cy="285.2" rx="1.30" ry="0.64" fill="#5a48b0" opacity="0.7" transform="rotate(-11 655.7 285.2)"/><ellipse cx="607.5" cy="267.2" rx="1.05" ry="0.65" fill="#5a48b0" opacity="0.7" transform="rotate(-11 607.5 267.2)"/><ellipse cx="632.6" cy="263.5" rx="0.72" ry="0.54" fill="#5a48b0" opacity="0.7" transform="rotate(5 632.6 263.5)"/><ellipse cx="637.5" cy="284.0" rx="1.47" ry="0.64" fill="#5a48b0" opacity="0.7" transform="rotate(3 637.5 284.0)"/><ellipse cx="614.5" cy="265.1" rx="1.39" ry="0.44" fill="#5a48b0" opacity="0.7" transform="rotate(-20 614.5 265.1)"/><ellipse cx="655.0" cy="265.0" rx="1.26" ry="0.45" fill="#5a48b0" opacity="0.7" transform="rotate(-3 655.0 265.0)"/><ellipse cx="591.4" cy="271.0" rx="1.00" ry="0.47" fill="#5a48b0" opacity="0.7" transform="rotate(-15 591.4 271.0)"/><ellipse cx="643.5" cy="278.6" rx="0.88" ry="0.41" fill="#5a48b0" opacity="0.7" transform="rotate(-9 643.5 278.6)"/><ellipse cx="655.0" cy="268.6" rx="1.28" ry="0.42" fill="#5a48b0" opacity="0.7" transform="rotate(8 655.0 268.6)"/></g>
<g><path d="M674.3,282.4 q2.2,-0.7 4.4,-0.2" fill="none" stroke="#b49ad6" stroke-width="0.6" opacity="0.6"/><path d="M612.7,279.6 q4.0,0.2 8.0,0.1" fill="none" stroke="#b49ad6" stroke-width="0.6" opacity="0.6"/><path d="M660.9,276.1 q5.4,-1.0 10.7,-0.3" fill="none" stroke="#b49ad6" stroke-width="0.6" opacity="0.6"/><path d="M646.5,285.0 q4.5,-0.9 9.1,-0.3" fill="none" stroke="#b49ad6" stroke-width="0.6" opacity="0.6"/><path d="M670.4,285.3 q3.2,-0.1 6.3,-0.0" fill="none" stroke="#b49ad6" stroke-width="0.6" opacity="0.6"/><path d="M629.7,264.2 q4.4,-0.4 8.9,-0.1" fill="none" stroke="#b49ad6" stroke-width="0.6" opacity="0.6"/><path d="M608.2,277.3 q5.4,0.2 10.8,0.1" fill="none" stroke="#b49ad6" stroke-width="0.6" opacity="0.6"/><path d="M662.0,278.5 q4.0,1.1 8.1,0.3" fill="none" stroke="#b49ad6" stroke-width="0.6" opacity="0.6"/><path d="M662.2,275.8 q3.4,-0.6 6.8,-0.2" fill="none" stroke="#b49ad6" stroke-width="0.6" opacity="0.6"/><path d="M676.6,279.2 q3.4,-0.9 6.8,-0.3" fill="none" stroke="#b49ad6" stroke-width="0.6" opacity="0.6"/><path d="M636.9,263.8 q2.4,-0.1 4.8,-0.0" fill="none" stroke="#b49ad6" stroke-width="0.6" opacity="0.6"/><path d="M591.9,281.9 q2.6,1.1 5.3,0.3" fill="none" stroke="#b49ad6" stroke-width="0.6" opacity="0.6"/><path d="M643.2,262.5 q4.7,-1.1 9.4,-0.3" fill="none" stroke="#b49ad6" stroke-width="0.6" opacity="0.6"/><path d="M592.3,273.8 q4.1,0.1 8.1,0.0" fill="none" stroke="#b49ad6" stroke-width="0.6" opacity="0.6"/><path d="M662.8,267.1 q3.8,0.7 7.5,0.2" fill="none" stroke="#b49ad6" stroke-width="0.6" opacity="0.6"/></g>
<g clip-path="url(#cli2)">
<rect x="589.50" y="286.50" width="95.00" height="61.00" fill="#dedcec" />
<path d="M589.5,300.5 L684,300 L684,318.5 L589.5,318 Z" fill="url(#gepi2)" stroke="none" stroke-width="1" />
<path d="M589.5,318 L684,318.5 L684,347.5 L589.5,347.5 Z" fill="#e8e0f2" stroke="none" stroke-width="1" />
<rect x="589.50" y="318.00" width="95.00" height="30.00" fill="url(#streak)" opacity="0.7"/>
<path d="M589.5,292 Q600,290 612,293 T640,292 T684,291" fill="none" stroke="#d060c0" stroke-width="1.3" />
<path d="M589.5,296 Q600,299 610,297 Q625,293 640,298 T670,296 L684,295" fill="none" stroke="#d060c0" stroke-width="1.1" />
<path d="M589.5,299 Q605,297 620,300 T660,298 T684,297" fill="none" stroke="#c850b8" stroke-width="1.2" />
<path d="M589.5,300.8 Q620,300 650,301.5 T684,300.6" fill="none" stroke="#b848b0" stroke-width="1.6" />
</g>
<g><ellipse cx="675.1" cy="312.8" rx="1.00" ry="0.49" fill="#eee4f4" opacity="0.8"/><ellipse cx="679.2" cy="314.3" rx="0.90" ry="0.53" fill="#eee4f4" opacity="0.8"/><ellipse cx="626.2" cy="317.5" rx="1.29" ry="0.59" fill="#eee4f4" opacity="0.8"/><ellipse cx="596.2" cy="317.9" rx="0.99" ry="0.54" fill="#eee4f4" opacity="0.8"/><ellipse cx="640.9" cy="315.1" rx="1.34" ry="0.41" fill="#eee4f4" opacity="0.8"/><ellipse cx="604.1" cy="318.0" rx="0.74" ry="0.41" fill="#eee4f4" opacity="0.8"/><ellipse cx="631.3" cy="317.4" rx="0.84" ry="0.31" fill="#eee4f4" opacity="0.8"/><ellipse cx="615.5" cy="313.4" rx="0.52" ry="0.66" fill="#eee4f4" opacity="0.8"/><ellipse cx="658.5" cy="312.8" rx="0.72" ry="0.69" fill="#eee4f4" opacity="0.8"/><ellipse cx="655.4" cy="314.7" rx="1.02" ry="0.69" fill="#eee4f4" opacity="0.8"/><ellipse cx="613.0" cy="315.8" rx="0.51" ry="0.49" fill="#eee4f4" opacity="0.8"/><ellipse cx="612.6" cy="314.0" rx="0.85" ry="0.47" fill="#eee4f4" opacity="0.8"/><ellipse cx="673.3" cy="314.2" rx="0.52" ry="0.63" fill="#eee4f4" opacity="0.8"/><ellipse cx="675.9" cy="317.1" rx="0.77" ry="0.44" fill="#eee4f4" opacity="0.8"/><ellipse cx="661.5" cy="312.5" rx="0.55" ry="0.50" fill="#eee4f4" opacity="0.8"/><ellipse cx="612.2" cy="314.8" rx="0.64" ry="0.68" fill="#eee4f4" opacity="0.8"/><ellipse cx="636.7" cy="314.1" rx="0.77" ry="0.41" fill="#eee4f4" opacity="0.8"/><ellipse cx="663.0" cy="316.8" rx="1.21" ry="0.67" fill="#eee4f4" opacity="0.8"/><ellipse cx="646.6" cy="314.3" rx="0.88" ry="0.35" fill="#eee4f4" opacity="0.8"/><ellipse cx="624.7" cy="314.9" rx="1.28" ry="0.53" fill="#eee4f4" opacity="0.8"/><ellipse cx="600.0" cy="315.2" rx="0.81" ry="0.62" fill="#eee4f4" opacity="0.8"/><ellipse cx="668.1" cy="315.6" rx="1.09" ry="0.47" fill="#eee4f4" opacity="0.8"/><ellipse cx="616.7" cy="316.8" rx="1.20" ry="0.52" fill="#eee4f4" opacity="0.8"/><ellipse cx="676.6" cy="316.9" rx="1.13" ry="0.34" fill="#eee4f4" opacity="0.8"/><ellipse cx="679.4" cy="312.6" rx="0.68" ry="0.35" fill="#eee4f4" opacity="0.8"/><ellipse cx="607.4" cy="316.2" rx="1.00" ry="0.35" fill="#eee4f4" opacity="0.8"/><ellipse cx="609.5" cy="316.5" rx="0.79" ry="0.39" fill="#eee4f4" opacity="0.8"/><ellipse cx="665.0" cy="313.6" rx="0.58" ry="0.51" fill="#eee4f4" opacity="0.8"/><ellipse cx="658.7" cy="312.0" rx="1.07" ry="0.37" fill="#eee4f4" opacity="0.8"/><ellipse cx="671.0" cy="314.8" rx="0.81" ry="0.43" fill="#eee4f4" opacity="0.8"/></g>
<g><ellipse cx="613.4" cy="310.0" rx="0.85" ry="0.61" fill="#5a3aa0" opacity="0.6" transform="rotate(-11 613.4 310.0)"/><ellipse cx="641.8" cy="316.8" rx="1.06" ry="0.64" fill="#5a3aa0" opacity="0.6" transform="rotate(9 641.8 316.8)"/><ellipse cx="641.4" cy="312.1" rx="1.23" ry="0.49" fill="#5a3aa0" opacity="0.6" transform="rotate(20 641.4 312.1)"/><ellipse cx="628.2" cy="317.7" rx="1.47" ry="0.41" fill="#5a3aa0" opacity="0.6" transform="rotate(-10 628.2 317.7)"/><ellipse cx="635.0" cy="315.0" rx="0.86" ry="0.55" fill="#5a3aa0" opacity="0.6" transform="rotate(-5 635.0 315.0)"/><ellipse cx="663.3" cy="316.8" rx="1.39" ry="0.45" fill="#5a3aa0" opacity="0.6" transform="rotate(10 663.3 316.8)"/><ellipse cx="631.3" cy="315.4" rx="1.12" ry="0.63" fill="#5a3aa0" opacity="0.6" transform="rotate(19 631.3 315.4)"/><ellipse cx="666.8" cy="315.2" rx="1.44" ry="0.55" fill="#5a3aa0" opacity="0.6" transform="rotate(-13 666.8 315.2)"/><ellipse cx="681.7" cy="309.4" rx="0.71" ry="0.51" fill="#5a3aa0" opacity="0.6" transform="rotate(-3 681.7 309.4)"/><ellipse cx="609.5" cy="317.4" rx="0.80" ry="0.63" fill="#5a3aa0" opacity="0.6" transform="rotate(2 609.5 317.4)"/><ellipse cx="607.4" cy="307.7" rx="1.11" ry="0.43" fill="#5a3aa0" opacity="0.6" transform="rotate(11 607.4 307.7)"/><ellipse cx="650.9" cy="317.7" rx="1.45" ry="0.60" fill="#5a3aa0" opacity="0.6" transform="rotate(20 650.9 317.7)"/><ellipse cx="676.7" cy="312.3" rx="1.19" ry="0.53" fill="#5a3aa0" opacity="0.6" transform="rotate(13 676.7 312.3)"/><ellipse cx="676.1" cy="315.3" rx="1.46" ry="0.41" fill="#5a3aa0" opacity="0.6" transform="rotate(-3 676.1 315.3)"/><ellipse cx="599.0" cy="311.4" rx="1.22" ry="0.54" fill="#5a3aa0" opacity="0.6" transform="rotate(14 599.0 311.4)"/><ellipse cx="611.7" cy="313.7" rx="1.23" ry="0.45" fill="#5a3aa0" opacity="0.6" transform="rotate(19 611.7 313.7)"/><ellipse cx="595.9" cy="309.4" rx="1.18" ry="0.55" fill="#5a3aa0" opacity="0.6" transform="rotate(19 595.9 309.4)"/><ellipse cx="641.7" cy="316.2" rx="0.97" ry="0.52" fill="#5a3aa0" opacity="0.6" transform="rotate(-14 641.7 316.2)"/><ellipse cx="649.9" cy="308.8" rx="1.41" ry="0.43" fill="#5a3aa0" opacity="0.6" transform="rotate(-1 649.9 308.8)"/><ellipse cx="679.2" cy="302.2" rx="1.29" ry="0.57" fill="#5a3aa0" opacity="0.6" transform="rotate(9 679.2 302.2)"/><ellipse cx="642.3" cy="310.0" rx="1.56" ry="0.47" fill="#5a3aa0" opacity="0.6" transform="rotate(8 642.3 310.0)"/><ellipse cx="652.5" cy="313.7" rx="1.13" ry="0.40" fill="#5a3aa0" opacity="0.6" transform="rotate(11 652.5 313.7)"/><ellipse cx="616.7" cy="314.5" rx="1.59" ry="0.59" fill="#5a3aa0" opacity="0.6" transform="rotate(-4 616.7 314.5)"/><ellipse cx="669.9" cy="308.2" rx="0.99" ry="0.54" fill="#5a3aa0" opacity="0.6" transform="rotate(6 669.9 308.2)"/><ellipse cx="654.1" cy="310.8" rx="1.07" ry="0.59" fill="#5a3aa0" opacity="0.6" transform="rotate(-7 654.1 310.8)"/><ellipse cx="646.8" cy="302.1" rx="0.82" ry="0.62" fill="#5a3aa0" opacity="0.6" transform="rotate(-11 646.8 302.1)"/><ellipse cx="629.0" cy="302.9" rx="1.39" ry="0.48" fill="#5a3aa0" opacity="0.6" transform="rotate(-18 629.0 302.9)"/><ellipse cx="616.2" cy="316.9" rx="1.38" ry="0.40" fill="#5a3aa0" opacity="0.6" transform="rotate(18 616.2 316.9)"/><ellipse cx="597.7" cy="309.7" rx="1.18" ry="0.60" fill="#5a3aa0" opacity="0.6" transform="rotate(-14 597.7 309.7)"/><ellipse cx="666.9" cy="306.4" rx="1.36" ry="0.63" fill="#5a3aa0" opacity="0.6" transform="rotate(4 666.9 306.4)"/><ellipse cx="591.2" cy="312.7" rx="1.09" ry="0.58" fill="#5a3aa0" opacity="0.6" transform="rotate(11 591.2 312.7)"/><ellipse cx="600.9" cy="311.1" rx="1.28" ry="0.63" fill="#5a3aa0" opacity="0.6" transform="rotate(5 600.9 311.1)"/><ellipse cx="647.6" cy="314.3" rx="0.84" ry="0.61" fill="#5a3aa0" opacity="0.6" transform="rotate(3 647.6 314.3)"/><ellipse cx="649.5" cy="304.5" rx="1.17" ry="0.50" fill="#5a3aa0" opacity="0.6" transform="rotate(-12 649.5 304.5)"/><ellipse cx="677.6" cy="315.5" rx="1.11" ry="0.42" fill="#5a3aa0" opacity="0.6" transform="rotate(19 677.6 315.5)"/><ellipse cx="601.8" cy="310.1" rx="1.21" ry="0.61" fill="#5a3aa0" opacity="0.6" transform="rotate(6 601.8 310.1)"/><ellipse cx="646.5" cy="310.2" rx="1.58" ry="0.60" fill="#5a3aa0" opacity="0.6" transform="rotate(-6 646.5 310.2)"/><ellipse cx="664.1" cy="317.2" rx="1.14" ry="0.42" fill="#5a3aa0" opacity="0.6" transform="rotate(-17 664.1 317.2)"/><ellipse cx="680.0" cy="305.3" rx="1.42" ry="0.45" fill="#5a3aa0" opacity="0.6" transform="rotate(-11 680.0 305.3)"/><ellipse cx="605.8" cy="315.0" rx="0.78" ry="0.52" fill="#5a3aa0" opacity="0.6" transform="rotate(12 605.8 315.0)"/></g>
<g><ellipse cx="681.0" cy="321.4" rx="1.35" ry="0.52" fill="#6048b0" opacity="0.75" transform="rotate(18 681.0 321.4)"/><ellipse cx="628.4" cy="343.9" rx="0.84" ry="0.65" fill="#6048b0" opacity="0.75" transform="rotate(-3 628.4 343.9)"/><ellipse cx="607.8" cy="329.0" rx="1.27" ry="0.41" fill="#6048b0" opacity="0.75" transform="rotate(-5 607.8 329.0)"/><ellipse cx="592.0" cy="321.8" rx="0.85" ry="0.46" fill="#6048b0" opacity="0.75" transform="rotate(-9 592.0 321.8)"/><ellipse cx="662.6" cy="330.8" rx="1.47" ry="0.62" fill="#6048b0" opacity="0.75" transform="rotate(16 662.6 330.8)"/><ellipse cx="678.2" cy="335.0" rx="1.30" ry="0.62" fill="#6048b0" opacity="0.75" transform="rotate(2 678.2 335.0)"/><ellipse cx="604.1" cy="333.5" rx="1.18" ry="0.44" fill="#6048b0" opacity="0.75" transform="rotate(-16 604.1 333.5)"/><ellipse cx="608.0" cy="338.1" rx="1.43" ry="0.56" fill="#6048b0" opacity="0.75" transform="rotate(-3 608.0 338.1)"/><ellipse cx="593.6" cy="320.1" rx="1.29" ry="0.53" fill="#6048b0" opacity="0.75" transform="rotate(-2 593.6 320.1)"/><ellipse cx="606.8" cy="323.2" rx="0.86" ry="0.43" fill="#6048b0" opacity="0.75" transform="rotate(4 606.8 323.2)"/><ellipse cx="619.3" cy="334.4" rx="1.09" ry="0.54" fill="#6048b0" opacity="0.75" transform="rotate(10 619.3 334.4)"/><ellipse cx="662.8" cy="323.9" rx="1.56" ry="0.61" fill="#6048b0" opacity="0.75" transform="rotate(13 662.8 323.9)"/></g>
<rect x="589.00" y="286.00" width="95.50" height="0.90" fill="#fff" />
<rect x="589.00" y="286.00" width="0.90" height="61.00" fill="#fff" />
<rect x="472.00" y="342.30" width="25.00" height="1.80" fill="#111" />
<rect x="594.00" y="343.50" width="21.60" height="1.80" fill="#111" />
<g clip-path="url(#cl3)">
<rect x="469.00" y="405.00" width="215.00" height="121.00" fill="#d7d7e0" />
<path d="M469,416.3 Q480,416 490,418 T501,420.4 Q510,419 517.6,418 Q535,416 550,415 T579,414.7 Q590,417 596,426 Q603,423 620,420.4 T660,420 T684,419.5 L684,526 L469,526 Z" fill="#d6cae9" stroke="none" stroke-width="1" />
<path d="M469,423 Q520,425 596,428 Q640,428 684,427 L684,445 Q600,442 520,440 T469,440 Z" fill="url(#gepi3)" stroke="none" stroke-width="1" />
<path d="M469,416.3 Q480,416 490,418 T501,420.4 Q510,419 517.6,418 Q535,416 550,415 T579,414.7 Q590,417 596,426 Q603,423 620,420.4 T660,420 T684,419.5 L684,423.5 Q670,425.5 640,426.3 Q615,427.6 598,427.4 Q590,426.5 580,425.8 Q540,425.4 517.6,425 Q505,425.5 490,423.6 T469,422.8 Z" fill="url(#gmag)" stroke="none" stroke-width="1" />
<path d="M469,418.5 Q490,419.5 501,422 Q512,420.5 530,419 T570,417.5 Q585,418 592,421" fill="none" stroke="#f4b8e0" stroke-width="0.8" opacity="0.85"/>
<path d="M469,421.5 Q490,422.5 505,424 Q520,423 545,423 T585,423.5" fill="none" stroke="#f0a8d8" stroke-width="0.6" opacity="0.7"/>
<path d="M600,426.0 Q630,425.6 660,426.2 T684,425.6" fill="none" stroke="#f6d8ee" stroke-width="1.0" opacity="0.9"/>
<path d="M602,424.3 Q630,423.4 660,424.4 T684,423.8" fill="none" stroke="#f4c8e6" stroke-width="0.7" opacity="0.8"/>
<path d="M540,417.5 Q560,416.6 580,417.2" fill="none" stroke="#f4c0e4" stroke-width="0.7" opacity="0.8"/>
<path d="M604,422.6 Q630,421.6 660,422.4 T684,421.8" fill="none" stroke="#f0b0dc" stroke-width="0.6" opacity="0.8"/>
<path d="M580,414.2 Q600,413 620,417 T660,417.5 T684,416.5" fill="none" stroke="#e8b8e0" stroke-width="0.5" opacity="0.8"/>
<rect x="469.00" y="445.00" width="215.00" height="68.00" fill="url(#streak)" />
<rect x="469.00" y="443.00" width="215.00" height="26.00" fill="url(#gpale)" />
<path d="M469,513.6 Q530,514.3 590,519.3 L590,523.6 Q530,519 469,517.8 Z" fill="#a9a6a4" stroke="none" stroke-width="1" />
<path d="M469,514.5 Q530,515.2 590,520.2 L590,522.7 Q530,518.1 469,516.9 Z" fill="url(#memb)" stroke="none" stroke-width="1" />
<path d="M469,517.8 Q530,519 590,523.6 L590,526 L469,526 Z" fill="#d6d5e2" stroke="none" stroke-width="1" />
</g>
<g><ellipse cx="571.4" cy="440.3" rx="0.86" ry="0.67" fill="#e8dcf0" opacity="0.5"/><ellipse cx="473.6" cy="443.9" rx="1.13" ry="0.62" fill="#e8dcf0" opacity="0.5"/><ellipse cx="641.1" cy="436.0" rx="1.24" ry="0.56" fill="#e8dcf0" opacity="0.5"/><ellipse cx="501.4" cy="442.6" rx="0.90" ry="0.59" fill="#e8dcf0" opacity="0.5"/><ellipse cx="487.8" cy="440.8" rx="0.50" ry="0.33" fill="#e8dcf0" opacity="0.5"/><ellipse cx="492.5" cy="434.5" rx="1.03" ry="0.39" fill="#e8dcf0" opacity="0.5"/><ellipse cx="511.9" cy="442.1" rx="1.19" ry="0.46" fill="#e8dcf0" opacity="0.5"/><ellipse cx="515.5" cy="441.4" rx="0.99" ry="0.44" fill="#e8dcf0" opacity="0.5"/><ellipse cx="535.4" cy="437.6" rx="0.94" ry="0.37" fill="#e8dcf0" opacity="0.5"/><ellipse cx="470.3" cy="438.7" rx="0.69" ry="0.32" fill="#e8dcf0" opacity="0.5"/><ellipse cx="529.8" cy="440.7" rx="1.25" ry="0.31" fill="#e8dcf0" opacity="0.5"/><ellipse cx="641.8" cy="437.0" rx="1.27" ry="0.65" fill="#e8dcf0" opacity="0.5"/><ellipse cx="533.6" cy="440.4" rx="1.01" ry="0.39" fill="#e8dcf0" opacity="0.5"/><ellipse cx="675.0" cy="440.6" rx="1.35" ry="0.36" fill="#e8dcf0" opacity="0.5"/><ellipse cx="524.9" cy="443.2" rx="0.77" ry="0.45" fill="#e8dcf0" opacity="0.5"/><ellipse cx="528.3" cy="442.3" rx="0.77" ry="0.35" fill="#e8dcf0" opacity="0.5"/><ellipse cx="493.6" cy="443.2" rx="0.55" ry="0.37" fill="#e8dcf0" opacity="0.5"/><ellipse cx="540.9" cy="439.6" rx="1.25" ry="0.69" fill="#e8dcf0" opacity="0.5"/><ellipse cx="570.8" cy="440.7" rx="0.79" ry="0.51" fill="#e8dcf0" opacity="0.5"/><ellipse cx="478.0" cy="441.5" rx="0.98" ry="0.57" fill="#e8dcf0" opacity="0.5"/><ellipse cx="649.5" cy="442.2" rx="1.38" ry="0.59" fill="#e8dcf0" opacity="0.5"/><ellipse cx="493.3" cy="437.3" rx="1.06" ry="0.35" fill="#e8dcf0" opacity="0.5"/><ellipse cx="553.2" cy="437.9" rx="0.62" ry="0.47" fill="#e8dcf0" opacity="0.5"/><ellipse cx="614.6" cy="443.3" rx="1.09" ry="0.55" fill="#e8dcf0" opacity="0.5"/><ellipse cx="506.5" cy="443.8" rx="1.19" ry="0.58" fill="#e8dcf0" opacity="0.5"/><ellipse cx="571.5" cy="439.6" rx="0.57" ry="0.42" fill="#e8dcf0" opacity="0.5"/><ellipse cx="475.4" cy="443.9" rx="0.83" ry="0.56" fill="#e8dcf0" opacity="0.5"/><ellipse cx="630.5" cy="438.7" rx="1.38" ry="0.69" fill="#e8dcf0" opacity="0.5"/><ellipse cx="574.0" cy="434.5" rx="1.21" ry="0.51" fill="#e8dcf0" opacity="0.5"/><ellipse cx="474.7" cy="441.3" rx="1.04" ry="0.69" fill="#e8dcf0" opacity="0.5"/><ellipse cx="597.4" cy="438.1" rx="0.60" ry="0.36" fill="#e8dcf0" opacity="0.5"/><ellipse cx="626.9" cy="442.3" rx="0.82" ry="0.53" fill="#e8dcf0" opacity="0.5"/><ellipse cx="514.3" cy="434.0" rx="0.70" ry="0.36" fill="#e8dcf0" opacity="0.5"/><ellipse cx="645.0" cy="434.9" rx="0.68" ry="0.47" fill="#e8dcf0" opacity="0.5"/><ellipse cx="664.7" cy="436.8" rx="0.78" ry="0.60" fill="#e8dcf0" opacity="0.5"/><ellipse cx="570.3" cy="443.1" rx="0.96" ry="0.41" fill="#e8dcf0" opacity="0.5"/><ellipse cx="660.8" cy="440.1" rx="0.91" ry="0.63" fill="#e8dcf0" opacity="0.5"/><ellipse cx="540.3" cy="436.0" rx="0.69" ry="0.40" fill="#e8dcf0" opacity="0.5"/><ellipse cx="639.4" cy="442.1" rx="0.65" ry="0.31" fill="#e8dcf0" opacity="0.5"/><ellipse cx="509.7" cy="434.1" rx="1.03" ry="0.43" fill="#e8dcf0" opacity="0.5"/><ellipse cx="605.6" cy="435.6" rx="1.09" ry="0.60" fill="#e8dcf0" opacity="0.5"/><ellipse cx="531.7" cy="443.7" rx="0.75" ry="0.70" fill="#e8dcf0" opacity="0.5"/><ellipse cx="679.2" cy="443.1" rx="0.88" ry="0.62" fill="#e8dcf0" opacity="0.5"/><ellipse cx="668.2" cy="437.6" rx="1.19" ry="0.44" fill="#e8dcf0" opacity="0.5"/><ellipse cx="523.3" cy="442.9" rx="1.14" ry="0.60" fill="#e8dcf0" opacity="0.5"/><ellipse cx="485.5" cy="438.2" rx="0.53" ry="0.50" fill="#e8dcf0" opacity="0.5"/><ellipse cx="588.4" cy="437.9" rx="0.92" ry="0.48" fill="#e8dcf0" opacity="0.5"/><ellipse cx="475.4" cy="437.9" rx="1.16" ry="0.51" fill="#e8dcf0" opacity="0.5"/><ellipse cx="472.0" cy="436.1" rx="0.69" ry="0.31" fill="#e8dcf0" opacity="0.5"/><ellipse cx="552.3" cy="436.4" rx="0.90" ry="0.60" fill="#e8dcf0" opacity="0.5"/><ellipse cx="676.8" cy="439.5" rx="0.63" ry="0.66" fill="#e8dcf0" opacity="0.5"/><ellipse cx="666.9" cy="441.8" rx="0.71" ry="0.51" fill="#e8dcf0" opacity="0.5"/><ellipse cx="522.4" cy="440.6" rx="1.32" ry="0.58" fill="#e8dcf0" opacity="0.5"/><ellipse cx="579.4" cy="441.0" rx="0.65" ry="0.47" fill="#e8dcf0" opacity="0.5"/><ellipse cx="482.2" cy="434.6" rx="0.55" ry="0.47" fill="#e8dcf0" opacity="0.5"/><ellipse cx="529.3" cy="441.9" rx="0.67" ry="0.50" fill="#e8dcf0" opacity="0.5"/><ellipse cx="582.7" cy="437.2" rx="0.78" ry="0.44" fill="#e8dcf0" opacity="0.5"/><ellipse cx="603.0" cy="442.8" rx="0.91" ry="0.69" fill="#e8dcf0" opacity="0.5"/><ellipse cx="497.7" cy="441.4" rx="1.04" ry="0.59" fill="#e8dcf0" opacity="0.5"/><ellipse cx="486.5" cy="435.1" rx="0.50" ry="0.37" fill="#e8dcf0" opacity="0.5"/><ellipse cx="593.0" cy="443.6" rx="0.94" ry="0.61" fill="#e8dcf0" opacity="0.5"/><ellipse cx="473.4" cy="434.3" rx="0.83" ry="0.60" fill="#e8dcf0" opacity="0.5"/><ellipse cx="497.1" cy="440.8" rx="1.37" ry="0.56" fill="#e8dcf0" opacity="0.5"/><ellipse cx="642.1" cy="438.7" rx="1.34" ry="0.65" fill="#e8dcf0" opacity="0.5"/><ellipse cx="659.6" cy="438.5" rx="1.06" ry="0.45" fill="#e8dcf0" opacity="0.5"/><ellipse cx="516.4" cy="443.3" rx="0.88" ry="0.37" fill="#e8dcf0" opacity="0.5"/><ellipse cx="485.6" cy="442.2" rx="0.84" ry="0.31" fill="#e8dcf0" opacity="0.5"/><ellipse cx="583.2" cy="438.0" rx="0.93" ry="0.43" fill="#e8dcf0" opacity="0.5"/><ellipse cx="571.0" cy="439.0" rx="0.86" ry="0.37" fill="#e8dcf0" opacity="0.5"/><ellipse cx="479.3" cy="439.4" rx="0.92" ry="0.32" fill="#e8dcf0" opacity="0.5"/><ellipse cx="475.6" cy="437.2" rx="0.62" ry="0.39" fill="#e8dcf0" opacity="0.5"/><ellipse cx="571.1" cy="440.5" rx="0.55" ry="0.56" fill="#e8dcf0" opacity="0.5"/><ellipse cx="606.9" cy="436.6" rx="0.94" ry="0.69" fill="#e8dcf0" opacity="0.5"/><ellipse cx="677.6" cy="440.9" rx="0.89" ry="0.47" fill="#e8dcf0" opacity="0.5"/><ellipse cx="613.9" cy="443.9" rx="0.92" ry="0.56" fill="#e8dcf0" opacity="0.5"/><ellipse cx="531.5" cy="435.2" rx="0.63" ry="0.39" fill="#e8dcf0" opacity="0.5"/><ellipse cx="629.6" cy="436.1" rx="0.63" ry="0.44" fill="#e8dcf0" opacity="0.5"/><ellipse cx="635.4" cy="443.6" rx="0.97" ry="0.69" fill="#e8dcf0" opacity="0.5"/><ellipse cx="528.9" cy="444.0" rx="1.36" ry="0.60" fill="#e8dcf0" opacity="0.5"/><ellipse cx="669.1" cy="442.5" rx="1.24" ry="0.32" fill="#e8dcf0" opacity="0.5"/></g>
<g><ellipse cx="575.3" cy="435.8" rx="1.43" ry="0.48" fill="#6a3aa8" opacity="0.45" transform="rotate(-7 575.3 435.8)"/><ellipse cx="617.6" cy="434.8" rx="1.02" ry="0.50" fill="#6a3aa8" opacity="0.45" transform="rotate(-7 617.6 434.8)"/><ellipse cx="505.7" cy="436.8" rx="1.50" ry="0.57" fill="#6a3aa8" opacity="0.45" transform="rotate(5 505.7 436.8)"/><ellipse cx="541.9" cy="434.1" rx="0.83" ry="0.58" fill="#6a3aa8" opacity="0.45" transform="rotate(-8 541.9 434.1)"/><ellipse cx="532.1" cy="441.7" rx="1.01" ry="0.64" fill="#6a3aa8" opacity="0.45" transform="rotate(5 532.1 441.7)"/><ellipse cx="632.1" cy="436.8" rx="0.86" ry="0.58" fill="#6a3aa8" opacity="0.45" transform="rotate(-10 632.1 436.8)"/><ellipse cx="556.8" cy="429.8" rx="0.75" ry="0.49" fill="#6a3aa8" opacity="0.45" transform="rotate(-19 556.8 429.8)"/><ellipse cx="552.1" cy="439.9" rx="1.60" ry="0.51" fill="#6a3aa8" opacity="0.45" transform="rotate(-16 552.1 439.9)"/><ellipse cx="543.7" cy="428.9" rx="0.90" ry="0.56" fill="#6a3aa8" opacity="0.45" transform="rotate(5 543.7 428.9)"/><ellipse cx="476.7" cy="434.8" rx="1.08" ry="0.50" fill="#6a3aa8" opacity="0.45" transform="rotate(-15 476.7 434.8)"/><ellipse cx="553.8" cy="429.4" rx="1.32" ry="0.56" fill="#6a3aa8" opacity="0.45" transform="rotate(5 553.8 429.4)"/><ellipse cx="556.8" cy="441.4" rx="1.03" ry="0.45" fill="#6a3aa8" opacity="0.45" transform="rotate(-5 556.8 441.4)"/><ellipse cx="664.4" cy="430.2" rx="1.39" ry="0.63" fill="#6a3aa8" opacity="0.45" transform="rotate(14 664.4 430.2)"/><ellipse cx="569.2" cy="434.3" rx="1.48" ry="0.58" fill="#6a3aa8" opacity="0.45" transform="rotate(12 569.2 434.3)"/><ellipse cx="508.0" cy="436.5" rx="1.36" ry="0.46" fill="#6a3aa8" opacity="0.45" transform="rotate(-12 508.0 436.5)"/><ellipse cx="649.2" cy="436.0" rx="1.07" ry="0.52" fill="#6a3aa8" opacity="0.45" transform="rotate(-10 649.2 436.0)"/><ellipse cx="522.8" cy="429.5" rx="1.06" ry="0.44" fill="#6a3aa8" opacity="0.45" transform="rotate(16 522.8 429.5)"/><ellipse cx="673.6" cy="436.3" rx="0.78" ry="0.55" fill="#6a3aa8" opacity="0.45" transform="rotate(-14 673.6 436.3)"/><ellipse cx="549.1" cy="429.8" rx="1.15" ry="0.42" fill="#6a3aa8" opacity="0.45" transform="rotate(-9 549.1 429.8)"/><ellipse cx="519.7" cy="434.5" rx="1.54" ry="0.54" fill="#6a3aa8" opacity="0.45" transform="rotate(11 519.7 434.5)"/><ellipse cx="624.5" cy="435.4" rx="0.76" ry="0.41" fill="#6a3aa8" opacity="0.45" transform="rotate(-15 624.5 435.4)"/><ellipse cx="580.0" cy="432.8" rx="1.54" ry="0.45" fill="#6a3aa8" opacity="0.45" transform="rotate(-15 580.0 432.8)"/><ellipse cx="606.5" cy="436.5" rx="0.75" ry="0.49" fill="#6a3aa8" opacity="0.45" transform="rotate(-2 606.5 436.5)"/><ellipse cx="645.3" cy="438.9" rx="1.49" ry="0.53" fill="#6a3aa8" opacity="0.45" transform="rotate(18 645.3 438.9)"/><ellipse cx="570.2" cy="432.0" rx="0.83" ry="0.61" fill="#6a3aa8" opacity="0.45" transform="rotate(6 570.2 432.0)"/><ellipse cx="601.3" cy="441.7" rx="1.27" ry="0.48" fill="#6a3aa8" opacity="0.45" transform="rotate(8 601.3 441.7)"/><ellipse cx="667.2" cy="430.5" rx="1.55" ry="0.50" fill="#6a3aa8" opacity="0.45" transform="rotate(-15 667.2 430.5)"/><ellipse cx="578.2" cy="438.9" rx="1.14" ry="0.47" fill="#6a3aa8" opacity="0.45" transform="rotate(11 578.2 438.9)"/><ellipse cx="491.7" cy="437.4" rx="1.03" ry="0.55" fill="#6a3aa8" opacity="0.45" transform="rotate(0 491.7 437.4)"/><ellipse cx="529.7" cy="430.9" rx="1.44" ry="0.51" fill="#6a3aa8" opacity="0.45" transform="rotate(-9 529.7 430.9)"/><ellipse cx="596.2" cy="438.8" rx="0.78" ry="0.51" fill="#6a3aa8" opacity="0.45" transform="rotate(-14 596.2 438.8)"/><ellipse cx="633.7" cy="428.6" rx="1.45" ry="0.54" fill="#6a3aa8" opacity="0.45" transform="rotate(1 633.7 428.6)"/><ellipse cx="584.4" cy="431.9" rx="1.11" ry="0.44" fill="#6a3aa8" opacity="0.45" transform="rotate(-6 584.4 431.9)"/><ellipse cx="596.9" cy="436.6" rx="0.99" ry="0.55" fill="#6a3aa8" opacity="0.45" transform="rotate(11 596.9 436.6)"/><ellipse cx="635.2" cy="428.0" rx="1.15" ry="0.44" fill="#6a3aa8" opacity="0.45" transform="rotate(13 635.2 428.0)"/><ellipse cx="594.1" cy="434.2" rx="1.25" ry="0.53" fill="#6a3aa8" opacity="0.45" transform="rotate(-12 594.1 434.2)"/><ellipse cx="664.7" cy="428.8" rx="0.73" ry="0.47" fill="#6a3aa8" opacity="0.45" transform="rotate(-14 664.7 428.8)"/><ellipse cx="549.6" cy="436.6" rx="1.05" ry="0.64" fill="#6a3aa8" opacity="0.45" transform="rotate(-7 549.6 436.6)"/><ellipse cx="670.2" cy="441.7" rx="1.19" ry="0.60" fill="#6a3aa8" opacity="0.45" transform="rotate(-17 670.2 441.7)"/><ellipse cx="668.8" cy="434.2" rx="1.00" ry="0.63" fill="#6a3aa8" opacity="0.45" transform="rotate(-4 668.8 434.2)"/><ellipse cx="488.9" cy="428.4" rx="1.42" ry="0.45" fill="#6a3aa8" opacity="0.45" transform="rotate(5 488.9 428.4)"/><ellipse cx="488.5" cy="439.4" rx="1.57" ry="0.49" fill="#6a3aa8" opacity="0.45" transform="rotate(12 488.5 439.4)"/><ellipse cx="661.3" cy="431.3" rx="1.13" ry="0.65" fill="#6a3aa8" opacity="0.45" transform="rotate(18 661.3 431.3)"/><ellipse cx="590.0" cy="435.7" rx="0.72" ry="0.61" fill="#6a3aa8" opacity="0.45" transform="rotate(18 590.0 435.7)"/><ellipse cx="590.2" cy="431.2" rx="0.81" ry="0.56" fill="#6a3aa8" opacity="0.45" transform="rotate(8 590.2 431.2)"/><ellipse cx="597.3" cy="439.8" rx="0.73" ry="0.40" fill="#6a3aa8" opacity="0.45" transform="rotate(-16 597.3 439.8)"/><ellipse cx="536.1" cy="428.7" rx="0.92" ry="0.45" fill="#6a3aa8" opacity="0.45" transform="rotate(13 536.1 428.7)"/><ellipse cx="582.3" cy="430.8" rx="1.16" ry="0.44" fill="#6a3aa8" opacity="0.45" transform="rotate(20 582.3 430.8)"/><ellipse cx="489.3" cy="431.3" rx="1.22" ry="0.62" fill="#6a3aa8" opacity="0.45" transform="rotate(6 489.3 431.3)"/><ellipse cx="499.1" cy="436.5" rx="1.37" ry="0.63" fill="#6a3aa8" opacity="0.45" transform="rotate(6 499.1 436.5)"/><ellipse cx="523.3" cy="439.6" rx="1.33" ry="0.62" fill="#6a3aa8" opacity="0.45" transform="rotate(-12 523.3 439.6)"/><ellipse cx="648.3" cy="434.7" rx="0.90" ry="0.46" fill="#6a3aa8" opacity="0.45" transform="rotate(-16 648.3 434.7)"/><ellipse cx="661.1" cy="430.0" rx="1.27" ry="0.46" fill="#6a3aa8" opacity="0.45" transform="rotate(-10 661.1 430.0)"/><ellipse cx="545.1" cy="439.8" rx="0.76" ry="0.50" fill="#6a3aa8" opacity="0.45" transform="rotate(-7 545.1 439.8)"/><ellipse cx="573.4" cy="436.7" rx="1.48" ry="0.56" fill="#6a3aa8" opacity="0.45" transform="rotate(14 573.4 436.7)"/><ellipse cx="657.9" cy="439.4" rx="0.72" ry="0.42" fill="#6a3aa8" opacity="0.45" transform="rotate(1 657.9 439.4)"/><ellipse cx="511.9" cy="433.1" rx="1.18" ry="0.53" fill="#6a3aa8" opacity="0.45" transform="rotate(11 511.9 433.1)"/><ellipse cx="634.5" cy="431.1" rx="1.22" ry="0.52" fill="#6a3aa8" opacity="0.45" transform="rotate(-2 634.5 431.1)"/><ellipse cx="624.6" cy="438.0" rx="1.34" ry="0.50" fill="#6a3aa8" opacity="0.45" transform="rotate(-17 624.6 438.0)"/><ellipse cx="594.5" cy="431.6" rx="0.98" ry="0.43" fill="#6a3aa8" opacity="0.45" transform="rotate(-17 594.5 431.6)"/></g>
<g><ellipse cx="580.4" cy="457.4" rx="1.57" ry="0.46" fill="#5a48b0" opacity="0.7" transform="rotate(-1 580.4 457.4)"/><ellipse cx="576.8" cy="469.5" rx="1.16" ry="0.44" fill="#5a48b0" opacity="0.7" transform="rotate(18 576.8 469.5)"/><ellipse cx="587.2" cy="457.3" rx="0.81" ry="0.52" fill="#5a48b0" opacity="0.7" transform="rotate(1 587.2 457.3)"/><ellipse cx="562.3" cy="468.6" rx="1.23" ry="0.44" fill="#5a48b0" opacity="0.7" transform="rotate(-11 562.3 468.6)"/><ellipse cx="479.4" cy="482.0" rx="1.21" ry="0.55" fill="#5a48b0" opacity="0.7" transform="rotate(17 479.4 482.0)"/><ellipse cx="506.5" cy="468.6" rx="1.12" ry="0.64" fill="#5a48b0" opacity="0.7" transform="rotate(-8 506.5 468.6)"/><ellipse cx="504.6" cy="474.2" rx="1.32" ry="0.47" fill="#5a48b0" opacity="0.7" transform="rotate(-13 504.6 474.2)"/><ellipse cx="557.1" cy="484.0" rx="1.22" ry="0.40" fill="#5a48b0" opacity="0.7" transform="rotate(-10 557.1 484.0)"/><ellipse cx="482.1" cy="470.1" rx="1.52" ry="0.65" fill="#5a48b0" opacity="0.7" transform="rotate(14 482.1 470.1)"/><ellipse cx="514.0" cy="483.3" rx="1.51" ry="0.49" fill="#5a48b0" opacity="0.7" transform="rotate(-4 514.0 483.3)"/><ellipse cx="555.0" cy="468.6" rx="1.13" ry="0.49" fill="#5a48b0" opacity="0.7" transform="rotate(13 555.0 468.6)"/><ellipse cx="531.7" cy="452.5" rx="0.71" ry="0.56" fill="#5a48b0" opacity="0.7" transform="rotate(-15 531.7 452.5)"/><ellipse cx="549.6" cy="460.7" rx="1.18" ry="0.49" fill="#5a48b0" opacity="0.7" transform="rotate(6 549.6 460.7)"/><ellipse cx="485.8" cy="473.0" rx="1.29" ry="0.46" fill="#5a48b0" opacity="0.7" transform="rotate(20 485.8 473.0)"/><ellipse cx="588.0" cy="509.9" rx="1.54" ry="0.64" fill="#5a48b0" opacity="0.7" transform="rotate(3 588.0 509.9)"/><ellipse cx="569.7" cy="472.8" rx="0.76" ry="0.63" fill="#5a48b0" opacity="0.7" transform="rotate(17 569.7 472.8)"/><ellipse cx="500.7" cy="470.8" rx="0.91" ry="0.58" fill="#5a48b0" opacity="0.7" transform="rotate(-13 500.7 470.8)"/><ellipse cx="566.8" cy="448.4" rx="1.06" ry="0.60" fill="#5a48b0" opacity="0.7" transform="rotate(-1 566.8 448.4)"/><ellipse cx="486.4" cy="448.0" rx="1.31" ry="0.42" fill="#5a48b0" opacity="0.7" transform="rotate(-9 486.4 448.0)"/><ellipse cx="541.7" cy="466.4" rx="0.73" ry="0.60" fill="#5a48b0" opacity="0.7" transform="rotate(9 541.7 466.4)"/><ellipse cx="542.8" cy="452.6" rx="1.14" ry="0.64" fill="#5a48b0" opacity="0.7" transform="rotate(0 542.8 452.6)"/><ellipse cx="500.3" cy="507.8" rx="1.01" ry="0.53" fill="#5a48b0" opacity="0.7" transform="rotate(-13 500.3 507.8)"/><ellipse cx="572.6" cy="491.1" rx="1.18" ry="0.52" fill="#5a48b0" opacity="0.7" transform="rotate(-6 572.6 491.1)"/><ellipse cx="524.7" cy="479.8" rx="0.72" ry="0.58" fill="#5a48b0" opacity="0.7" transform="rotate(10 524.7 479.8)"/><ellipse cx="473.4" cy="454.9" rx="1.34" ry="0.49" fill="#5a48b0" opacity="0.7" transform="rotate(-14 473.4 454.9)"/><ellipse cx="553.0" cy="510.9" rx="1.02" ry="0.55" fill="#5a48b0" opacity="0.7" transform="rotate(2 553.0 510.9)"/><ellipse cx="536.2" cy="485.4" rx="1.52" ry="0.62" fill="#5a48b0" opacity="0.7" transform="rotate(16 536.2 485.4)"/><ellipse cx="551.9" cy="496.3" rx="1.38" ry="0.59" fill="#5a48b0" opacity="0.7" transform="rotate(7 551.9 496.3)"/><ellipse cx="560.3" cy="449.9" rx="0.85" ry="0.56" fill="#5a48b0" opacity="0.7" transform="rotate(-3 560.3 449.9)"/><ellipse cx="497.3" cy="488.7" rx="0.88" ry="0.59" fill="#5a48b0" opacity="0.7" transform="rotate(-7 497.3 488.7)"/><ellipse cx="579.0" cy="466.8" rx="1.57" ry="0.48" fill="#5a48b0" opacity="0.7" transform="rotate(11 579.0 466.8)"/><ellipse cx="486.3" cy="479.2" rx="1.02" ry="0.62" fill="#5a48b0" opacity="0.7" transform="rotate(8 486.3 479.2)"/><ellipse cx="537.9" cy="453.5" rx="1.17" ry="0.46" fill="#5a48b0" opacity="0.7" transform="rotate(-16 537.9 453.5)"/><ellipse cx="553.7" cy="482.0" rx="1.60" ry="0.61" fill="#5a48b0" opacity="0.7" transform="rotate(-18 553.7 482.0)"/><ellipse cx="582.3" cy="481.0" rx="1.59" ry="0.48" fill="#5a48b0" opacity="0.7" transform="rotate(-1 582.3 481.0)"/><ellipse cx="552.7" cy="462.8" rx="1.07" ry="0.48" fill="#5a48b0" opacity="0.7" transform="rotate(-6 552.7 462.8)"/><ellipse cx="534.3" cy="479.0" rx="1.50" ry="0.46" fill="#5a48b0" opacity="0.7" transform="rotate(-10 534.3 479.0)"/><ellipse cx="504.4" cy="446.3" rx="1.00" ry="0.49" fill="#5a48b0" opacity="0.7" transform="rotate(-16 504.4 446.3)"/><ellipse cx="531.6" cy="451.8" rx="1.42" ry="0.64" fill="#5a48b0" opacity="0.7" transform="rotate(4 531.6 451.8)"/><ellipse cx="493.9" cy="456.1" rx="0.76" ry="0.45" fill="#5a48b0" opacity="0.7" transform="rotate(14 493.9 456.1)"/><ellipse cx="561.0" cy="502.8" rx="1.03" ry="0.54" fill="#5a48b0" opacity="0.7" transform="rotate(9 561.0 502.8)"/><ellipse cx="548.5" cy="488.7" rx="0.73" ry="0.65" fill="#5a48b0" opacity="0.7" transform="rotate(3 548.5 488.7)"/><ellipse cx="503.5" cy="467.5" rx="1.39" ry="0.63" fill="#5a48b0" opacity="0.7" transform="rotate(-19 503.5 467.5)"/><ellipse cx="495.6" cy="449.3" rx="1.28" ry="0.55" fill="#5a48b0" opacity="0.7" transform="rotate(5 495.6 449.3)"/><ellipse cx="492.6" cy="473.5" rx="1.49" ry="0.48" fill="#5a48b0" opacity="0.7" transform="rotate(-12 492.6 473.5)"/><ellipse cx="495.2" cy="498.8" rx="0.91" ry="0.58" fill="#5a48b0" opacity="0.7" transform="rotate(5 495.2 498.8)"/><ellipse cx="567.6" cy="450.0" rx="0.97" ry="0.64" fill="#5a48b0" opacity="0.7" transform="rotate(-0 567.6 450.0)"/><ellipse cx="480.2" cy="453.4" rx="0.87" ry="0.56" fill="#5a48b0" opacity="0.7" transform="rotate(-7 480.2 453.4)"/><ellipse cx="481.6" cy="463.3" rx="1.42" ry="0.58" fill="#5a48b0" opacity="0.7" transform="rotate(-1 481.6 463.3)"/><ellipse cx="501.6" cy="452.4" rx="0.80" ry="0.62" fill="#5a48b0" opacity="0.7" transform="rotate(5 501.6 452.4)"/><ellipse cx="471.3" cy="497.6" rx="1.55" ry="0.50" fill="#5a48b0" opacity="0.7" transform="rotate(16 471.3 497.6)"/><ellipse cx="509.2" cy="468.8" rx="1.07" ry="0.53" fill="#5a48b0" opacity="0.7" transform="rotate(-5 509.2 468.8)"/><ellipse cx="498.1" cy="451.5" rx="0.97" ry="0.54" fill="#5a48b0" opacity="0.7" transform="rotate(15 498.1 451.5)"/><ellipse cx="553.5" cy="479.7" rx="1.07" ry="0.44" fill="#5a48b0" opacity="0.7" transform="rotate(8 553.5 479.7)"/><ellipse cx="564.7" cy="469.2" rx="1.38" ry="0.61" fill="#5a48b0" opacity="0.7" transform="rotate(-6 564.7 469.2)"/><ellipse cx="470.7" cy="501.1" rx="1.16" ry="0.42" fill="#5a48b0" opacity="0.7" transform="rotate(4 470.7 501.1)"/><ellipse cx="544.9" cy="487.1" rx="1.29" ry="0.54" fill="#5a48b0" opacity="0.7" transform="rotate(-18 544.9 487.1)"/><ellipse cx="576.4" cy="489.5" rx="1.48" ry="0.53" fill="#5a48b0" opacity="0.7" transform="rotate(7 576.4 489.5)"/><ellipse cx="526.3" cy="495.4" rx="0.78" ry="0.48" fill="#5a48b0" opacity="0.7" transform="rotate(11 526.3 495.4)"/><ellipse cx="512.2" cy="480.7" rx="1.02" ry="0.59" fill="#5a48b0" opacity="0.7" transform="rotate(-15 512.2 480.7)"/><ellipse cx="505.1" cy="450.2" rx="0.76" ry="0.50" fill="#5a48b0" opacity="0.7" transform="rotate(18 505.1 450.2)"/><ellipse cx="489.7" cy="486.7" rx="1.37" ry="0.58" fill="#5a48b0" opacity="0.7" transform="rotate(-18 489.7 486.7)"/><ellipse cx="473.1" cy="494.0" rx="0.90" ry="0.59" fill="#5a48b0" opacity="0.7" transform="rotate(6 473.1 494.0)"/><ellipse cx="585.6" cy="472.0" rx="1.42" ry="0.44" fill="#5a48b0" opacity="0.7" transform="rotate(-9 585.6 472.0)"/><ellipse cx="515.0" cy="470.4" rx="1.19" ry="0.47" fill="#5a48b0" opacity="0.7" transform="rotate(-15 515.0 470.4)"/><ellipse cx="526.4" cy="478.5" rx="1.44" ry="0.54" fill="#5a48b0" opacity="0.7" transform="rotate(-2 526.4 478.5)"/><ellipse cx="496.4" cy="494.0" rx="1.50" ry="0.42" fill="#5a48b0" opacity="0.7" transform="rotate(-9 496.4 494.0)"/><ellipse cx="558.8" cy="462.2" rx="0.76" ry="0.46" fill="#5a48b0" opacity="0.7" transform="rotate(19 558.8 462.2)"/><ellipse cx="487.7" cy="452.9" rx="1.31" ry="0.44" fill="#5a48b0" opacity="0.7" transform="rotate(13 487.7 452.9)"/><ellipse cx="502.8" cy="477.4" rx="1.15" ry="0.62" fill="#5a48b0" opacity="0.7" transform="rotate(17 502.8 477.4)"/><ellipse cx="495.9" cy="465.4" rx="0.78" ry="0.44" fill="#5a48b0" opacity="0.7" transform="rotate(14 495.9 465.4)"/><ellipse cx="499.3" cy="480.9" rx="1.20" ry="0.47" fill="#5a48b0" opacity="0.7" transform="rotate(-17 499.3 480.9)"/><ellipse cx="470.5" cy="462.6" rx="1.48" ry="0.46" fill="#5a48b0" opacity="0.7" transform="rotate(-9 470.5 462.6)"/><ellipse cx="581.5" cy="506.2" rx="0.77" ry="0.59" fill="#5a48b0" opacity="0.7" transform="rotate(-3 581.5 506.2)"/><ellipse cx="521.8" cy="500.4" rx="0.71" ry="0.53" fill="#5a48b0" opacity="0.7" transform="rotate(15 521.8 500.4)"/><ellipse cx="585.0" cy="498.3" rx="1.15" ry="0.47" fill="#5a48b0" opacity="0.7" transform="rotate(19 585.0 498.3)"/><ellipse cx="470.3" cy="453.2" rx="0.96" ry="0.64" fill="#5a48b0" opacity="0.7" transform="rotate(-4 470.3 453.2)"/><ellipse cx="574.8" cy="451.2" rx="0.96" ry="0.47" fill="#5a48b0" opacity="0.7" transform="rotate(-20 574.8 451.2)"/><ellipse cx="562.7" cy="497.9" rx="1.26" ry="0.48" fill="#5a48b0" opacity="0.7" transform="rotate(6 562.7 497.9)"/><ellipse cx="556.3" cy="465.5" rx="1.10" ry="0.40" fill="#5a48b0" opacity="0.7" transform="rotate(17 556.3 465.5)"/><ellipse cx="473.7" cy="458.0" rx="1.50" ry="0.41" fill="#5a48b0" opacity="0.7" transform="rotate(-13 473.7 458.0)"/><ellipse cx="520.9" cy="511.9" rx="1.50" ry="0.45" fill="#5a48b0" opacity="0.7" transform="rotate(7 520.9 511.9)"/><ellipse cx="498.1" cy="472.5" rx="1.48" ry="0.45" fill="#5a48b0" opacity="0.7" transform="rotate(-10 498.1 472.5)"/><ellipse cx="577.7" cy="460.2" rx="0.78" ry="0.53" fill="#5a48b0" opacity="0.7" transform="rotate(-7 577.7 460.2)"/><ellipse cx="512.8" cy="461.5" rx="1.32" ry="0.64" fill="#5a48b0" opacity="0.7" transform="rotate(-13 512.8 461.5)"/><ellipse cx="490.9" cy="450.8" rx="1.19" ry="0.42" fill="#5a48b0" opacity="0.7" transform="rotate(-13 490.9 450.8)"/><ellipse cx="565.4" cy="504.8" rx="1.15" ry="0.63" fill="#5a48b0" opacity="0.7" transform="rotate(-10 565.4 504.8)"/><ellipse cx="550.9" cy="493.3" rx="1.25" ry="0.49" fill="#5a48b0" opacity="0.7" transform="rotate(-13 550.9 493.3)"/><ellipse cx="491.3" cy="497.7" rx="1.34" ry="0.54" fill="#5a48b0" opacity="0.7" transform="rotate(11 491.3 497.7)"/><ellipse cx="476.5" cy="500.5" rx="1.28" ry="0.57" fill="#5a48b0" opacity="0.7" transform="rotate(-11 476.5 500.5)"/><ellipse cx="581.8" cy="465.4" rx="1.01" ry="0.65" fill="#5a48b0" opacity="0.7" transform="rotate(2 581.8 465.4)"/><ellipse cx="554.0" cy="499.3" rx="1.46" ry="0.53" fill="#5a48b0" opacity="0.7" transform="rotate(-13 554.0 499.3)"/><ellipse cx="535.9" cy="459.1" rx="1.16" ry="0.43" fill="#5a48b0" opacity="0.7" transform="rotate(20 535.9 459.1)"/><ellipse cx="518.7" cy="494.0" rx="1.27" ry="0.50" fill="#5a48b0" opacity="0.7" transform="rotate(-5 518.7 494.0)"/><ellipse cx="470.5" cy="502.5" rx="0.75" ry="0.45" fill="#5a48b0" opacity="0.7" transform="rotate(1 470.5 502.5)"/><ellipse cx="499.5" cy="494.0" rx="1.49" ry="0.52" fill="#5a48b0" opacity="0.7" transform="rotate(19 499.5 494.0)"/><ellipse cx="493.9" cy="489.7" rx="1.60" ry="0.42" fill="#5a48b0" opacity="0.7" transform="rotate(8 493.9 489.7)"/><ellipse cx="545.0" cy="497.4" rx="1.28" ry="0.61" fill="#5a48b0" opacity="0.7" transform="rotate(-8 545.0 497.4)"/><ellipse cx="538.6" cy="447.3" rx="0.72" ry="0.59" fill="#5a48b0" opacity="0.7" transform="rotate(-6 538.6 447.3)"/><ellipse cx="554.9" cy="453.9" rx="1.27" ry="0.65" fill="#5a48b0" opacity="0.7" transform="rotate(17 554.9 453.9)"/><ellipse cx="547.3" cy="448.0" rx="1.12" ry="0.57" fill="#5a48b0" opacity="0.7" transform="rotate(0 547.3 448.0)"/><ellipse cx="562.2" cy="470.4" rx="1.41" ry="0.58" fill="#5a48b0" opacity="0.7" transform="rotate(6 562.2 470.4)"/><ellipse cx="509.5" cy="481.6" rx="1.18" ry="0.43" fill="#5a48b0" opacity="0.7" transform="rotate(-12 509.5 481.6)"/><ellipse cx="551.0" cy="461.8" rx="1.58" ry="0.42" fill="#5a48b0" opacity="0.7" transform="rotate(-14 551.0 461.8)"/><ellipse cx="502.5" cy="449.3" rx="0.82" ry="0.47" fill="#5a48b0" opacity="0.7" transform="rotate(18 502.5 449.3)"/><ellipse cx="513.5" cy="481.4" rx="0.78" ry="0.49" fill="#5a48b0" opacity="0.7" transform="rotate(16 513.5 481.4)"/><ellipse cx="576.8" cy="476.7" rx="1.39" ry="0.61" fill="#5a48b0" opacity="0.7" transform="rotate(-5 576.8 476.7)"/><ellipse cx="508.8" cy="505.5" rx="0.92" ry="0.60" fill="#5a48b0" opacity="0.7" transform="rotate(-9 508.8 505.5)"/><ellipse cx="588.0" cy="510.7" rx="1.01" ry="0.43" fill="#5a48b0" opacity="0.7" transform="rotate(20 588.0 510.7)"/><ellipse cx="541.0" cy="502.3" rx="1.03" ry="0.56" fill="#5a48b0" opacity="0.7" transform="rotate(-13 541.0 502.3)"/><ellipse cx="497.4" cy="497.3" rx="0.88" ry="0.46" fill="#5a48b0" opacity="0.7" transform="rotate(8 497.4 497.3)"/><ellipse cx="497.4" cy="506.6" rx="1.56" ry="0.55" fill="#5a48b0" opacity="0.7" transform="rotate(13 497.4 506.6)"/><ellipse cx="572.2" cy="453.8" rx="1.04" ry="0.52" fill="#5a48b0" opacity="0.7" transform="rotate(14 572.2 453.8)"/><ellipse cx="483.0" cy="504.4" rx="1.11" ry="0.60" fill="#5a48b0" opacity="0.7" transform="rotate(-10 483.0 504.4)"/><ellipse cx="496.9" cy="458.1" rx="0.86" ry="0.60" fill="#5a48b0" opacity="0.7" transform="rotate(-12 496.9 458.1)"/><ellipse cx="499.2" cy="474.4" rx="0.75" ry="0.51" fill="#5a48b0" opacity="0.7" transform="rotate(5 499.2 474.4)"/><ellipse cx="547.9" cy="493.8" rx="0.81" ry="0.44" fill="#5a48b0" opacity="0.7" transform="rotate(-5 547.9 493.8)"/><ellipse cx="512.6" cy="503.6" rx="0.87" ry="0.53" fill="#5a48b0" opacity="0.7" transform="rotate(-16 512.6 503.6)"/><ellipse cx="539.8" cy="479.4" rx="1.21" ry="0.47" fill="#5a48b0" opacity="0.7" transform="rotate(14 539.8 479.4)"/><ellipse cx="537.0" cy="499.4" rx="1.08" ry="0.57" fill="#5a48b0" opacity="0.7" transform="rotate(-5 537.0 499.4)"/><ellipse cx="482.8" cy="481.0" rx="0.77" ry="0.56" fill="#5a48b0" opacity="0.7" transform="rotate(1 482.8 481.0)"/><ellipse cx="583.0" cy="447.8" rx="1.42" ry="0.56" fill="#5a48b0" opacity="0.7" transform="rotate(-10 583.0 447.8)"/><ellipse cx="518.0" cy="509.9" rx="1.23" ry="0.57" fill="#5a48b0" opacity="0.7" transform="rotate(-3 518.0 509.9)"/><ellipse cx="585.2" cy="500.8" rx="0.94" ry="0.45" fill="#5a48b0" opacity="0.7" transform="rotate(-6 585.2 500.8)"/><ellipse cx="528.0" cy="478.3" rx="1.33" ry="0.48" fill="#5a48b0" opacity="0.7" transform="rotate(-9 528.0 478.3)"/><ellipse cx="543.8" cy="461.2" rx="1.54" ry="0.48" fill="#5a48b0" opacity="0.7" transform="rotate(-11 543.8 461.2)"/><ellipse cx="552.7" cy="482.9" rx="1.52" ry="0.60" fill="#5a48b0" opacity="0.7" transform="rotate(11 552.7 482.9)"/><ellipse cx="562.2" cy="499.4" rx="0.96" ry="0.42" fill="#5a48b0" opacity="0.7" transform="rotate(-20 562.2 499.4)"/><ellipse cx="504.4" cy="507.7" rx="1.46" ry="0.61" fill="#5a48b0" opacity="0.7" transform="rotate(-11 504.4 507.7)"/><ellipse cx="489.0" cy="467.2" rx="0.76" ry="0.43" fill="#5a48b0" opacity="0.7" transform="rotate(12 489.0 467.2)"/></g>
<g><path d="M476.4,505.6 q2.8,-0.7 5.6,-0.2" fill="none" stroke="#b49ad6" stroke-width="0.6" opacity="0.6"/><path d="M529.4,486.3 q6.0,-0.5 11.9,-0.1" fill="none" stroke="#b49ad6" stroke-width="0.6" opacity="0.6"/><path d="M524.7,458.1 q3.7,-0.4 7.4,-0.1" fill="none" stroke="#b49ad6" stroke-width="0.6" opacity="0.6"/><path d="M578.2,450.2 q4.3,0.4 8.6,0.1" fill="none" stroke="#b49ad6" stroke-width="0.6" opacity="0.6"/><path d="M561.6,464.2 q2.6,-0.1 5.2,-0.0" fill="none" stroke="#b49ad6" stroke-width="0.6" opacity="0.6"/><path d="M588.2,503.5 q5.7,1.1 11.3,0.3" fill="none" stroke="#b49ad6" stroke-width="0.6" opacity="0.6"/><path d="M557.4,479.2 q5.8,0.3 11.6,0.1" fill="none" stroke="#b49ad6" stroke-width="0.6" opacity="0.6"/><path d="M523.3,462.7 q4.2,1.1 8.5,0.3" fill="none" stroke="#b49ad6" stroke-width="0.6" opacity="0.6"/><path d="M517.9,495.1 q3.0,-0.6 6.0,-0.2" fill="none" stroke="#b49ad6" stroke-width="0.6" opacity="0.6"/><path d="M492.4,499.9 q4.8,-0.4 9.5,-0.1" fill="none" stroke="#b49ad6" stroke-width="0.6" opacity="0.6"/><path d="M571.9,490.7 q4.5,-1.1 9.0,-0.3" fill="none" stroke="#b49ad6" stroke-width="0.6" opacity="0.6"/><path d="M564.1,509.3 q2.1,-0.7 4.2,-0.2" fill="none" stroke="#b49ad6" stroke-width="0.6" opacity="0.6"/><path d="M546.1,491.8 q5.5,0.2 11.1,0.1" fill="none" stroke="#b49ad6" stroke-width="0.6" opacity="0.6"/><path d="M527.7,504.9 q4.0,0.5 8.0,0.2" fill="none" stroke="#b49ad6" stroke-width="0.6" opacity="0.6"/><path d="M499.7,495.2 q4.4,-0.3 8.8,-0.1" fill="none" stroke="#b49ad6" stroke-width="0.6" opacity="0.6"/><path d="M518.8,498.4 q5.4,0.2 10.8,0.1" fill="none" stroke="#b49ad6" stroke-width="0.6" opacity="0.6"/><path d="M524.1,457.8 q5.2,-0.2 10.5,-0.1" fill="none" stroke="#b49ad6" stroke-width="0.6" opacity="0.6"/><path d="M588.5,510.1 q2.7,0.2 5.4,0.1" fill="none" stroke="#b49ad6" stroke-width="0.6" opacity="0.6"/><path d="M536.0,507.3 q5.5,-0.7 11.0,-0.2" fill="none" stroke="#b49ad6" stroke-width="0.6" opacity="0.6"/><path d="M555.1,456.6 q4.3,0.9 8.7,0.3" fill="none" stroke="#b49ad6" stroke-width="0.6" opacity="0.6"/><path d="M501.0,476.7 q3.7,0.6 7.3,0.2" fill="none" stroke="#b49ad6" stroke-width="0.6" opacity="0.6"/><path d="M584.4,450.1 q4.9,0.4 9.7,0.1" fill="none" stroke="#b49ad6" stroke-width="0.6" opacity="0.6"/><path d="M488.6,479.7 q5.6,0.8 11.3,0.2" fill="none" stroke="#b49ad6" stroke-width="0.6" opacity="0.6"/><path d="M490.5,473.0 q2.4,0.6 4.8,0.2" fill="none" stroke="#b49ad6" stroke-width="0.6" opacity="0.6"/><path d="M529.8,510.2 q3.7,1.0 7.5,0.3" fill="none" stroke="#b49ad6" stroke-width="0.6" opacity="0.6"/><path d="M472.0,509.6 q2.7,1.0 5.4,0.3" fill="none" stroke="#b49ad6" stroke-width="0.6" opacity="0.6"/><path d="M543.8,496.2 q3.3,0.2 6.6,0.0" fill="none" stroke="#b49ad6" stroke-width="0.6" opacity="0.6"/><path d="M504.7,503.2 q2.0,-0.0 4.1,-0.0" fill="none" stroke="#b49ad6" stroke-width="0.6" opacity="0.6"/><path d="M522.3,482.3 q2.9,1.0 5.7,0.3" fill="none" stroke="#b49ad6" stroke-width="0.6" opacity="0.6"/><path d="M588.3,488.6 q2.7,-0.4 5.4,-0.1" fill="none" stroke="#b49ad6" stroke-width="0.6" opacity="0.6"/><path d="M509.8,467.9 q3.5,0.7 7.0,0.2" fill="none" stroke="#b49ad6" stroke-width="0.6" opacity="0.6"/><path d="M510.1,485.4 q5.4,0.3 10.9,0.1" fill="none" stroke="#b49ad6" stroke-width="0.6" opacity="0.6"/><path d="M564.9,482.9 q5.7,1.0 11.5,0.3" fill="none" stroke="#b49ad6" stroke-width="0.6" opacity="0.6"/><path d="M521.8,472.3 q4.8,0.5 9.7,0.1" fill="none" stroke="#b49ad6" stroke-width="0.6" opacity="0.6"/><path d="M517.4,478.5 q3.9,0.6 7.8,0.2" fill="none" stroke="#b49ad6" stroke-width="0.6" opacity="0.6"/><path d="M544.8,503.5 q5.0,0.2 10.1,0.1" fill="none" stroke="#b49ad6" stroke-width="0.6" opacity="0.6"/><path d="M516.4,482.1 q3.5,1.1 7.1,0.3" fill="none" stroke="#b49ad6" stroke-width="0.6" opacity="0.6"/><path d="M490.5,510.6 q6.0,0.0 12.0,0.0" fill="none" stroke="#b49ad6" stroke-width="0.6" opacity="0.6"/><path d="M490.3,456.0 q3.8,-1.2 7.7,-0.4" fill="none" stroke="#b49ad6" stroke-width="0.6" opacity="0.6"/><path d="M585.1,484.2 q3.8,0.3 7.6,0.1" fill="none" stroke="#b49ad6" stroke-width="0.6" opacity="0.6"/><path d="M545.8,478.9 q5.9,0.3 11.8,0.1" fill="none" stroke="#b49ad6" stroke-width="0.6" opacity="0.6"/><path d="M511.3,457.5 q3.5,0.3 7.1,0.1" fill="none" stroke="#b49ad6" stroke-width="0.6" opacity="0.6"/><path d="M516.8,467.5 q3.9,-0.5 7.8,-0.2" fill="none" stroke="#b49ad6" stroke-width="0.6" opacity="0.6"/><path d="M564.6,470.1 q3.3,0.8 6.5,0.2" fill="none" stroke="#b49ad6" stroke-width="0.6" opacity="0.6"/><path d="M500.5,475.3 q4.8,0.8 9.6,0.3" fill="none" stroke="#b49ad6" stroke-width="0.6" opacity="0.6"/><path d="M479.9,505.0 q2.5,-0.7 5.1,-0.2" fill="none" stroke="#b49ad6" stroke-width="0.6" opacity="0.6"/><path d="M559.3,471.4 q4.2,-0.7 8.3,-0.2" fill="none" stroke="#b49ad6" stroke-width="0.6" opacity="0.6"/><path d="M512.8,461.2 q4.7,0.2 9.4,0.1" fill="none" stroke="#b49ad6" stroke-width="0.6" opacity="0.6"/><path d="M521.2,493.9 q2.0,0.8 4.1,0.2" fill="none" stroke="#b49ad6" stroke-width="0.6" opacity="0.6"/><path d="M511.1,475.9 q4.2,0.4 8.3,0.1" fill="none" stroke="#b49ad6" stroke-width="0.6" opacity="0.6"/><path d="M585.9,471.1 q3.8,-0.7 7.6,-0.2" fill="none" stroke="#b49ad6" stroke-width="0.6" opacity="0.6"/><path d="M491.4,484.5 q4.3,1.0 8.7,0.3" fill="none" stroke="#b49ad6" stroke-width="0.6" opacity="0.6"/><path d="M550.8,450.1 q2.1,0.9 4.2,0.3" fill="none" stroke="#b49ad6" stroke-width="0.6" opacity="0.6"/><path d="M532.8,494.3 q2.6,-0.7 5.1,-0.2" fill="none" stroke="#b49ad6" stroke-width="0.6" opacity="0.6"/><path d="M490.8,486.7 q3.0,0.7 5.9,0.2" fill="none" stroke="#b49ad6" stroke-width="0.6" opacity="0.6"/></g>
<g><ellipse cx="631.4" cy="451.9" rx="1.52" ry="0.52" fill="#5a48b0" opacity="0.7" transform="rotate(-17 631.4 451.9)"/><ellipse cx="659.7" cy="447.5" rx="0.88" ry="0.42" fill="#5a48b0" opacity="0.7" transform="rotate(5 659.7 447.5)"/><ellipse cx="668.4" cy="458.2" rx="0.90" ry="0.61" fill="#5a48b0" opacity="0.7" transform="rotate(15 668.4 458.2)"/><ellipse cx="620.5" cy="451.5" rx="1.31" ry="0.64" fill="#5a48b0" opacity="0.7" transform="rotate(17 620.5 451.5)"/><ellipse cx="671.5" cy="460.3" rx="0.91" ry="0.55" fill="#5a48b0" opacity="0.7" transform="rotate(-3 671.5 460.3)"/><ellipse cx="649.4" cy="455.7" rx="0.89" ry="0.62" fill="#5a48b0" opacity="0.7" transform="rotate(-19 649.4 455.7)"/><ellipse cx="621.8" cy="452.6" rx="1.57" ry="0.43" fill="#5a48b0" opacity="0.7" transform="rotate(3 621.8 452.6)"/><ellipse cx="677.7" cy="458.2" rx="1.53" ry="0.50" fill="#5a48b0" opacity="0.7" transform="rotate(-2 677.7 458.2)"/><ellipse cx="624.4" cy="453.4" rx="1.01" ry="0.42" fill="#5a48b0" opacity="0.7" transform="rotate(19 624.4 453.4)"/><ellipse cx="658.2" cy="459.6" rx="1.18" ry="0.45" fill="#5a48b0" opacity="0.7" transform="rotate(-11 658.2 459.6)"/><ellipse cx="680.0" cy="462.5" rx="1.11" ry="0.59" fill="#5a48b0" opacity="0.7" transform="rotate(18 680.0 462.5)"/><ellipse cx="593.9" cy="453.3" rx="1.06" ry="0.49" fill="#5a48b0" opacity="0.7" transform="rotate(2 593.9 453.3)"/><ellipse cx="617.4" cy="448.4" rx="1.48" ry="0.51" fill="#5a48b0" opacity="0.7" transform="rotate(12 617.4 448.4)"/><ellipse cx="602.2" cy="452.1" rx="1.14" ry="0.41" fill="#5a48b0" opacity="0.7" transform="rotate(-3 602.2 452.1)"/><ellipse cx="606.6" cy="453.9" rx="0.96" ry="0.59" fill="#5a48b0" opacity="0.7" transform="rotate(0 606.6 453.9)"/><ellipse cx="613.4" cy="457.8" rx="1.13" ry="0.46" fill="#5a48b0" opacity="0.7" transform="rotate(11 613.4 457.8)"/><ellipse cx="644.1" cy="446.3" rx="1.19" ry="0.50" fill="#5a48b0" opacity="0.7" transform="rotate(-17 644.1 446.3)"/><ellipse cx="680.3" cy="458.4" rx="1.59" ry="0.52" fill="#5a48b0" opacity="0.7" transform="rotate(-3 680.3 458.4)"/><ellipse cx="604.6" cy="459.3" rx="1.13" ry="0.45" fill="#5a48b0" opacity="0.7" transform="rotate(14 604.6 459.3)"/><ellipse cx="644.9" cy="447.7" rx="1.58" ry="0.50" fill="#5a48b0" opacity="0.7" transform="rotate(17 644.9 447.7)"/><ellipse cx="628.2" cy="447.0" rx="1.19" ry="0.50" fill="#5a48b0" opacity="0.7" transform="rotate(11 628.2 447.0)"/><ellipse cx="636.1" cy="453.4" rx="1.07" ry="0.52" fill="#5a48b0" opacity="0.7" transform="rotate(9 636.1 453.4)"/><ellipse cx="664.6" cy="453.9" rx="0.83" ry="0.40" fill="#5a48b0" opacity="0.7" transform="rotate(4 664.6 453.9)"/><ellipse cx="611.9" cy="463.0" rx="1.08" ry="0.64" fill="#5a48b0" opacity="0.7" transform="rotate(-17 611.9 463.0)"/><ellipse cx="667.7" cy="448.4" rx="0.92" ry="0.50" fill="#5a48b0" opacity="0.7" transform="rotate(-9 667.7 448.4)"/><ellipse cx="631.6" cy="456.1" rx="1.26" ry="0.41" fill="#5a48b0" opacity="0.7" transform="rotate(4 631.6 456.1)"/><ellipse cx="625.4" cy="458.4" rx="0.97" ry="0.60" fill="#5a48b0" opacity="0.7" transform="rotate(-11 625.4 458.4)"/><ellipse cx="597.9" cy="460.5" rx="1.27" ry="0.45" fill="#5a48b0" opacity="0.7" transform="rotate(-6 597.9 460.5)"/><ellipse cx="628.5" cy="450.0" rx="1.20" ry="0.51" fill="#5a48b0" opacity="0.7" transform="rotate(3 628.5 450.0)"/><ellipse cx="661.3" cy="449.7" rx="0.94" ry="0.57" fill="#5a48b0" opacity="0.7" transform="rotate(4 661.3 449.7)"/></g>
<g><path d="M640.4,455.1 q4.3,-0.0 8.7,-0.0" fill="none" stroke="#b49ad6" stroke-width="0.6" opacity="0.6"/><path d="M673.4,451.7 q3.4,-0.3 6.8,-0.1" fill="none" stroke="#b49ad6" stroke-width="0.6" opacity="0.6"/><path d="M602.8,449.5 q2.2,-1.0 4.5,-0.3" fill="none" stroke="#b49ad6" stroke-width="0.6" opacity="0.6"/><path d="M603.8,465.3 q4.9,0.7 9.9,0.2" fill="none" stroke="#b49ad6" stroke-width="0.6" opacity="0.6"/><path d="M596.9,456.8 q4.4,-0.5 8.9,-0.2" fill="none" stroke="#b49ad6" stroke-width="0.6" opacity="0.6"/><path d="M604.7,456.5 q4.6,-0.9 9.3,-0.3" fill="none" stroke="#b49ad6" stroke-width="0.6" opacity="0.6"/><path d="M596.0,458.5 q3.9,-0.4 7.9,-0.1" fill="none" stroke="#b49ad6" stroke-width="0.6" opacity="0.6"/><path d="M678.1,450.9 q4.3,-1.1 8.6,-0.3" fill="none" stroke="#b49ad6" stroke-width="0.6" opacity="0.6"/><path d="M672.7,456.3 q5.2,0.8 10.5,0.2" fill="none" stroke="#b49ad6" stroke-width="0.6" opacity="0.6"/><path d="M657.6,447.5 q2.7,-0.9 5.3,-0.3" fill="none" stroke="#b49ad6" stroke-width="0.6" opacity="0.6"/><path d="M611.6,465.9 q5.2,1.2 10.5,0.4" fill="none" stroke="#b49ad6" stroke-width="0.6" opacity="0.6"/><path d="M626.5,459.8 q4.2,1.2 8.4,0.4" fill="none" stroke="#b49ad6" stroke-width="0.6" opacity="0.6"/></g>
<g clip-path="url(#cli3)">
<rect x="589.50" y="466.50" width="95.00" height="60.00" fill="#e0dfee" />
<path d="M589.5,479 L684,480 L684,494 L589.5,493 Z" fill="url(#gepi2)" stroke="none" stroke-width="1" />
<path d="M589.5,493 L684,494 L684,526.5 L589.5,526.5 Z" fill="#e6dcf2" stroke="none" stroke-width="1" />
<rect x="589.50" y="493.00" width="95.00" height="34.00" fill="url(#streak)" opacity="0.7"/>
<path d="M589.5,471.7 Q600,471 612,470.5 T636,469.5 T660,471 Q664,476 662,480 Q670,474 684,473.8 L684,480.1 Q672,480 661,481 Q650,479.6 630,479.4 T589.5,479.4 Z" fill="#dc349c" stroke="none" stroke-width="1" />
<path d="M589.5,474.5 Q610,473.5 630,474.5 T658,475" fill="none" stroke="#f2b8e0" stroke-width="0.7" opacity="0.8"/>
<path d="M589.5,477.2 Q612,476.5 635,477.4 T660,478.2" fill="none" stroke="#f0b0dc" stroke-width="0.6" opacity="0.7"/>
<path d="M664,477 Q675,476 684,476.5" fill="none" stroke="#f2b8e0" stroke-width="0.6" opacity="0.8"/>
</g>
<g><ellipse cx="670.1" cy="491.1" rx="0.60" ry="0.35" fill="#eee4f4" opacity="0.8"/><ellipse cx="619.4" cy="493.3" rx="1.34" ry="0.44" fill="#eee4f4" opacity="0.8"/><ellipse cx="631.6" cy="490.7" rx="1.33" ry="0.48" fill="#eee4f4" opacity="0.8"/><ellipse cx="619.8" cy="491.0" rx="0.50" ry="0.51" fill="#eee4f4" opacity="0.8"/><ellipse cx="602.7" cy="492.9" rx="0.89" ry="0.68" fill="#eee4f4" opacity="0.8"/><ellipse cx="629.6" cy="489.6" rx="1.40" ry="0.65" fill="#eee4f4" opacity="0.8"/><ellipse cx="591.0" cy="493.9" rx="1.27" ry="0.67" fill="#eee4f4" opacity="0.8"/><ellipse cx="643.1" cy="492.4" rx="1.14" ry="0.43" fill="#eee4f4" opacity="0.8"/><ellipse cx="592.9" cy="492.1" rx="1.36" ry="0.34" fill="#eee4f4" opacity="0.8"/><ellipse cx="654.7" cy="491.0" rx="0.86" ry="0.58" fill="#eee4f4" opacity="0.8"/><ellipse cx="646.1" cy="492.7" rx="0.89" ry="0.49" fill="#eee4f4" opacity="0.8"/><ellipse cx="648.4" cy="489.4" rx="1.32" ry="0.32" fill="#eee4f4" opacity="0.8"/><ellipse cx="668.1" cy="488.8" rx="0.64" ry="0.70" fill="#eee4f4" opacity="0.8"/><ellipse cx="651.8" cy="489.7" rx="1.13" ry="0.42" fill="#eee4f4" opacity="0.8"/><ellipse cx="657.1" cy="489.9" rx="0.84" ry="0.34" fill="#eee4f4" opacity="0.8"/><ellipse cx="643.2" cy="489.0" rx="0.98" ry="0.46" fill="#eee4f4" opacity="0.8"/><ellipse cx="656.9" cy="489.4" rx="1.16" ry="0.34" fill="#eee4f4" opacity="0.8"/><ellipse cx="672.2" cy="488.7" rx="0.94" ry="0.35" fill="#eee4f4" opacity="0.8"/><ellipse cx="668.0" cy="489.7" rx="0.63" ry="0.58" fill="#eee4f4" opacity="0.8"/><ellipse cx="665.8" cy="491.7" rx="1.06" ry="0.57" fill="#eee4f4" opacity="0.8"/><ellipse cx="675.3" cy="489.8" rx="0.58" ry="0.68" fill="#eee4f4" opacity="0.8"/><ellipse cx="653.9" cy="492.2" rx="1.28" ry="0.38" fill="#eee4f4" opacity="0.8"/><ellipse cx="651.4" cy="490.9" rx="1.38" ry="0.56" fill="#eee4f4" opacity="0.8"/><ellipse cx="643.3" cy="493.3" rx="1.16" ry="0.50" fill="#eee4f4" opacity="0.8"/><ellipse cx="660.0" cy="489.5" rx="1.00" ry="0.47" fill="#eee4f4" opacity="0.8"/><ellipse cx="644.1" cy="492.9" rx="1.34" ry="0.62" fill="#eee4f4" opacity="0.8"/><ellipse cx="653.5" cy="493.3" rx="1.17" ry="0.45" fill="#eee4f4" opacity="0.8"/><ellipse cx="645.8" cy="488.7" rx="0.64" ry="0.54" fill="#eee4f4" opacity="0.8"/><ellipse cx="606.8" cy="488.6" rx="0.72" ry="0.61" fill="#eee4f4" opacity="0.8"/><ellipse cx="681.1" cy="488.9" rx="0.53" ry="0.37" fill="#eee4f4" opacity="0.8"/></g>
<g><ellipse cx="620.8" cy="488.4" rx="0.71" ry="0.65" fill="#5a3aa0" opacity="0.6" transform="rotate(13 620.8 488.4)"/><ellipse cx="682.9" cy="484.2" rx="0.88" ry="0.41" fill="#5a3aa0" opacity="0.6" transform="rotate(-12 682.9 484.2)"/><ellipse cx="593.2" cy="489.3" rx="1.03" ry="0.60" fill="#5a3aa0" opacity="0.6" transform="rotate(10 593.2 489.3)"/><ellipse cx="623.1" cy="483.0" rx="1.01" ry="0.41" fill="#5a3aa0" opacity="0.6" transform="rotate(6 623.1 483.0)"/><ellipse cx="608.5" cy="482.8" rx="1.50" ry="0.51" fill="#5a3aa0" opacity="0.6" transform="rotate(18 608.5 482.8)"/><ellipse cx="681.2" cy="489.0" rx="0.92" ry="0.44" fill="#5a3aa0" opacity="0.6" transform="rotate(-10 681.2 489.0)"/><ellipse cx="658.8" cy="487.1" rx="0.97" ry="0.40" fill="#5a3aa0" opacity="0.6" transform="rotate(-6 658.8 487.1)"/><ellipse cx="627.1" cy="481.8" rx="0.92" ry="0.47" fill="#5a3aa0" opacity="0.6" transform="rotate(-3 627.1 481.8)"/><ellipse cx="636.4" cy="487.8" rx="1.46" ry="0.47" fill="#5a3aa0" opacity="0.6" transform="rotate(-16 636.4 487.8)"/><ellipse cx="618.9" cy="483.6" rx="1.22" ry="0.52" fill="#5a3aa0" opacity="0.6" transform="rotate(-7 618.9 483.6)"/><ellipse cx="599.7" cy="490.0" rx="1.26" ry="0.56" fill="#5a3aa0" opacity="0.6" transform="rotate(8 599.7 490.0)"/><ellipse cx="669.7" cy="481.4" rx="0.87" ry="0.52" fill="#5a3aa0" opacity="0.6" transform="rotate(8 669.7 481.4)"/><ellipse cx="637.4" cy="487.1" rx="0.98" ry="0.46" fill="#5a3aa0" opacity="0.6" transform="rotate(15 637.4 487.1)"/><ellipse cx="681.4" cy="487.0" rx="1.12" ry="0.43" fill="#5a3aa0" opacity="0.6" transform="rotate(4 681.4 487.0)"/><ellipse cx="610.5" cy="488.5" rx="0.95" ry="0.52" fill="#5a3aa0" opacity="0.6" transform="rotate(15 610.5 488.5)"/><ellipse cx="619.7" cy="487.4" rx="0.99" ry="0.52" fill="#5a3aa0" opacity="0.6" transform="rotate(15 619.7 487.4)"/><ellipse cx="636.3" cy="492.6" rx="1.07" ry="0.51" fill="#5a3aa0" opacity="0.6" transform="rotate(6 636.3 492.6)"/><ellipse cx="637.1" cy="489.1" rx="0.96" ry="0.40" fill="#5a3aa0" opacity="0.6" transform="rotate(-3 637.1 489.1)"/><ellipse cx="596.9" cy="484.0" rx="1.24" ry="0.57" fill="#5a3aa0" opacity="0.6" transform="rotate(16 596.9 484.0)"/><ellipse cx="653.4" cy="487.7" rx="1.01" ry="0.52" fill="#5a3aa0" opacity="0.6" transform="rotate(-8 653.4 487.7)"/><ellipse cx="600.4" cy="487.4" rx="1.27" ry="0.48" fill="#5a3aa0" opacity="0.6" transform="rotate(10 600.4 487.4)"/><ellipse cx="639.8" cy="484.7" rx="1.47" ry="0.41" fill="#5a3aa0" opacity="0.6" transform="rotate(-9 639.8 484.7)"/><ellipse cx="620.5" cy="489.1" rx="0.93" ry="0.65" fill="#5a3aa0" opacity="0.6" transform="rotate(-16 620.5 489.1)"/><ellipse cx="632.4" cy="486.6" rx="1.37" ry="0.46" fill="#5a3aa0" opacity="0.6" transform="rotate(-14 632.4 486.6)"/><ellipse cx="659.5" cy="490.4" rx="1.22" ry="0.63" fill="#5a3aa0" opacity="0.6" transform="rotate(-4 659.5 490.4)"/><ellipse cx="632.3" cy="487.0" rx="0.81" ry="0.61" fill="#5a3aa0" opacity="0.6" transform="rotate(-18 632.3 487.0)"/><ellipse cx="598.1" cy="491.9" rx="1.11" ry="0.44" fill="#5a3aa0" opacity="0.6" transform="rotate(16 598.1 491.9)"/><ellipse cx="608.5" cy="486.4" rx="0.71" ry="0.44" fill="#5a3aa0" opacity="0.6" transform="rotate(-1 608.5 486.4)"/><ellipse cx="655.5" cy="482.6" rx="1.39" ry="0.56" fill="#5a3aa0" opacity="0.6" transform="rotate(7 655.5 482.6)"/><ellipse cx="679.8" cy="486.8" rx="0.70" ry="0.41" fill="#5a3aa0" opacity="0.6" transform="rotate(15 679.8 486.8)"/><ellipse cx="601.0" cy="484.3" rx="1.29" ry="0.58" fill="#5a3aa0" opacity="0.6" transform="rotate(10 601.0 484.3)"/><ellipse cx="642.5" cy="484.9" rx="1.51" ry="0.40" fill="#5a3aa0" opacity="0.6" transform="rotate(-10 642.5 484.9)"/><ellipse cx="681.8" cy="483.3" rx="1.46" ry="0.55" fill="#5a3aa0" opacity="0.6" transform="rotate(5 681.8 483.3)"/><ellipse cx="649.2" cy="486.4" rx="1.46" ry="0.41" fill="#5a3aa0" opacity="0.6" transform="rotate(-9 649.2 486.4)"/><ellipse cx="662.0" cy="489.9" rx="1.28" ry="0.57" fill="#5a3aa0" opacity="0.6" transform="rotate(-8 662.0 489.9)"/></g>
<g><ellipse cx="597.8" cy="510.3" rx="1.59" ry="0.49" fill="#6048b0" opacity="0.75" transform="rotate(2 597.8 510.3)"/><ellipse cx="625.4" cy="513.8" rx="1.32" ry="0.55" fill="#6048b0" opacity="0.75" transform="rotate(19 625.4 513.8)"/><ellipse cx="655.7" cy="504.2" rx="1.04" ry="0.56" fill="#6048b0" opacity="0.75" transform="rotate(8 655.7 504.2)"/><ellipse cx="611.4" cy="515.4" rx="1.10" ry="0.59" fill="#6048b0" opacity="0.75" transform="rotate(-16 611.4 515.4)"/><ellipse cx="620.2" cy="496.4" rx="1.08" ry="0.46" fill="#6048b0" opacity="0.75" transform="rotate(-6 620.2 496.4)"/><ellipse cx="611.3" cy="516.4" rx="1.27" ry="0.49" fill="#6048b0" opacity="0.75" transform="rotate(-0 611.3 516.4)"/><ellipse cx="608.0" cy="518.6" rx="1.51" ry="0.54" fill="#6048b0" opacity="0.75" transform="rotate(-14 608.0 518.6)"/><ellipse cx="678.7" cy="501.2" rx="0.75" ry="0.50" fill="#6048b0" opacity="0.75" transform="rotate(-5 678.7 501.2)"/><ellipse cx="669.2" cy="499.5" rx="0.75" ry="0.51" fill="#6048b0" opacity="0.75" transform="rotate(-18 669.2 499.5)"/><ellipse cx="652.0" cy="507.7" rx="1.49" ry="0.63" fill="#6048b0" opacity="0.75" transform="rotate(-11 652.0 507.7)"/><ellipse cx="663.4" cy="508.0" rx="1.56" ry="0.42" fill="#6048b0" opacity="0.75" transform="rotate(-2 663.4 508.0)"/><ellipse cx="681.2" cy="497.3" rx="0.97" ry="0.48" fill="#6048b0" opacity="0.75" transform="rotate(-6 681.2 497.3)"/><ellipse cx="682.3" cy="500.6" rx="1.44" ry="0.47" fill="#6048b0" opacity="0.75" transform="rotate(15 682.3 500.6)"/><ellipse cx="604.5" cy="498.4" rx="1.59" ry="0.40" fill="#6048b0" opacity="0.75" transform="rotate(6 604.5 498.4)"/></g>
<rect x="589.00" y="466.00" width="95.50" height="0.90" fill="#fff" />
<rect x="589.00" y="466.00" width="0.90" height="60.00" fill="#fff" />
<rect x="472.00" y="520.50" width="25.00" height="1.80" fill="#111" />
<rect x="594.00" y="521.30" width="21.60" height="1.80" fill="#111" />
</svg>
</body></html>
